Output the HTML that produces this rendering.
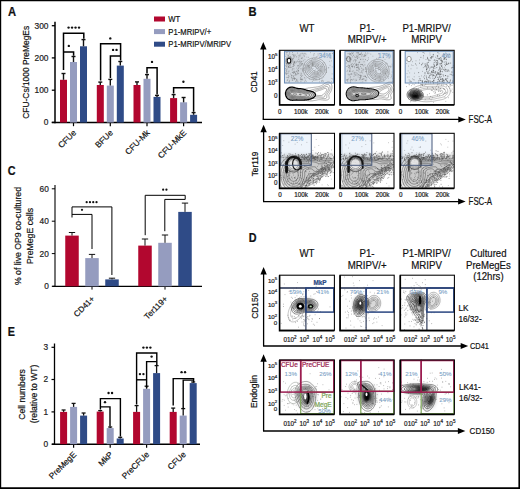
<!DOCTYPE html>
<html><head><meta charset="utf-8"><style>
html,body{margin:0;padding:0;background:#fff;}
svg{display:block;font-family:"Liberation Sans", sans-serif;}
</style></head><body>
<svg width="520" height="489" viewBox="0 0 520 489">
<rect x="0" y="0" width="520" height="489" fill="#fff"/>
<text transform="translate(8.1 15.8) scale(0.9 1)" font-size="12.44" text-anchor="start" font-weight="bold" fill="#111"  stroke="#111" stroke-width="0.2">A</text>
<line x1="55" y1="21.8" x2="55" y2="123.2" stroke="#000" stroke-width="1.5"/>
<line x1="51.8" y1="122.4" x2="55" y2="122.4" stroke="#000" stroke-width="1.3"/>
<text x="48.5" y="125.30000000000001" font-size="8.4" text-anchor="end" font-weight="normal" fill="#222"  stroke="#222" stroke-width="0.2">0</text>
<line x1="51.8" y1="90.2" x2="55" y2="90.2" stroke="#000" stroke-width="1.3"/>
<text x="48.5" y="93.10000000000001" font-size="8.4" text-anchor="end" font-weight="normal" fill="#222"  stroke="#222" stroke-width="0.2">100</text>
<line x1="51.8" y1="57.9" x2="55" y2="57.9" stroke="#000" stroke-width="1.3"/>
<text x="48.5" y="60.8" font-size="8.4" text-anchor="end" font-weight="normal" fill="#222"  stroke="#222" stroke-width="0.2">200</text>
<line x1="51.8" y1="25.7" x2="55" y2="25.7" stroke="#000" stroke-width="1.3"/>
<text x="48.5" y="28.599999999999998" font-size="8.4" text-anchor="end" font-weight="normal" fill="#222"  stroke="#222" stroke-width="0.2">300</text>
<line x1="51.8" y1="122.5" x2="202" y2="122.5" stroke="#000" stroke-width="1.6"/>
<line x1="73.5" y1="122.5" x2="73.5" y2="126.2" stroke="#000" stroke-width="1.2"/>
<line x1="110.3" y1="122.5" x2="110.3" y2="126.2" stroke="#000" stroke-width="1.2"/>
<line x1="147.0" y1="122.5" x2="147.0" y2="126.2" stroke="#000" stroke-width="1.2"/>
<line x1="183.6" y1="122.5" x2="183.6" y2="126.2" stroke="#000" stroke-width="1.2"/>
<rect x="60.0" y="79.8" width="7" height="42.7" fill="#b2072f" />
<line x1="63.5" y1="79.8" x2="63.5" y2="73.5" stroke="#111" stroke-width="1.4"/>
<line x1="61.5" y1="73.5" x2="65.5" y2="73.5" stroke="#111" stroke-width="1.4"/>
<rect x="70.0" y="62.0" width="7" height="60.5" fill="#959cbf" />
<line x1="73.5" y1="62.0" x2="73.5" y2="56.5" stroke="#111" stroke-width="1.4"/>
<line x1="71.5" y1="56.5" x2="75.5" y2="56.5" stroke="#111" stroke-width="1.4"/>
<rect x="80.0" y="46.3" width="7" height="76.2" fill="#2f4b87" />
<line x1="83.5" y1="46.3" x2="83.5" y2="39.6" stroke="#111" stroke-width="1.4"/>
<line x1="81.5" y1="39.6" x2="85.5" y2="39.6" stroke="#111" stroke-width="1.4"/>
<rect x="96.8" y="85.0" width="7" height="37.5" fill="#b2072f" />
<line x1="100.3" y1="85.0" x2="100.3" y2="82.1" stroke="#111" stroke-width="1.4"/>
<line x1="98.3" y1="82.1" x2="102.3" y2="82.1" stroke="#111" stroke-width="1.4"/>
<rect x="106.8" y="85.6" width="7" height="36.900000000000006" fill="#959cbf" />
<line x1="110.3" y1="85.6" x2="110.3" y2="79.4" stroke="#111" stroke-width="1.4"/>
<line x1="108.3" y1="79.4" x2="112.3" y2="79.4" stroke="#111" stroke-width="1.4"/>
<rect x="116.8" y="65.6" width="7" height="56.900000000000006" fill="#2f4b87" />
<line x1="120.3" y1="65.6" x2="120.3" y2="61.5" stroke="#111" stroke-width="1.4"/>
<line x1="118.3" y1="61.5" x2="122.3" y2="61.5" stroke="#111" stroke-width="1.4"/>
<rect x="133.5" y="85.0" width="7" height="37.5" fill="#b2072f" />
<line x1="137.0" y1="85.0" x2="137.0" y2="81.9" stroke="#111" stroke-width="1.4"/>
<line x1="135.0" y1="81.9" x2="139.0" y2="81.9" stroke="#111" stroke-width="1.4"/>
<rect x="143.5" y="78.8" width="7" height="43.7" fill="#959cbf" />
<line x1="147.0" y1="78.8" x2="147.0" y2="74.6" stroke="#111" stroke-width="1.4"/>
<line x1="145.0" y1="74.6" x2="149.0" y2="74.6" stroke="#111" stroke-width="1.4"/>
<rect x="153.5" y="96.9" width="7" height="25.599999999999994" fill="#2f4b87" />
<line x1="157.0" y1="96.9" x2="157.0" y2="95.4" stroke="#111" stroke-width="1.4"/>
<line x1="155.0" y1="95.4" x2="159.0" y2="95.4" stroke="#111" stroke-width="1.4"/>
<rect x="170.1" y="98.1" width="7" height="24.400000000000006" fill="#b2072f" />
<line x1="173.6" y1="98.1" x2="173.6" y2="94.6" stroke="#111" stroke-width="1.4"/>
<line x1="171.6" y1="94.6" x2="175.6" y2="94.6" stroke="#111" stroke-width="1.4"/>
<rect x="180.1" y="102.3" width="7" height="20.200000000000003" fill="#959cbf" />
<line x1="183.6" y1="102.3" x2="183.6" y2="97.5" stroke="#111" stroke-width="1.4"/>
<line x1="181.6" y1="97.5" x2="185.6" y2="97.5" stroke="#111" stroke-width="1.4"/>
<rect x="190.1" y="114.8" width="7" height="7.700000000000003" fill="#2f4b87" />
<line x1="193.6" y1="114.8" x2="193.6" y2="112.6" stroke="#111" stroke-width="1.4"/>
<line x1="191.6" y1="112.6" x2="195.6" y2="112.6" stroke="#111" stroke-width="1.4"/>
<path d="M63.5,70 V33.2 H83.8 V38.8" stroke="#000" stroke-width="1.5" fill="none" />
<g fill="#111"><circle cx="68.57" cy="27.58" r="1.19"/><circle cx="72.06" cy="27.58" r="1.19"/><circle cx="75.54" cy="27.58" r="1.19"/><circle cx="79.03" cy="27.58" r="1.19"/></g>
<path d="M63.5,52 H73.6 V55.8" stroke="#000" stroke-width="1.5" fill="none" />
<g fill="#111"><circle cx="68.80" cy="45.88" r="1.19"/></g>
<path d="M100.6,80.5 V43.8 H120.6 V60.6" stroke="#000" stroke-width="1.5" fill="none" />
<g fill="#111"><circle cx="110.30" cy="38.38" r="1.19"/></g>
<path d="M110.4,78.0 V56.0 H120.6" stroke="#000" stroke-width="1.5" fill="none" />
<g fill="#111"><circle cx="113.06" cy="49.88" r="1.19"/><circle cx="116.54" cy="49.88" r="1.19"/></g>
<path d="M147.0,73.6 V67.8 H157.1 V94.6" stroke="#000" stroke-width="1.5" fill="none" />
<g fill="#111"><circle cx="152.00" cy="61.88" r="1.19"/></g>
<path d="M173.6,93.6 V87.8 H193.6 V111.8" stroke="#000" stroke-width="1.5" fill="none" />
<g fill="#111"><circle cx="183.40" cy="81.78" r="1.19"/></g>
<text transform="translate(29.3 72.3) rotate(-90) scale(0.92 1)" font-size="9.13" text-anchor="middle" fill="#111" stroke="#111" stroke-width="0.2">CFU-Cs/1000 PreMegEs</text>
<text transform="translate(76.8,133.3) rotate(-45)" font-size="8.3" text-anchor="end" fill="#111" stroke="#111" stroke-width="0.2">CFUe</text>
<text transform="translate(113.6,133.3) rotate(-45)" font-size="8.3" text-anchor="end" fill="#111" stroke="#111" stroke-width="0.2">BFUe</text>
<text transform="translate(150.3,133.3) rotate(-45)" font-size="8.3" text-anchor="end" fill="#111" stroke="#111" stroke-width="0.2">CFU-Mk</text>
<text transform="translate(186.9,133.3) rotate(-45)" font-size="8.3" text-anchor="end" fill="#111" stroke="#111" stroke-width="0.2">CFU-MkE</text>
<rect x="154" y="16.5" width="11" height="5" fill="#b2072f" />
<text transform="translate(168.3 22.0) scale(0.84 1)" font-size="9.17" text-anchor="start" font-weight="normal" fill="#111"  stroke="#111" stroke-width="0.2">WT</text>
<rect x="154" y="29.1" width="11" height="5" fill="#959cbf" />
<text transform="translate(168.3 34.6) scale(0.84 1)" font-size="9.17" text-anchor="start" font-weight="normal" fill="#111"  stroke="#111" stroke-width="0.2">P1-MRIPV/+</text>
<rect x="154" y="41.7" width="11" height="5" fill="#2f4b87" />
<text transform="translate(168.3 47.2) scale(0.84 1)" font-size="9.17" text-anchor="start" font-weight="normal" fill="#111"  stroke="#111" stroke-width="0.2">P1-MRIPV/MRIPV</text>
<text transform="translate(7.7 175.3) scale(0.9 1)" font-size="12.00" text-anchor="start" font-weight="bold" fill="#111"  stroke="#111" stroke-width="0.2">C</text>
<line x1="55" y1="185.0" x2="55" y2="286.8" stroke="#000" stroke-width="1.1"/>
<line x1="51.8" y1="286.3" x2="55" y2="286.3" stroke="#000" stroke-width="1.0"/>
<text x="48.8" y="289.2" font-size="8.3" text-anchor="end" font-weight="normal" fill="#222"  stroke="#222" stroke-width="0.2">0</text>
<line x1="51.8" y1="253.6" x2="55" y2="253.6" stroke="#000" stroke-width="1.0"/>
<text x="48.8" y="256.5" font-size="8.3" text-anchor="end" font-weight="normal" fill="#222"  stroke="#222" stroke-width="0.2">20</text>
<line x1="51.8" y1="221.2" x2="55" y2="221.2" stroke="#000" stroke-width="1.0"/>
<text x="48.8" y="224.1" font-size="8.3" text-anchor="end" font-weight="normal" fill="#222"  stroke="#222" stroke-width="0.2">40</text>
<line x1="51.8" y1="188.8" x2="55" y2="188.8" stroke="#000" stroke-width="1.0"/>
<text x="48.8" y="191.70000000000002" font-size="8.3" text-anchor="end" font-weight="normal" fill="#222"  stroke="#222" stroke-width="0.2">60</text>
<line x1="52.3" y1="286.3" x2="202" y2="286.3" stroke="#000" stroke-width="1.2"/>
<line x1="92" y1="286.3" x2="92" y2="289.6" stroke="#000" stroke-width="1.0"/>
<line x1="165" y1="286.3" x2="165" y2="289.6" stroke="#000" stroke-width="1.0"/>
<rect x="65.25" y="235.6" width="13.5" height="50.70000000000002" fill="#b2072f" />
<line x1="72.0" y1="235.6" x2="72.0" y2="232.5" stroke="#111" stroke-width="1.0"/>
<line x1="68.85" y1="232.5" x2="75.15" y2="232.5" stroke="#111" stroke-width="1.0"/>
<rect x="85.25" y="258.1" width="13.5" height="28.19999999999999" fill="#959cbf" />
<line x1="92.0" y1="258.1" x2="92.0" y2="254.4" stroke="#111" stroke-width="1.0"/>
<line x1="88.85" y1="254.4" x2="95.15" y2="254.4" stroke="#111" stroke-width="1.0"/>
<rect x="105.25" y="279.4" width="13.5" height="6.900000000000034" fill="#2f4b87" />
<line x1="112.0" y1="279.4" x2="112.0" y2="278.2" stroke="#111" stroke-width="1.0"/>
<line x1="108.85" y1="278.2" x2="115.15" y2="278.2" stroke="#111" stroke-width="1.0"/>
<rect x="138.25" y="245.6" width="13.5" height="40.70000000000002" fill="#b2072f" />
<line x1="145.0" y1="245.6" x2="145.0" y2="239.0" stroke="#111" stroke-width="1.0"/>
<line x1="141.85" y1="239.0" x2="148.15" y2="239.0" stroke="#111" stroke-width="1.0"/>
<rect x="158.25" y="242.8" width="13.5" height="43.5" fill="#959cbf" />
<line x1="165.0" y1="242.8" x2="165.0" y2="235.0" stroke="#111" stroke-width="1.0"/>
<line x1="161.85" y1="235.0" x2="168.15" y2="235.0" stroke="#111" stroke-width="1.0"/>
<rect x="178.25" y="211.9" width="13.5" height="74.4" fill="#2f4b87" />
<line x1="185.0" y1="211.9" x2="185.0" y2="203.1" stroke="#111" stroke-width="1.0"/>
<line x1="181.85" y1="203.1" x2="188.15" y2="203.1" stroke="#111" stroke-width="1.0"/>
<path d="M72,217.5 V206.9 H111.9 V275" stroke="#000" stroke-width="1.0" fill="none" />
<g fill="#111"><circle cx="86.68" cy="202.24" r="1.12"/><circle cx="89.96" cy="202.24" r="1.12"/><circle cx="93.24" cy="202.24" r="1.12"/><circle cx="96.52" cy="202.24" r="1.12"/></g>
<path d="M72,214.4 H92 V249" stroke="#000" stroke-width="1.0" fill="none" />
<g fill="#111"><circle cx="82.00" cy="209.84" r="1.12"/></g>
<path d="M145.2,235.2 V195.3 H185.2 V199.4" stroke="#000" stroke-width="1.0" fill="none" />
<g fill="#111"><circle cx="163.16" cy="189.64" r="1.12"/><circle cx="166.44" cy="189.64" r="1.12"/></g>
<path d="M164.8,231.2 V199.4 H185.2" stroke="#000" stroke-width="1.0" fill="none" />
<text transform="translate(20.6,236) rotate(-90)" font-size="8.7" text-anchor="middle" fill="#111" stroke="#111" stroke-width="0.2">% of live OP9 co-cultured</text>
<text transform="translate(33.4,236) rotate(-90)" font-size="8.7" text-anchor="middle" fill="#111" stroke="#111" stroke-width="0.2">PreMegE cells</text>
<text transform="translate(95.2,299.3) rotate(-45)" font-size="8.2" text-anchor="end" fill="#111" stroke="#111" stroke-width="0.2">CD41+</text>
<text transform="translate(168.2,299.3) rotate(-45)" font-size="8.2" text-anchor="end" fill="#111" stroke="#111" stroke-width="0.2">Ter119+</text>
<text transform="translate(7.7 336.1) scale(0.9 1)" font-size="12.00" text-anchor="start" font-weight="bold" fill="#111"  stroke="#111" stroke-width="0.2">E</text>
<line x1="54.5" y1="343.5" x2="54.5" y2="444.8" stroke="#000" stroke-width="1.3"/>
<line x1="51.5" y1="444.2" x2="54.5" y2="444.2" stroke="#000" stroke-width="1.2"/>
<text x="48.2" y="447.09999999999997" font-size="8.3" text-anchor="end" font-weight="normal" fill="#222"  stroke="#222" stroke-width="0.2">0</text>
<line x1="51.5" y1="411.9" x2="54.5" y2="411.9" stroke="#000" stroke-width="1.2"/>
<text x="48.2" y="414.79999999999995" font-size="8.3" text-anchor="end" font-weight="normal" fill="#222"  stroke="#222" stroke-width="0.2">1</text>
<line x1="51.5" y1="379.5" x2="54.5" y2="379.5" stroke="#000" stroke-width="1.2"/>
<text x="48.2" y="382.4" font-size="8.3" text-anchor="end" font-weight="normal" fill="#222"  stroke="#222" stroke-width="0.2">2</text>
<line x1="51.5" y1="347.3" x2="54.5" y2="347.3" stroke="#000" stroke-width="1.2"/>
<text x="48.2" y="350.2" font-size="8.3" text-anchor="end" font-weight="normal" fill="#222"  stroke="#222" stroke-width="0.2">3</text>
<line x1="52" y1="444.2" x2="200" y2="444.2" stroke="#000" stroke-width="1.5"/>
<line x1="73.6" y1="444.2" x2="73.6" y2="447.8" stroke="#000" stroke-width="1.2"/>
<line x1="110.2" y1="444.2" x2="110.2" y2="447.8" stroke="#000" stroke-width="1.2"/>
<line x1="146.6" y1="444.2" x2="146.6" y2="447.8" stroke="#000" stroke-width="1.2"/>
<line x1="183.2" y1="444.2" x2="183.2" y2="447.8" stroke="#000" stroke-width="1.2"/>
<rect x="60.099999999999994" y="411.9" width="7" height="32.30000000000001" fill="#b2072f" />
<line x1="63.599999999999994" y1="411.9" x2="63.599999999999994" y2="410.0" stroke="#111" stroke-width="1.3"/>
<line x1="61.599999999999994" y1="410.0" x2="65.6" y2="410.0" stroke="#111" stroke-width="1.3"/>
<rect x="70.1" y="406.9" width="7" height="37.30000000000001" fill="#959cbf" />
<line x1="73.6" y1="406.9" x2="73.6" y2="403.4" stroke="#111" stroke-width="1.3"/>
<line x1="71.6" y1="403.4" x2="75.6" y2="403.4" stroke="#111" stroke-width="1.3"/>
<rect x="80.1" y="415.6" width="7" height="28.599999999999966" fill="#2f4b87" />
<line x1="83.6" y1="415.6" x2="83.6" y2="413.0" stroke="#111" stroke-width="1.3"/>
<line x1="81.6" y1="413.0" x2="85.6" y2="413.0" stroke="#111" stroke-width="1.3"/>
<rect x="96.7" y="411.6" width="7" height="32.599999999999966" fill="#b2072f" />
<line x1="100.2" y1="411.6" x2="100.2" y2="410.6" stroke="#111" stroke-width="1.3"/>
<line x1="98.2" y1="410.6" x2="102.2" y2="410.6" stroke="#111" stroke-width="1.3"/>
<rect x="106.7" y="428.1" width="7" height="16.099999999999966" fill="#959cbf" />
<line x1="110.2" y1="428.1" x2="110.2" y2="427.0" stroke="#111" stroke-width="1.3"/>
<line x1="108.2" y1="427.0" x2="112.2" y2="427.0" stroke="#111" stroke-width="1.3"/>
<rect x="116.7" y="438.5" width="7" height="5.699999999999989" fill="#2f4b87" />
<line x1="120.2" y1="438.5" x2="120.2" y2="437.3" stroke="#111" stroke-width="1.3"/>
<line x1="118.2" y1="437.3" x2="122.2" y2="437.3" stroke="#111" stroke-width="1.3"/>
<rect x="133.1" y="411.9" width="7" height="32.30000000000001" fill="#b2072f" />
<line x1="136.6" y1="411.9" x2="136.6" y2="405.6" stroke="#111" stroke-width="1.3"/>
<line x1="134.6" y1="405.6" x2="138.6" y2="405.6" stroke="#111" stroke-width="1.3"/>
<rect x="143.1" y="388.8" width="7" height="55.39999999999998" fill="#959cbf" />
<line x1="146.6" y1="388.8" x2="146.6" y2="386.2" stroke="#111" stroke-width="1.3"/>
<line x1="144.6" y1="386.2" x2="148.6" y2="386.2" stroke="#111" stroke-width="1.3"/>
<rect x="153.1" y="373.1" width="7" height="71.09999999999997" fill="#2f4b87" />
<line x1="156.6" y1="373.1" x2="156.6" y2="365.6" stroke="#111" stroke-width="1.3"/>
<line x1="154.6" y1="365.6" x2="158.6" y2="365.6" stroke="#111" stroke-width="1.3"/>
<rect x="169.7" y="411.9" width="7" height="32.30000000000001" fill="#b2072f" />
<line x1="173.2" y1="411.9" x2="173.2" y2="408.1" stroke="#111" stroke-width="1.3"/>
<line x1="171.2" y1="408.1" x2="175.2" y2="408.1" stroke="#111" stroke-width="1.3"/>
<rect x="179.7" y="415.6" width="7" height="28.599999999999966" fill="#959cbf" />
<line x1="183.2" y1="415.6" x2="183.2" y2="408.6" stroke="#111" stroke-width="1.3"/>
<line x1="181.2" y1="408.6" x2="185.2" y2="408.6" stroke="#111" stroke-width="1.3"/>
<rect x="189.7" y="383.1" width="7" height="61.099999999999966" fill="#2f4b87" />
<line x1="193.2" y1="383.1" x2="193.2" y2="382.0" stroke="#111" stroke-width="1.3"/>
<line x1="191.2" y1="382.0" x2="195.2" y2="382.0" stroke="#111" stroke-width="1.3"/>
<path d="M100.4,409.5 V398.6 H120.4 V436.6" stroke="#000" stroke-width="1.4" fill="none" />
<g fill="#111"><circle cx="108.56" cy="392.98" r="1.19"/><circle cx="112.04" cy="392.98" r="1.19"/></g>
<path d="M100.4,406.9 H110.0 V426.6" stroke="#000" stroke-width="1.4" fill="none" />
<g fill="#111"><circle cx="105.00" cy="402.18" r="1.19"/></g>
<path d="M136.6,404.5 V353.0 H156.8 V365.0" stroke="#000" stroke-width="1.4" fill="none" />
<g fill="#111"><circle cx="143.41" cy="347.58" r="1.19"/><circle cx="146.90" cy="347.58" r="1.19"/><circle cx="150.38" cy="347.58" r="1.19"/></g>
<path d="M146.6,388.0 V361.6 H156.8" stroke="#000" stroke-width="1.4" fill="none" />
<g fill="#111"><circle cx="151.60" cy="356.58" r="1.19"/></g>
<path d="M136.6,379.8 H146.6" stroke="#000" stroke-width="1.4" fill="none" />
<g fill="#111"><circle cx="139.96" cy="374.08" r="1.19"/><circle cx="143.44" cy="374.08" r="1.19"/></g>
<path d="M173.2,405.6 V378.6 H193.6 V382.0" stroke="#000" stroke-width="1.4" fill="none" />
<g fill="#111"><circle cx="181.56" cy="372.18" r="1.19"/><circle cx="185.04" cy="372.18" r="1.19"/></g>
<path d="M183.2,408.6 V380.1 H193.6" stroke="#000" stroke-width="1.4" fill="none" />
<text transform="translate(25.0,394.5) rotate(-90)" font-size="8.6" text-anchor="middle" fill="#111" stroke="#111" stroke-width="0.2">Cell numbers</text>
<text transform="translate(37.3,394.0) rotate(-90)" font-size="8.6" text-anchor="middle" fill="#111" stroke="#111" stroke-width="0.2">(relative to WT)</text>
<text transform="translate(76.8,455.0) rotate(-45)" font-size="8.3" text-anchor="end" fill="#111" stroke="#111" stroke-width="0.2">PreMegE</text>
<text transform="translate(113.4,455.0) rotate(-45)" font-size="8.3" text-anchor="end" fill="#111" stroke="#111" stroke-width="0.2">MkP</text>
<text transform="translate(149.79999999999998,455.0) rotate(-45)" font-size="8.3" text-anchor="end" fill="#111" stroke="#111" stroke-width="0.2">PreCFUe</text>
<text transform="translate(186.39999999999998,455.0) rotate(-45)" font-size="8.3" text-anchor="end" fill="#111" stroke="#111" stroke-width="0.2">CFUe</text>
<text transform="translate(248.6 15.8) scale(0.9 1)" font-size="12.44" text-anchor="start" font-weight="bold" fill="#111"  stroke="#111" stroke-width="0.2">B</text>
<text transform="translate(307 32.0) scale(0.88 1)" font-size="11.02" text-anchor="middle" font-weight="normal" fill="#111"  stroke="#111" stroke-width="0.2">WT</text>
<text transform="translate(367 32.0) scale(0.88 1)" font-size="11.02" text-anchor="middle" font-weight="normal" fill="#111"  stroke="#111" stroke-width="0.2">P1-</text>
<text transform="translate(367.2 43.2) scale(0.88 1)" font-size="11.02" text-anchor="middle" font-weight="normal" fill="#111"  stroke="#111" stroke-width="0.2">MRIPV/+</text>
<text transform="translate(426.6 32.0) scale(0.88 1)" font-size="11.02" text-anchor="middle" font-weight="normal" fill="#111"  stroke="#111" stroke-width="0.2">P1-MRIPV/</text>
<text transform="translate(426.6 43.2) scale(0.88 1)" font-size="11.02" text-anchor="middle" font-weight="normal" fill="#111"  stroke="#111" stroke-width="0.2">MRIPV</text>
<rect x="279.5" y="50.3" width="55.0" height="54.400000000000006" fill="#fff"/>
<rect x="284.5" y="51.3" width="49.0" height="31.700000000000003" fill="#e9f1fa"/>
<clipPath id="c1"><rect x="279.5" y="50.3" width="55.0" height="54.400000000000006"/></clipPath><g clip-path="url(#c1)">
<filter id="b0" x="-50%" y="-50%" width="200%" height="200%"><feGaussianBlur stdDeviation="1.2"/></filter>
<path d="M285.5,52.3 L332.5,52.3 L332.5,82.3 L285.5,82.3Z" fill="#999" opacity="0.17" filter="url(#b0)"/>
<filter id="b1" x="-50%" y="-50%" width="200%" height="200%"><feGaussianBlur stdDeviation="1.5"/></filter>
<path d="M285.5,52.3 L305.5,52.3 L305.5,82.3 L285.5,82.3Z" fill="#888" opacity="0.13" filter="url(#b1)"/>
<path d="M312.4 65.2h0M312.7 58.5h0M323.7 77.0h0M316.2 57.1h0M310.0 62.1h0M297.2 80.9h0M332.3 53.6h0M325.9 70.4h0M303.4 60.8h0M317.2 66.0h0M317.7 72.2h0M291.7 75.3h0M331.7 81.4h0M314.3 53.6h0M285.7 56.3h0M329.7 61.4h0M302.7 79.2h0M300.3 68.8h0M306.0 54.2h0M313.0 77.6h0M292.9 59.0h0M304.9 53.4h0M308.8 76.8h0M316.4 68.3h0M325.7 56.8h0M312.2 63.5h0M313.8 55.7h0M321.9 55.2h0M293.3 76.5h0M330.0 65.3h0M305.0 59.7h0M298.4 70.8h0M293.9 55.9h0M306.9 57.2h0M316.0 76.9h0M322.0 66.7h0M301.8 65.3h0M285.7 73.7h0M301.1 61.9h0M289.3 65.7h0M312.9 64.0h0M326.4 72.5h0M296.8 68.1h0M328.3 67.9h0M313.8 54.2h0M308.5 66.1h0M304.4 64.9h0M313.0 68.5h0M308.5 57.3h0M306.2 81.4h0M305.0 53.4h0M285.6 68.4h0M287.9 55.1h0M290.6 65.9h0M332.2 66.9h0M307.1 65.4h0M309.1 65.7h0M319.6 79.2h0M318.3 65.0h0M316.0 79.6h0M292.7 59.4h0M314.6 72.9h0M315.7 70.0h0M324.5 66.7h0M323.5 81.2h0M306.0 78.1h0M319.3 79.0h0M287.7 79.7h0M321.5 81.2h0M331.6 60.9h0M317.0 56.5h0M313.5 79.9h0M294.5 62.8h0M289.2 58.1h0M295.3 55.2h0M332.5 78.9h0M307.3 74.6h0M318.2 68.0h0M305.4 72.2h0M311.6 60.3h0M302.6 71.1h0M315.0 58.6h0M314.2 78.5h0M326.5 71.9h0M288.8 65.0h0M289.7 54.0h0M297.5 66.0h0M321.2 71.2h0M298.8 73.2h0M309.3 67.5h0M297.9 65.5h0M301.6 74.1h0M308.2 65.7h0M307.9 66.7h0M317.9 73.9h0M323.2 64.5h0M322.8 81.2h0M332.1 73.9h0M288.6 77.7h0M324.8 52.8h0M300.9 62.0h0M320.3 70.6h0M298.8 57.9h0M293.4 55.2h0M322.7 80.4h0M295.8 74.6h0M330.2 58.1h0M312.4 65.5h0M331.3 78.4h0M286.3 58.3h0M325.4 69.5h0M310.1 76.6h0M321.4 80.9h0M300.9 53.7h0M318.0 53.8h0M312.1 78.1h0M304.2 70.3h0M293.6 57.0h0M314.0 78.2h0M332.5 53.2h0M328.8 67.6h0M301.9 64.2h0M312.7 62.7h0M292.3 78.3h0M318.7 70.6h0M319.5 81.9h0M293.7 77.0h0M324.1 62.6h0M311.8 66.1h0M294.6 65.3h0M292.7 80.3h0M294.3 71.3h0M312.3 81.5h0M322.8 63.1h0M303.2 53.8h0M287.9 61.6h0M330.1 53.8h0M293.8 71.4h0M302.4 57.9h0M330.0 53.6h0M313.6 65.2h0M301.7 58.1h0M293.2 64.5h0M320.9 66.3h0M322.0 78.7h0M293.6 78.7h0M312.8 64.9h0M309.6 79.0h0M303.9 55.1h0M330.6 55.9h0M290.5 74.0h0M300.1 61.0h0M316.0 79.0h0M301.7 79.5h0M314.6 70.5h0M310.5 52.7h0M292.9 72.6h0M318.1 55.2h0M315.4 66.5h0M312.6 64.3h0M295.7 63.0h0M331.0 58.0h0M326.0 68.2h0M289.0 76.6h0M286.3 77.4h0" stroke="#333" stroke-width="0.70" stroke-linecap="round" opacity="0.45"/>
<path d="M292.3 79.9h0M300.0 63.1h0M298.0 81.9h0M288.9 58.5h0M291.3 76.9h0M290.4 59.7h0M297.8 69.8h0M293.9 68.8h0M286.1 52.5h0M286.1 54.0h0M300.9 81.7h0M288.0 63.9h0M285.8 65.3h0M298.7 71.0h0M303.5 68.9h0M286.6 63.6h0M294.7 62.4h0M286.2 71.1h0M295.3 73.6h0M292.8 54.4h0M290.8 57.6h0M294.7 56.9h0M287.1 68.0h0M288.3 55.4h0M287.9 73.5h0M301.6 76.6h0M297.0 71.4h0M300.6 65.1h0M295.7 73.7h0M298.2 70.6h0M298.4 68.4h0M289.8 61.5h0M299.3 64.9h0M302.7 63.5h0M298.9 55.8h0M291.5 77.8h0M289.0 71.1h0M286.1 70.6h0M294.5 79.3h0M302.0 75.5h0M292.3 72.4h0M288.6 67.0h0M293.3 66.4h0M291.0 58.7h0M295.9 71.9h0M296.8 80.9h0M296.6 56.8h0M298.3 61.8h0M304.3 56.2h0M294.7 72.5h0M304.9 68.0h0M293.1 75.6h0M301.2 79.7h0M299.9 56.1h0M305.3 80.2h0M294.2 72.1h0M302.2 79.8h0M300.0 55.0h0M286.9 63.3h0M294.6 61.6h0M300.5 75.2h0M293.5 73.2h0M289.4 80.8h0M290.3 57.0h0M293.1 78.2h0M297.5 72.9h0M301.9 63.9h0M304.7 81.9h0M296.2 74.8h0M302.6 70.0h0M288.1 72.0h0M294.6 77.9h0M289.7 52.7h0M289.1 57.4h0M293.2 58.5h0M292.2 70.0h0M288.6 66.8h0M292.6 52.4h0M299.0 67.3h0M301.0 78.6h0M286.5 73.7h0M294.7 78.5h0M287.8 77.5h0M294.1 55.1h0M294.7 78.6h0M287.0 63.7h0M287.1 52.5h0M302.0 68.8h0M296.9 79.3h0M287.2 80.6h0M300.6 77.8h0M301.8 64.1h0M286.0 82.2h0M298.2 73.7h0M299.4 61.3h0M298.6 65.8h0M290.0 67.3h0M294.9 61.4h0M300.5 79.6h0M297.5 53.0h0M296.4 71.2h0M301.8 61.4h0M290.2 63.5h0M288.7 75.7h0M286.0 69.2h0M302.2 53.3h0M288.8 82.1h0M291.7 75.3h0M286.1 66.3h0M286.4 59.7h0M285.8 72.7h0M294.6 62.9h0M293.9 72.7h0M290.7 56.9h0M286.3 71.9h0M298.8 59.5h0M295.8 81.4h0M295.0 75.3h0M292.5 68.9h0M301.1 73.2h0M297.4 61.1h0M286.6 66.8h0M300.0 63.1h0M300.0 66.4h0M286.9 69.7h0M296.5 62.0h0M289.5 81.9h0M297.2 74.0h0M286.3 74.3h0M288.7 66.8h0M293.4 64.0h0M301.3 58.4h0M304.4 77.8h0M295.3 78.6h0M296.5 79.8h0" stroke="#333" stroke-width="0.72" stroke-linecap="round" opacity="0.55"/>
<path d="M317.1,79.7l-.7 .1 -.8 .1 -.7 0 -.8 0 -.7-.1 -.8-.1 -.5-.1 -.7-.2 -.5-.1 -.5-.2 -.5-.2 -.5-.3 -.5-.2 -.5-.3 -.5-.3 -.5-.4 -.3-.2 -.5-.5 -.3-.3 -.4-.4 -.3-.3 -.4-.5 -.3-.5 -.3-.4 -.2-.5 -.3-.5 -.2-.6 -.2-.5 -.2-.5 -.1-.7 -.1-.6 -.1-.7 -.1-.8 .1-.7 0-.8 .2-.7 .1-.5 .1-.5 .3-.7 .2-.6 .2-.5 .3-.5 .3-.4 .2-.4 .4-.4 .4-.5 .2-.3 .5-.5 .3-.2 .5-.4 .5-.4 .4-.2 .4-.3 .5-.2 .5-.3 .6-.2 .6-.2 .5-.2 .6-.1 .6-.1 .8-.2 .5 0 .7 0 .8 0 .5 0 .7 .1 .8 .2 .5 .1 .5 .1 .7 .3 .5 .2 .5 .2 .5 .3 .5 .3 .5 .2 .3 .3 .5 .3 .4 .4 .3 .3 .5 .5 .3 .3 .3 .4 .4 .5 .3 .5 .2 .4 .3 .5 .2 .5 .3 .6 .1 .5 .2 .5 .1 .8 .1 .5 .1 .7 0 .8 0 .7 -.1 .8 -.1 .5 -.2 .7 -.1 .5 -.2 .5 -.2 .5 -.2 .5 -.3 .5 -.4 .5 -.3 .5 -.3 .3 -.4 .5 -.3 .3 -.4 .4 -.4 .3 -.5 .4 -.5 .3 -.4 .3 -.4 .2 -.5 .3 -.6 .2 -.6 .3 -.5 .1 -.5 .2 -.7 .2z" fill="none" stroke="#707070" stroke-width="0.5"/><path d="M316.4,77.9l-.8 .1 -.7 0 -.8 0 -.6-.1 -.6-.1 -.6-.1 -.7-.2 -.5-.2 -.5-.2 -.5-.3 -.5-.2 -.5-.4 -.4-.3 -.3-.3 -.5-.4 -.3-.3 -.4-.5 -.3-.4 -.3-.3 -.3-.5 -.2-.5 -.3-.5 -.2-.6 -.2-.7 -.1-.5 -.1-.7 -.1-.8 0-.5 0-.5 .1-.7 .2-.7 .1-.6 .2-.5 .2-.5 .2-.5 .3-.5 .4-.5 .3-.4 .3-.3 .5-.5 .3-.3 .4-.3 .5-.4 .5-.3 .5-.2 .5-.2 .5-.2 .5-.1 .8-.2 .5-.1 .7-.1 .8 0 .7 0 .8 .1 .5 0 .7 .2 .5 .1 .7 .2 .6 .3 .5 .2 .4 .3 .4 .2 .4 .3 .5 .4 .4 .3 .4 .4 .4 .4 .3 .4 .3 .4 .3 .4 .3 .5 .2 .5 .2 .5 .2 .6 .2 .7 .1 .5 .2 .7 0 .8 0 .7 -.1 .8 -.1 .7 -.1 .5 -.2 .5 -.2 .5 -.3 .5 -.3 .5 -.3 .5 -.4 .4 -.3 .4 -.4 .3 -.5 .4 -.3 .3 -.5 .3 -.5 .3 -.5 .2 -.5 .2 -.5 .2 -.7 .2 -.5 .2 -.8 .1z" fill="none" stroke="#707070" stroke-width="0.5"/><path d="M316.9,76.4l-.8 .1 -.7 .1 -.8-.1 -.7 0 -.5-.1 -.8-.2 -.5-.2 -.5-.2 -.5-.2 -.5-.3 -.5-.3 -.4-.3 -.3-.3 -.5-.5 -.3-.3 -.3-.4 -.4-.5 -.3-.5 -.2-.5 -.2-.5 -.2-.5 -.1-.5 -.2-.8 -.1-.7 0-.5 0-.5 .1-.8 .2-.7 .2-.5 .2-.5 .2-.5 .3-.5 .3-.4 .3-.4 .5-.4 .4-.3 .4-.3 .4-.2 .5-.3 .7-.2 .6-.2 .5-.1 .7-.1 .8 0 .7 0 .8 0 .6 .1 .6 .2 .5 .1 .6 .2 .6 .3 .5 .2 .4 .3 .4 .3 .5 .3 .4 .4 .4 .4 .3 .3 .4 .5 .3 .5 .2 .4 .3 .6 .2 .5 .2 .5 .1 .5 .2 .8 0 .5 .1 .7 -.1 .8 -.1 .5 -.1 .6 -.3 .6 -.2 .5 -.3 .4 -.2 .4 -.5 .5 -.3 .3 -.5 .4 -.4 .3 -.4 .2 -.5 .3 -.6 .2 -.6 .2 -.5 .2 -.7 .1z" fill="none" stroke="#707070" stroke-width="0.5"/><path d="M316.9,75.2l-.8 .1 -.7 0 -.8-.1 -.5-.1 -.7-.1 -.5-.2 -.5-.2 -.5-.2 -.5-.3 -.5-.4 -.4-.3 -.4-.3 -.3-.4 -.4-.5 -.3-.4 -.2-.4 -.3-.5 -.2-.5 -.3-.7 -.1-.5 -.1-.8 0-.7 .1-.8 .1-.7 .2-.5 .2-.5 .4-.5 .2-.4 .4-.4 .4-.3 .5-.3 .5-.2 .5-.2 .7-.2 .5-.1 .8-.1 .7 0 .8 .1 .5 .1 .7 .2 .5 .2 .5 .1 .5 .3 .5 .3 .5 .3 .5 .3 .3 .3 .5 .5 .2 .3 .4 .4 .3 .5 .3 .5 .2 .5 .2 .5 .2 .5 .1 .8 .1 .5 0 .7 -.1 .5 -.1 .8 -.3 .5 -.2 .5 -.3 .4 -.3 .3 -.5 .4 -.5 .4 -.4 .2 -.5 .3 -.6 .2 -.5 .1 -.6 .2z" fill="none" stroke="#707070" stroke-width="0.5"/><path d="M316.6,74.2l-.7 0 -.7 0 -.6-.1 -.6-.2 -.6-.2 -.5-.2 -.5-.3 -.5-.3 -.3-.2 -.5-.5 -.3-.3 -.4-.5 -.3-.3 -.2-.4 -.3-.5 -.2-.5 -.3-.8 -.1-.5 -.1-.7 .1-.8 .1-.6 .3-.6 .2-.4 .3-.4 .5-.4 .4-.3 .6-.3 .5-.1 .5-.2 .7 0 .8 0 .5 .1 .7 .2 .5 .1 .5 .2 .5 .2 .5 .3 .5 .3 .5 .4 .4 .3 .4 .3 .3 .4 .4 .5 .3 .4 .2 .4 .3 .6 .2 .6 .1 .5 .1 .8 -.1 .7 -.1 .5 -.2 .6 -.3 .4 -.5 .5 -.3 .3 -.4 .3 -.5 .2 -.5 .2 -.8 .2 -.5 .1z" fill="none" stroke="#707070" stroke-width="0.5"/><path d="M317.4,73l-.8 .1 -.7 0 -.8-.1 -.5-.1 -.6-.2 -.5-.3 -.4-.2 -.5-.4 -.5-.4 -.2-.2 -.5-.5 -.3-.4 -.2-.4 -.3-.5 -.3-.5 -.2-.7 0-.5 0-.8 .1-.5 .3-.5 .4-.4 .4-.3 .4-.3 .7-.2 .7 0 .8 .1 .6 .1 .6 .3 .5 .2 .5 .2 .5 .3 .4 .3 .4 .3 .5 .4 .2 .3 .5 .5 .3 .4 .2 .4 .3 .5 .2 .7 0 .5 0 .5 -.2 .7 -.3 .4 -.3 .4 -.4 .3 -.5 .3 -.5 .2z" fill="none" stroke="#707070" stroke-width="0.5"/><path d="M317.1,71.7l-.7 .1 -.8 0 -.5-.1 -.5-.3 -.5-.3 -.5-.3 -.4-.4 -.3-.3 -.4-.4 -.4-.5 -.2-.3 -.3-.5 -.1-.7 .1-.8 .3-.4 .5-.3 .5-.1 .7 0 .5 .2 .5 .2 .5 .3 .5 .3 .5 .3 .4 .3 .4 .3 .4 .4 .3 .4 .3 .4 .2 .6 .1 .6 -.2 .5 -.4 .5 -.4 .3z" fill="none" stroke="#707070" stroke-width="0.5"/>
<path d="M291.1,67.4l-.7 .1 -.7-.1 -.6-.2 -.5-.2 -.4-.3 -.3-.3 -.5-.5 -.3-.3 -.2-.4 -.4-.5 -.2-.5 -.3-.5 -.2-.5 -.2-.8 -.1-.5 0-.7 0-.8 .1-.5 .2-.7 .2-.5 .3-.5 .3-.4 .4-.4 .4-.2 .5-.3 .7-.2 .5 0 .5 0 .7 .2 .4 .3 .4 .3 .5 .4 .3 .4 .2 .4 .3 .5 .2 .6 .2 .6 .2 .5 .1 .5 .3 .8 .1 .5 .1 .5 .1 .7 0 .8 -.1 .5 -.2 .5 -.3 .5 -.4 .5 -.4 .2 -.4 .3 -.7 .2z" fill="none" stroke="#7a7a7a" stroke-width="0.45"/><path d="M290.1,64.7l-.7 .1 -.6-.1 -.6-.3 -.4-.2 -.4-.4 -.3-.4 -.4-.5 -.2-.5 -.1-.5 -.2-.7 .1-.8 .1-.6 .2-.6 .3-.5 .2-.3 .5-.5 .5-.2 .5-.2 .8 0 .5 .2 .5 .2 .5 .4 .3 .4 .3 .5 .2 .5 .2 .6 .1 .6 0 .8 -.1 .7 -.2 .5 -.2 .5 -.3 .5 -.3 .4 -.5 .3z" fill="none" stroke="#7a7a7a" stroke-width="0.45"/>
<ellipse cx="289.0" cy="60.7" rx="1.8" ry="2.4" transform="rotate(0.0 289.0 60.7)" fill="#fff" stroke="#111" stroke-width="1.1"/>
<path d="M313.4,100.7l-.8 .1 -.7 0 -.8 .1 -.7 0 -.8 0 -.7-.1 -.8-.1 -.5 0 -.7-.2 -.5-.1 -.8-.2 -.5-.1 -.5-.2 -.5-.2 -.5-.3 -.5-.2 -.5-.3 -.5-.4 -.5-.3 -.2-.3 -.5-.5 -.3-.3 -.3-.4 -.3-.5 -.2-.5 -.1-.8 -.1-.5 0-.5 .2-.7 .2-.5 .2-.5 .4-.5 .3-.4 .3-.4 .4-.3 .5-.4 .4-.3 .5-.2 .4-.3 .6-.2 .6-.3 .5-.2 .5-.1 .6-.2 .7-.1 .5-.1 .7-.2 .7-.1 .6 0 .7-.1 .8-.1 .5-.1 .7 0 .8-.1 .5-.1 .7-.1 .8-.1 .5 0 .7-.1 .8-.2 .5 0 .7-.2 .5-.1 .7-.2 .6-.1 .5-.2 .5-.2 .5-.2 .5-.3 .5-.3 .5-.3 .5-.4 .3-.2 .4-.3 .5-.4 .5-.3 .4-.3 .5-.2 .5-.3 .6-.2 .5-.2 .8 0 .7 0 .5 .2 .5 .2 .5 .5 .3 .3 .3 .5 .2 .5 .2 .6 .2 .6 .1 .8 0 .5 0 .7 0 .7 -.1 .6 -.2 .7 -.1 .5 -.2 .5 -.2 .5 -.2 .5 -.3 .5 -.3 .5 -.3 .5 -.4 .5 -.2 .5 -.3 .4 -.2 .6 -.1 .5 .1 .8 .1 .5 .1 .6 .1 .6 -.1 .6 -.2 .5 -.4 .4 -.4 .3 -.7 .2 -.5 .1 -.8 .1 -.7 .1 -.8-.1 -.7 0 -.8-.1 -.7-.1 -.5 0 -.8-.1 -.7-.1 -.8 0 -.7 0 -.8 .1 -.7 .1 -.5 .1 -.8 .2 -.5 .1 -.7 .1 -.5 .1 -.8 .1z" fill="none" stroke="#5f5f5f" stroke-width="0.5"/><path d="M325.6,98.5l-.7 .1 -.8 .1 -.7-.1 -.8-.1 -.6-.1 -.6-.1 -.8-.1 -.5-.1 -.7 0 -.8-.1 -.7 0 -.8 .1 -.7 0 -.6 .1 -.7 .1 -.7 0 -.8 .1 -.7 0 -.5 0 -.5 0 -.8 0 -.7-.1 -.7-.1 -.6-.2 -.5-.1 -.6-.2 -.5-.3 -.5-.2 -.4-.3 -.5-.4 -.3-.3 -.3-.5 -.2-.5 -.1-.8 .2-.7 .2-.5 .3-.4 .4-.4 .3-.3 .5-.3 .5-.3 .5-.3 .5-.2 .5-.2 .5-.2 .6-.2 .7-.2 .5-.2 .5-.1 .7-.2 .5-.2 .5-.1 .8-.2 .5-.1 .6-.2 .6-.1 .5-.1 .8-.2 .5-.1 .7-.2 .5-.1 .5-.2 .8-.2 .5-.2 .5-.2 .5-.2 .5-.3 .5-.2 .5-.3 .5-.3 .5-.3 .4-.3 .5-.2 .5-.3 .6-.2 .5-.1 .7-.1 .8 .1 .5 .3 .3 .3 .3 .5 .3 .5 .1 .5 .1 .7 .1 .8 -.1 .7 -.1 .6 -.2 .7 -.2 .5 -.3 .5 -.3 .5 -.3 .5 -.2 .3 -.3 .4 -.4 .5 -.3 .5 -.3 .5 -.2 .5 -.1 .5 0 .8 0 .7 -.1 .8 -.3 .4 -.5 .3z" fill="none" stroke="#5f5f5f" stroke-width="0.5"/><path d="M323.1,97.2l-.7 0 -.5-.1 -.8-.1 -.7-.1 -.5 0 -.8-.1 -.7-.1 -.8 0 -.7 0 -.8 0 -.7 0 -.8 0 -.7 0 -.5 0 -.8-.2 -.5-.1 -.7-.2 -.5-.3 -.4-.2 -.4-.4 -.2-.4 -.1-.7 .2-.5 .3-.5 .3-.4 .5-.4 .3-.2 .5-.3 .5-.3 .5-.2 .5-.3 .5-.2 .6-.2 .6-.3 .5-.1 .5-.2 .7-.2 .6-.1 .5-.2 .7-.2 .5-.1 .5-.2 .7-.2 .6-.2 .5-.2 .5-.2 .5-.2 .5-.2 .5-.3 .5-.2 .5-.2 .5-.3 .6-.2 .6-.2 .8 0 .6 .2 .4 .2 .3 .5 .2 .5 .1 .8 -.1 .7 -.1 .5 -.2 .6 -.2 .5 -.3 .5 -.3 .4 -.4 .5 -.3 .4 -.3 .4 -.4 .5 -.3 .4 -.2 .4 -.3 .5 -.2 .7 -.1 .5 -.3 .5 -.4 .3 -.7 .2z" fill="none" stroke="#5f5f5f" stroke-width="0.5"/><path d="M321.6,95.5l-.7 0 -.8 0 -.7 0 -.8 0 -.7-.1 -.5 0 -.8-.1 -.7 0 -.5-.1 -.8-.3 -.5-.2 -.3-.3 -.2-.5 .1-.5 .3-.5 .4-.3 .5-.4 .4-.3 .5-.2 .5-.3 .6-.2 .5-.2 .5-.1 .6-.2 .6-.2 .5-.1 .6-.2 .7-.2 .5-.2 .5-.2 .5-.2 .5-.2 .6-.3 .6-.2 .5-.2 .5-.1 .8 0 .5 .3 .2 .3 .2 .7 -.2 .7 -.2 .5 -.3 .5 -.2 .3 -.4 .5 -.4 .3 -.4 .4 -.3 .4 -.4 .4 -.4 .4 -.3 .3 -.4 .5 -.5 .3 -.5 .2z" fill="none" stroke="#5f5f5f" stroke-width="0.5"/>
<path d="M301.9,100.2l-.8 0 -.7 0 -.5 0 -.8-.1 -.7 0 -.8 0 -.7-.1 -.8 0 -.7 .1 -.8 0 -.5 .1 -.7 0 -.8 .1 -.7-.1 -.7 0 -.6-.1 -.5-.2 -.7-.2 -.5-.3 -.4-.2 -.4-.3 -.5-.4 -.3-.3 -.4-.5 -.3-.3 -.2-.5 -.3-.5 -.2-.6 -.2-.6 -.1-.5 -.1-.8 0-.7 .1-.8 .1-.5 .2-.5 .2-.6 .3-.5 .2-.4 .4-.5 .4-.4 .3-.3 .4-.4 .5-.3 .5-.3 .5-.2 .5-.1 .8-.2 .5 0 .7 0 .5 0 .8 .1 .5 .1 .7 .3 .5 .1 .5 .2 .8 .2 .5 .1 .7 .1 .5 .1 .8 .1 .7 0 .6 .1 .7 0 .7 .1 .5 .1 .8 .2 .5 .1 .7 .2 .5 .2 .5 .1 .6 .2 .7 .2 .5 .2 .5 .1 .7 .2 .5 .1 .8 .2 .5 .1 .7 .2 .5 .1 .5 .1 .8 .3 .5 .2 .5 .2 .5 .3 .3 .3 .4 .3 .4 .4 .2 .5 .2 .5 0 .7 -.2 .6 -.2 .5 -.4 .4 -.3 .3 -.4 .4 -.5 .4 -.4 .2 -.5 .3 -.5 .2 -.6 .3 -.5 .2 -.5 .1 -.6 .2 -.7 .2 -.5 .1 -.7 .1 -.5 .1 -.8 .1 -.7 .1 -.5 0 -.8 .1 -.7 .1 -.8 0 -.7 .1 -.5 0z" fill="#d8d8d8" stroke="#000" stroke-width="1.3"/><path d="M302.9,99.2l-.8 0 -.7 0 -.8 0 -.6 0 -.6-.1 -.8 0 -.7-.1 -.8 0 -.7 0 -.8 0 -.7 .1 -.8 0 -.5 .1 -.7 0 -.8 .1 -.7-.1 -.5-.1 -.6-.2 -.7-.2 -.4-.3 -.4-.2 -.4-.4 -.5-.4 -.3-.4 -.2-.3 -.3-.5 -.2-.5 -.3-.8 -.1-.5 0-.7 0-.8 .1-.5 .2-.7 .3-.5 .2-.5 .3-.5 .3-.3 .5-.5 .3-.2 .4-.3 .5-.3 .6-.2 .7-.1 .7-.1 .8 0 .7 .1 .5 .1 .8 .2 .5 .2 .5 .2 .7 .2 .5 .1 .5 .1 .8 .1 .7 .1 .8 .1 .5 0 .7 .1 .8 .1 .5 .1 .7 .1 .5 .2 .6 .1 .7 .2 .5 .2 .5 .1 .7 .3 .5 .1 .6 .1 .7 .2 .5 .1 .7 .2 .5 .1 .7 .2 .6 .1 .5 .2 .5 .3 .5 .3 .4 .3 .3 .3 .3 .5 .2 .7 -.2 .8 -.3 .4 -.2 .3 -.5 .5 -.4 .3 -.5 .2 -.5 .3 -.5 .2 -.6 .2 -.5 .2 -.5 .1 -.8 .2 -.5 .1 -.7 .1 -.8 .1 -.5 .1 -.7 0 -.8 .1 -.7 .1 -.5 0z" fill="none" stroke="#282828" stroke-width="0.5"/><path d="M304.9,98.2l-.8 .1 -.7 0 -.8 0 -.7 0 -.8 0 -.7 0 -.8 0 -.7-.1 -.5 0 -.8-.1 -.7 0 -.8 0 -.7 0 -.6 .1 -.7 .1 -.7 .1 -.8 0 -.7 0 -.8-.1 -.5-.2 -.5-.2 -.5-.2 -.5-.4 -.4-.4 -.3-.3 -.3-.4 -.3-.5 -.2-.5 -.2-.8 -.1-.5 .1-.7 0-.5 .2-.7 .3-.6 .2-.4 .3-.3 .5-.5 .3-.3 .4-.3 .5-.2 .7-.2 .6-.1 .7 0 .8 0 .5 .1 .6 .2 .6 .2 .5 .2 .5 .2 .6 .2 .7 .1 .5 .1 .7 .1 .8 .1 .7 0 .6 .1 .7 .1 .7 .1 .5 .1 .8 .2 .5 .1 .5 .2 .7 .2 .5 .1 .5 .2 .8 .2 .5 .1 .5 .1 .7 .2 .5 .1 .7 .2 .6 .2 .5 .2 .5 .3 .4 .3 .3 .5 .2 .5 -.2 .8 -.2 .3 -.4 .4 -.4 .3 -.5 .3 -.5 .2 -.6 .2 -.6 .2 -.5 .1 -.8 .2 -.5 .1 -.7 .1 -.8 .1z" fill="none" stroke="#282828" stroke-width="0.5"/><path d="M303.1,97.4l-.7 .1 -.8 0 -.7-.1 -.5 0 -.8 0 -.7-.1 -.8-.1 -.5 0 -.7-.1 -.8 0 -.5 .1 -.7 .1 -.8 .1 -.5 .1 -.7 .1 -.8 0 -.7-.1 -.5-.1 -.5-.2 -.5-.3 -.5-.4 -.3-.3 -.4-.5 -.2-.5 -.2-.5 -.1-.8 0-.7 .1-.8 .2-.5 .3-.5 .3-.3 .5-.4 .3-.3 .5-.2 .7-.2 .5-.1 .8 0 .5 .1 .7 .2 .5 .1 .5 .2 .5 .2 .5 .2 .8 .3 .5 .1 .7 .1 .5 .1 .8 0 .7 .1 .8 0 .5 .1 .7 .1 .5 .2 .8 .2 .5 .1 .5 .2 .7 .2 .5 .1 .5 .2 .7 .2 .6 .1 .5 .2 .6 .2 .6 .2 .5 .3 .3 .2 .3 .5 -.1 .6 -.3 .4 -.4 .3 -.5 .3 -.5 .2 -.8 .2 -.5 .1 -.7 .2 -.5 0 -.8 .1 -.7 .1 -.7 0z" fill="none" stroke="#282828" stroke-width="0.5"/><path d="M293.6,96.7l-.7 .1 -.8 0 -.7-.1 -.5-.1 -.5-.3 -.5-.4 -.3-.2 -.3-.5 -.2-.5 -.2-.8 0-.7 .2-.7 .3-.5 .2-.3 .5-.5 .5-.3 .5-.2 .5-.1 .8 0 .5 .1 .7 .2 .5 .2 .5 .3 .5 .2 .5 .3 .5 .2 .5 .1 .8 .2 .5 .1 .7 0 .8 0 .7 .1 .8 .1 .5 .1 .6 .1 .6 .2 .5 .2 .5 .2 .6 .2 .7 .2 .5 .2 .5 .2 .5 .3 .3 .3 -.1 .6 -.5 .3 -.5 .2 -.5 .2 -.7 .1 -.8 .1 -.5 .1 -.7 0 -.8 0 -.7 0 -.8 0 -.5-.1 -.7-.1 -.8-.1 -.5 0 -.7-.1 -.8 .1 -.5 .1 -.7 .1 -.5 .2 -.6 .1z" fill="none" stroke="#282828" stroke-width="0.5"/><path d="M293.4,96l-.8 .1 -.7 0 -.6-.2 -.5-.2 -.4-.4 -.4-.4 -.2-.5 -.1-.7 .1-.8 .2-.5 .4-.4 .4-.3 .6-.2 .5-.1 .7 0 .5 .2 .5 .2 .5 .2 .5 .3 .5 .4 .3 .2 .5 .4 .4 .4 .2 .5 -.3 .5 -.4 .2 -.4 .3 -.5 .2 -.6 .3 -.7 .2z" fill="none" stroke="#282828" stroke-width="0.5"/><path d="M300.9,94.9l-.7 0 -.6-.1 -.4-.4 .6-.2 .4 0 .7 .1 .4 .4 -.4 .2z" fill="none" stroke="#282828" stroke-width="0.5"/><path d="M292.6,95.2l-.6 0 -.6-.2 -.4-.3 -.3-.5 -.1-.5 .1-.5 .3-.5 .4-.3 .7-.1 .8 .1 .5 .3 .3 .2 .4 .5 .1 .5 -.2 .5 -.4 .4 -.5 .2 -.5 .2z" fill="none" stroke="#282828" stroke-width="0.5"/>
</g>
<rect x="284.5" y="51.3" width="49.0" height="31.700000000000003" fill="none" stroke="#6b8cb6" stroke-width="1.0"/>
<text x="331.0" y="58.0" font-size="6.3" text-anchor="end" font-weight="normal" fill="#7a9fc6"  stroke="#7a9fc6" stroke-width="0.08">34%</text>
<rect x="279.5" y="50.3" width="55.0" height="54.400000000000006" fill="none" stroke="#000" stroke-width="1.05"/>
<path d="M279.6,50.3 V105.05 H334.5" fill="none" stroke="#000" stroke-width="1.6"/>
<text x="279.8" y="114.0" font-size="6.3" text-anchor="middle" font-weight="normal" fill="#222"  stroke="#222" stroke-width="0.2">0</text>
<text x="300.8" y="114.0" font-size="6.3" text-anchor="middle" font-weight="normal" fill="#222"  stroke="#222" stroke-width="0.2">100k</text>
<text x="321.8" y="114.0" font-size="6.3" text-anchor="middle" font-weight="normal" fill="#222"  stroke="#222" stroke-width="0.2">200k</text>
<rect x="340.0" y="50.3" width="54.0" height="54.400000000000006" fill="#fff"/>
<rect x="345.0" y="51.3" width="48.0" height="31.700000000000003" fill="#e9f1fa"/>
<clipPath id="c2"><rect x="340.0" y="50.3" width="54.0" height="54.400000000000006"/></clipPath><g clip-path="url(#c2)">
<path d="M346.0,52.3 L393.0,52.3 L393.0,82.3 L346.0,82.3Z" fill="#999" opacity="0.17" filter="url(#b0)"/>
<path d="M346.0,52.3 L366.0,52.3 L366.0,82.3 L346.0,82.3Z" fill="#888" opacity="0.13" filter="url(#b1)"/>
<path d="M367.3 69.1h0M389.4 66.3h0M369.9 69.9h0M354.7 67.7h0M375.6 76.1h0M350.4 61.4h0M350.3 76.6h0M378.6 53.6h0M392.2 81.2h0M376.7 70.8h0M353.4 52.8h0M370.8 54.1h0M354.9 59.6h0M347.4 66.2h0M366.7 77.6h0M370.4 71.5h0M369.5 72.2h0M367.5 60.6h0M392.9 82.2h0M385.5 73.5h0M360.8 59.2h0M359.6 54.4h0M382.0 64.3h0M385.8 63.9h0M391.0 77.7h0M346.0 58.6h0M388.8 66.4h0M392.1 64.2h0M349.4 71.2h0M382.6 60.4h0M350.1 62.3h0M391.3 75.0h0M351.5 59.7h0M350.7 54.1h0M383.5 57.6h0M372.3 65.7h0M355.0 74.3h0M352.2 71.6h0M351.5 64.9h0M356.0 60.4h0M391.6 76.4h0M360.3 78.8h0M355.9 64.1h0M386.2 71.6h0M350.7 82.0h0M356.0 60.0h0M382.3 62.2h0M359.9 54.5h0M350.2 69.8h0M357.4 70.3h0M363.5 65.9h0M391.1 66.8h0M373.0 78.3h0M354.6 56.9h0M388.7 76.8h0M357.7 58.0h0M380.8 80.5h0M355.2 80.8h0M387.5 70.4h0M365.8 55.4h0M347.8 81.2h0M357.2 73.4h0M358.1 77.0h0M374.0 61.1h0M354.2 73.9h0M349.2 59.2h0M372.3 77.9h0M374.9 60.7h0M389.1 58.4h0M346.8 60.4h0M366.9 54.1h0M354.3 63.4h0M372.9 56.2h0M363.0 79.0h0M392.1 72.0h0M378.5 69.8h0M352.6 53.4h0M346.8 79.6h0M378.9 81.2h0M347.0 71.4h0M368.7 74.2h0M361.0 82.3h0M349.5 68.7h0M380.6 79.3h0M380.6 73.4h0M383.3 79.8h0M362.5 72.9h0M388.3 78.4h0M365.6 76.0h0M386.6 69.5h0M375.4 63.8h0M373.4 70.6h0M349.8 71.5h0M392.7 78.7h0M380.2 64.0h0M380.5 69.7h0M366.7 77.5h0M349.9 74.8h0M347.4 70.3h0M368.6 59.2h0M378.8 67.2h0M374.9 79.9h0M358.0 52.6h0M360.1 72.6h0M355.5 57.4h0M388.6 72.1h0M366.8 79.1h0M361.4 72.3h0M355.3 65.2h0M383.9 79.7h0M387.4 63.8h0M373.4 61.8h0M352.4 67.2h0M385.3 77.8h0M379.4 80.8h0M359.0 57.4h0M367.2 60.6h0M356.1 64.7h0M375.4 67.1h0M360.8 77.5h0M392.2 65.9h0M349.5 53.2h0M387.0 53.5h0M379.3 69.4h0M360.5 76.0h0M346.9 56.4h0M367.4 53.0h0M385.0 59.4h0M352.6 53.7h0M375.6 65.7h0M375.6 72.0h0M383.9 81.1h0M378.2 58.3h0M368.3 57.7h0M346.5 66.5h0M379.6 57.7h0M358.8 62.7h0M378.8 67.9h0M374.9 75.0h0M364.5 76.1h0M388.6 54.9h0M389.8 74.0h0M352.1 65.9h0M375.4 79.6h0M363.7 69.4h0M387.3 76.2h0M390.4 66.2h0M376.6 58.4h0M379.9 76.9h0M376.2 73.8h0M356.0 79.3h0M392.1 81.6h0M371.2 76.0h0M361.1 79.6h0M386.2 62.8h0M349.9 65.5h0M371.9 75.3h0M368.9 53.2h0M384.0 54.2h0M383.6 57.5h0M361.7 75.9h0M352.6 56.8h0M370.3 74.0h0M385.5 73.0h0M390.5 67.1h0" stroke="#333" stroke-width="0.70" stroke-linecap="round" opacity="0.45"/>
<path d="M365.0 54.9h0M350.4 68.1h0M351.8 74.2h0M358.8 68.0h0M362.9 69.1h0M352.2 63.7h0M362.9 79.3h0M350.2 77.8h0M365.4 68.0h0M357.5 58.3h0M356.7 67.4h0M358.1 53.1h0M365.4 67.8h0M354.0 76.3h0M357.3 67.0h0M359.8 54.3h0M356.8 64.7h0M365.1 80.0h0M351.4 66.5h0M348.5 65.3h0M362.3 79.3h0M355.5 61.8h0M349.8 70.8h0M364.5 56.2h0M361.6 53.0h0M349.9 59.1h0M359.7 62.0h0M353.1 70.9h0M348.1 74.2h0M348.5 67.6h0M351.0 58.2h0M356.6 65.4h0M353.5 64.7h0M356.6 57.1h0M350.1 71.2h0M358.8 68.2h0M363.0 70.7h0M363.1 59.3h0M360.8 76.6h0M364.1 61.8h0M352.3 80.0h0M350.4 82.3h0M363.8 56.3h0M350.8 74.1h0M351.2 55.2h0M362.6 64.9h0M361.8 56.1h0M354.1 72.9h0M346.4 58.3h0M359.6 79.6h0M365.4 55.8h0M356.1 75.0h0M356.1 72.9h0M349.8 54.4h0M348.1 53.4h0M357.0 67.7h0M357.4 56.7h0M349.7 58.4h0M362.8 82.0h0M364.5 55.2h0M347.2 80.8h0M355.2 75.2h0M352.5 66.3h0M356.3 65.2h0M358.0 52.7h0M360.0 77.6h0M349.6 65.9h0M360.8 64.5h0M349.9 57.3h0M356.3 52.8h0M363.9 76.4h0M360.1 78.1h0M358.6 64.4h0M358.0 67.4h0M365.7 76.4h0M351.2 79.6h0M360.9 75.6h0M362.3 64.5h0M363.9 78.7h0M359.9 75.3h0M361.3 64.5h0M360.5 54.4h0M352.8 66.4h0M346.2 63.0h0M358.8 71.0h0M350.6 80.6h0M359.3 62.4h0M359.2 69.4h0M356.7 64.0h0M366.0 71.6h0M360.0 75.2h0M365.6 53.0h0M358.3 74.5h0M351.1 64.3h0M347.0 58.2h0M353.5 55.3h0M351.0 79.5h0M357.0 67.5h0M365.3 69.3h0M365.9 71.4h0M362.2 54.6h0M358.0 75.1h0M346.9 80.2h0M349.2 66.5h0M349.4 67.2h0M358.2 54.1h0M364.9 64.9h0M356.5 70.2h0M353.3 60.9h0M359.1 69.1h0M351.7 73.8h0M351.9 52.7h0M350.9 53.6h0M349.1 74.9h0M353.8 79.2h0M361.0 53.8h0M365.8 80.6h0M347.5 79.5h0M354.6 66.6h0M365.5 59.6h0M356.5 80.4h0M360.5 66.4h0M365.6 76.8h0M358.1 55.8h0M358.5 66.0h0M350.1 53.9h0M356.6 56.0h0M354.9 72.3h0M355.1 60.2h0M357.6 64.9h0M361.6 68.2h0M366.0 80.9h0M360.7 59.5h0M348.3 79.1h0M361.7 71.0h0" stroke="#333" stroke-width="0.72" stroke-linecap="round" opacity="0.55"/>
<path d="M379.9,81.9l-.8 .1 -.7 .1 -.8 0 -.7-.1 -.8-.1 -.5 0 -.7-.2 -.5-.2 -.5-.2 -.5-.2 -.5-.2 -.5-.2 -.5-.3 -.5-.4 -.5-.3 -.3-.3 -.5-.4 -.3-.3 -.4-.4 -.3-.4 -.4-.5 -.3-.5 -.3-.4 -.2-.4 -.3-.5 -.2-.6 -.2-.6 -.2-.5 -.1-.5 -.2-.7 -.1-.5 0-.8 -.1-.7 0-.8 .1-.7 .1-.5 .1-.8 .2-.5 .1-.5 .3-.7 .2-.5 .2-.5 .3-.5 .3-.4 .2-.4 .4-.5 .4-.4 .3-.3 .4-.4 .4-.4 .4-.2 .5-.4 .5-.3 .5-.2 .5-.3 .5-.2 .5-.1 .7-.3 .5-.1 .8-.1 .5-.1 .7 0 .8-.1 .7 .1 .8 .1 .5 0 .7 .2 .5 .2 .5 .1 .5 .2 .6 .3 .5 .2 .4 .3 .5 .3 .5 .4 .4 .3 .4 .3 .4 .4 .3 .3 .4 .5 .4 .4 .2 .4 .3 .4 .3 .5 .3 .5 .2 .5 .2 .5 .2 .7 .2 .6 .1 .5 .1 .7 .1 .8 0 .5 0 .7 0 .5 -.1 .8 -.1 .7 -.1 .5 -.2 .7 -.2 .6 -.2 .5 -.2 .5 -.3 .5 -.3 .5 -.3 .4 -.3 .3 -.4 .5 -.3 .3 -.4 .5 -.3 .2 -.5 .4 -.5 .4 -.4 .2 -.4 .3 -.5 .2 -.6 .3 -.6 .2 -.5 .2 -.5 .1 -.8 .2z" fill="none" stroke="#707070" stroke-width="0.5"/><path d="M379.1,80.2l-.7 0 -.8 0 -.5 0 -.7-.1 -.6-.2 -.7-.2 -.5-.1 -.5-.2 -.5-.3 -.5-.3 -.5-.3 -.4-.3 -.4-.3 -.4-.4 -.3-.3 -.5-.5 -.2-.3 -.3-.5 -.3-.5 -.3-.5 -.3-.5 -.2-.5 -.1-.5 -.2-.7 -.1-.5 -.1-.8 -.1-.7 0-.8 0-.7 .1-.8 .1-.5 .2-.7 .2-.5 .2-.5 .2-.5 .3-.5 .3-.5 .4-.4 .3-.4 .4-.4 .5-.3 .3-.3 .5-.3 .5-.2 .5-.2 .7-.3 .5-.1 .5-.1 .8-.2 .7 0 .8-.1 .7 .1 .8 0 .7 .2 .5 .1 .5 .2 .6 .2 .6 .2 .5 .3 .4 .2 .4 .3 .5 .4 .5 .3 .3 .3 .4 .5 .3 .4 .3 .3 .3 .5 .3 .5 .3 .5 .2 .5 .2 .5 .2 .5 .2 .8 .1 .5 .1 .7 .1 .8 0 .7 -.1 .8 -.1 .7 -.2 .5 -.1 .5 -.3 .7 -.2 .5 -.3 .4 -.2 .4 -.4 .5 -.4 .5 -.3 .3 -.4 .4 -.4 .3 -.4 .3 -.5 .3 -.5 .2 -.5 .3 -.5 .2 -.7 .2 -.5 .1 -.8 .1 -.5 .1z" fill="none" stroke="#707070" stroke-width="0.5"/><path d="M379.9,78.7l-.8 .1 -.7 0 -.8-.1 -.5 0 -.7-.2 -.5-.1 -.6-.2 -.5-.3 -.5-.2 -.5-.3 -.4-.3 -.5-.4 -.3-.3 -.5-.4 -.2-.3 -.4-.5 -.3-.5 -.3-.5 -.2-.5 -.2-.5 -.2-.5 -.2-.6 -.1-.7 -.1-.7 -.1-.5 0-.8 0-.7 .1-.5 .2-.8 .1-.5 .2-.5 .3-.5 .3-.5 .4-.5 .2-.2 .5-.4 .5-.4 .5-.2 .5-.3 .5-.1 .5-.2 .8-.1 .6-.1 .6 0 .8 0 .5 .1 .7 .1 .6 .1 .7 .2 .5 .1 .5 .2 .5 .3 .5 .3 .5 .3 .4 .3 .3 .3 .5 .5 .3 .3 .3 .4 .4 .5 .3 .5 .2 .5 .2 .5 .2 .5 .2 .5 .2 .8 0 .5 .1 .7 0 .8 -.1 .7 -.1 .5 -.2 .6 -.2 .7 -.3 .5 -.2 .4 -.3 .4 -.4 .4 -.3 .4 -.5 .4 -.3 .2 -.5 .3 -.5 .3 -.5 .2 -.6 .2 -.6 .2 -.5 .1z" fill="none" stroke="#707070" stroke-width="0.5"/><path d="M379.9,77.4l-.8 .1 -.7 0 -.6-.1 -.7-.1 -.5-.1 -.6-.3 -.6-.2 -.4-.3 -.4-.2 -.5-.4 -.5-.4 -.2-.2 -.4-.5 -.4-.5 -.2-.4 -.3-.4 -.2-.5 -.3-.7 -.2-.5 -.1-.5 -.2-.8 0-.5 -.1-.7 0-.8 .1-.6 .2-.6 .2-.5 .3-.5 .3-.5 .3-.3 .5-.3 .5-.3 .5-.3 .5-.1 .7-.2 .5 0 .8 0 .5 0 .7 .1 .7 .1 .6 .2 .5 .1 .5 .2 .6 .3 .4 .2 .5 .3 .5 .4 .4 .3 .3 .3 .4 .5 .4 .4 .2 .4 .3 .5 .2 .5 .3 .6 .2 .6 .1 .5 .1 .7 0 .8 -.1 .7 -.1 .5 -.2 .6 -.3 .6 -.2 .4 -.3 .4 -.5 .5 -.3 .3 -.4 .3 -.5 .3 -.5 .2 -.5 .2 -.8 .2z" fill="none" stroke="#707070" stroke-width="0.5"/><path d="M380.6,76.2l-.7 .2 -.8 0 -.7 0 -.8-.2 -.5-.1 -.5-.2 -.5-.2 -.5-.3 -.5-.4 -.4-.3 -.3-.4 -.4-.4 -.3-.5 -.3-.4 -.3-.5 -.2-.5 -.3-.6 -.2-.5 -.1-.5 -.2-.7 0-.5 0-.8 0-.5 .3-.7 .2-.5 .3-.3 .5-.5 .4-.2 .6-.3 .5-.1 .7-.1 .8 .1 .7 .1 .5 .1 .7 .2 .6 .2 .5 .2 .5 .2 .5 .3 .5 .3 .3 .3 .4 .3 .4 .4 .4 .4 .2 .4 .3 .5 .3 .5 .2 .5 .2 .7 .1 .5 0 .8 -.1 .7 -.1 .5 -.2 .5 -.3 .5 -.4 .5 -.2 .3 -.5 .4 -.5 .3 -.5 .2z" fill="none" stroke="#707070" stroke-width="0.5"/><path d="M379.9,75.2l-.8 0 -.7 0 -.5-.2 -.5-.1 -.5-.3 -.5-.3 -.5-.4 -.3-.2 -.4-.5 -.3-.4 -.3-.4 -.3-.5 -.3-.5 -.2-.5 -.2-.5 -.2-.7 -.1-.5 0-.8 .1-.5 .2-.5 .5-.5 .4-.2 .6-.2 .5-.1 .5 0 .8 .2 .5 .1 .6 .2 .6 .3 .5 .2 .5 .3 .4 .2 .4 .3 .5 .4 .3 .3 .4 .5 .3 .3 .2 .5 .3 .6 .1 .6 .1 .8 -.1 .7 -.2 .5 -.3 .5 -.4 .4 -.4 .4 -.4 .2 -.7 .2z" fill="none" stroke="#707070" stroke-width="0.5"/><path d="M379.9,73.8l-.8 .1 -.7-.2 -.5-.2 -.5-.3 -.4-.3 -.4-.4 -.2-.3 -.4-.5 -.2-.5 -.3-.5 -.2-.5 -.2-.7 0-.4 .3-.6 .5-.2 .7 0 .7 .1 .6 .2 .5 .2 .5 .2 .5 .3 .5 .4 .3 .2 .4 .5 .3 .4 .2 .6 .1 .5 -.1 .6 -.2 .5 -.4 .4 -.4 .3z" fill="none" stroke="#707070" stroke-width="0.5"/>
<ellipse cx="348.5" cy="59.1" rx="2.0" ry="2.5" transform="rotate(0.0 348.5 59.1)" fill="none" stroke="#666" stroke-width="0.8"/>
<path d="M393.9,88.3l-.1 .6 -.2 .7 -.2 .6 -.2 .5 -.3 .5 -.3 .5 -.2 .4 -.3 .3 -.3 .5 -.4 .5 -.3 .4 -.2 .5 -.2 .6 -.1 .4 .1 .6 .2 .6 .2 .7 .1 .5 0 .7 -.3 .5 -.3 .3 -.5 .3 -.6 .2 -.6 .1 -.8 0 -.7 0 -.8 0 -.7-.1 -.5-.1 -.8-.1 -.5-.1 -.7-.2 -.5 0 -.8-.2 -.7-.1 -.5 0 -.8 0 -.6 0 -.6 .1 -.8 .1 -.7 .1 -.5 0 -.8 .1 -.7 .1 -.5 0 -.8 .1 -.7 0 -.8 0 -.7-.1 -.5 0 -.8-.1 -.6-.1 -.6-.2 -.5-.1 -.8-.2 -.5-.2 -.5-.2 -.5-.2 -.5-.3 -.5-.3 -.5-.3 -.3-.3 -.4-.4 -.4-.3 -.4-.5 -.2-.5 -.3-.5 -.1-.5 -.1-.7 0-.4 .1-.7 .1-.5 .3-.5 .3-.5 .4-.5 .3-.2 .5-.5 .4-.3 .4-.2 .4-.3 .5-.2 .6-.3 .7-.2 .5-.2 .5-.1 .7-.2 .5-.1 .8-.1 .5-.1 .7-.1 .8 0 .7-.1 .5-.1 .8 0 .7-.1 .6-.1 .7-.1 .7-.1 .5-.1 .8-.1 .5-.1 .7-.2 .5-.1 .6-.2 .7-.2 .5-.2 .5-.2 .5-.3 .5-.2 .5-.3 .5-.3 .5-.3 .4-.2 .4-.3 .4-.2 .5-.3 .5-.2 .7-.3 .6-.2 .5 0 .7-.1 .5 .1 .7 .2 .4 .3 .4 .3 .4 .4 .4 .5 .2 .5 .3 .5 .1 .5 .2 .5 .1 .8" fill="none" stroke="#5f5f5f" stroke-width="0.5"/><path d="M387.6,97.9l-.7 .2 -.8 0 -.7-.1 -.6-.1 -.7-.1 -.5-.1 -.7-.2 -.5-.1 -.8-.2 -.5-.1 -.7-.1 -.8 0 -.5-.1 -.7 0 -.8 0 -.7 0 -.8 0 -.7-.1 -.8 0 -.7-.1 -.5-.1 -.7-.2 -.6-.1 -.5-.2 -.5-.3 -.5-.3 -.4-.3 -.3-.4 -.3-.4 -.2-.7 .1-.8 .2-.5 .4-.4 .4-.3 .4-.3 .5-.3 .5-.3 .5-.2 .5-.2 .5-.2 .6-.3 .6-.2 .5-.1 .5-.2 .7-.2 .6-.2 .5-.2 .5-.1 .7-.2 .5-.2 .5-.2 .7-.2 .6-.2 .5-.2 .5-.1 .5-.2 .5-.3 .5-.2 .6-.3 .4-.2 .5-.3 .5-.2 .5-.3 .5-.2 .6-.3 .6-.2 .5-.1 .8-.1 .7 0 .5 .2 .5 .3 .5 .4 .3 .4 .2 .5 .3 .6 .1 .5 0 .8 -.1 .7 -.1 .5 -.2 .7 -.2 .5 -.3 .5 -.2 .4 -.3 .4 -.4 .5 -.3 .4 -.3 .4 -.4 .5 -.3 .4 -.3 .5 -.1 .6 -.1 .7 .1 .8 -.1 .5 -.3 .5 -.5 .2z" fill="none" stroke="#5f5f5f" stroke-width="0.5"/><path d="M385.4,95.9l-.8 .2 -.7 0 -.8-.1 -.5-.1 -.7-.2 -.5 0 -.8-.2 -.7-.1 -.5-.1 -.8-.1 -.5-.1 -.7-.1 -.5-.1 -.6-.2 -.5-.3 -.4-.3 -.4-.4 -.1-.8 .3-.5 .4-.5 .3-.2 .5-.4 .5-.3 .5-.3 .5-.3 .5-.2 .5-.3 .5-.2 .5-.2 .5-.2 .5-.2 .5-.2 .5-.2 .5-.3 .5-.2 .6-.3 .5-.2 .5-.3 .5-.2 .5-.3 .6-.2 .5-.2 .5-.2 .7-.1 .6-.1 .5 .1 .5 .2 .5 .4 .2 .4 .3 .5 .1 .7 0 .8 -.1 .5 -.3 .6 -.2 .5 -.3 .4 -.3 .5 -.4 .5 -.3 .2 -.5 .5 -.2 .3 -.5 .5 -.3 .3 -.3 .4 -.4 .5 -.3 .4 -.3 .4 -.4 .2z" fill="none" stroke="#5f5f5f" stroke-width="0.5"/><path d="M383.9,94l-.8 .1 -.7-.1 -.8-.1 -.5-.1 -.5-.1 -.6-.3 -.4-.2 -.3-.5 .1-.6 .3-.4 .4-.5 .4-.3 .4-.2 .5-.3 .5-.3 .5-.3 .5-.3 .5-.2 .5-.3 .5-.3 .5-.2 .5-.2 .5-.2 .5-.2 .7-.2 .8 .1 .5 .2 .4 .4 .1 .5 0 .8 -.1 .5 -.3 .5 -.3 .5 -.3 .3 -.4 .4 -.4 .3 -.5 .4 -.4 .3 -.4 .3 -.5 .2 -.5 .3 -.7 .2z" fill="none" stroke="#5f5f5f" stroke-width="0.5"/>
<path d="M354.1,100.7l-.7 0 -.6 0 -.7-.1 -.7-.2 -.5-.1 -.5-.2 -.5-.3 -.5-.3 -.5-.3 -.4-.3 -.4-.4 -.3-.3 -.4-.5 -.3-.5 -.2-.5 -.3-.5 -.1-.5 -.1-.5 -.2-.8 0-.7 .1-.8 .1-.6 .2-.6 .1-.5 .3-.5 .3-.5 .3-.5 .3-.4 .4-.4 .3-.3 .5-.4 .5-.3 .4-.2 .6-.3 .5-.2 .5-.1 .8-.1 .5-.1 .7 0 .6 0 .7 .1 .7 .1 .5 .1 .8 .2 .5 .1 .7 .1 .5 .1 .8 .1 .7 0 .8 .1 .7 0 .8 0 .5 0 .7 .1 .8 .1 .7 0 .5 .1 .8 .1 .7 .1 .5 0 .8 .1 .7 .1 .5 .1 .8 .1 .7 0 .6 .1 .7 .1 .7 .1 .5 .1 .8 .2 .5 .2 .5 .1 .5 .3 .5 .2 .5 .3 .5 .4 .3 .3 .4 .5 .3 .4 .2 .6 .1 .5 -.1 .6 -.2 .6 -.2 .5 -.3 .5 -.3 .3 -.5 .4 -.3 .3 -.4 .3 -.5 .3 -.5 .3 -.5 .2 -.5 .3 -.5 .2 -.7 .2 -.6 .2 -.5 .1 -.7 .2 -.5 .1 -.7 .1 -.6 .1 -.7 .2 -.5 0 -.8 .2 -.5 0 -.7 .1 -.8 .1 -.7 .1 -.5 0 -.8 0 -.7 .1 -.8 0 -.7 0 -.8 0 -.7 0 -.8 .1 -.5 0 -.7 .2 -.7 .1 -.6 .1 -.6 .1 -.6 .1 -.8 .1 -.5 .1z" fill="#d4d4d4" stroke="#111" stroke-width="1.1"/><path d="M355.4,99.5l-.8 .1 -.7 0 -.8 0 -.7-.1 -.6-.1 -.7-.2 -.5-.2 -.5-.3 -.4-.3 -.3-.2 -.5-.5 -.3-.3 -.3-.5 -.3-.5 -.3-.5 -.1-.5 -.2-.7 -.1-.5 0-.8 .1-.5 .2-.7 .1-.5 .3-.5 .3-.5 .3-.5 .3-.3 .5-.5 .3-.2 .4-.3 .5-.3 .5-.2 .7-.2 .6-.1 .7-.1 .8 0 .7 0 .8 .1 .5 .1 .7 .2 .5 .1 .8 .2 .5 .1 .7 0 .8 .1 .5 0 .7 .1 .8 0 .7 0 .8 0 .7 .1 .8 .1 .5 0 .7 .1 .8 .1 .5 0 .7 .1 .8 .1 .6 .1 .6 0 .8 .1 .7 .1 .5 .1 .8 .2 .5 .1 .5 .1 .6 .3 .5 .2 .5 .3 .4 .3 .4 .4 .3 .4 .3 .6 0 .5 0 .5 -.3 .6 -.2 .4 -.4 .5 -.4 .3 -.5 .4 -.5 .3 -.4 .3 -.6 .2 -.5 .2 -.5 .2 -.5 .2 -.7 .2 -.5 .1 -.7 .1 -.6 .1 -.7 .2 -.5 0 -.8 .1 -.6 .1 -.6 .1 -.8 .1 -.7 0 -.8 .1 -.5 0 -.7 0 -.8 0 -.7 0 -.8 0 -.7 0 -.8 .1 -.7 .1 -.5 0 -.8 .2 -.5 .1 -.7 .2 -.5 .1z" fill="none" stroke="#2e2e2e" stroke-width="0.5"/><path d="M354.4,98.7l-.8 0 -.7 0 -.5-.1 -.7-.2 -.6-.2 -.5-.3 -.3-.2 -.4-.3 -.4-.5 -.4-.4 -.2-.4 -.3-.5 -.2-.7 -.1-.5 0-.7 .1-.8 .1-.5 .2-.5 .2-.5 .4-.5 .3-.4 .4-.3 .4-.4 .5-.3 .5-.2 .5-.2 .7-.1 .5-.1 .8 0 .5 0 .7 .1 .8 .2 .5 .1 .5 .1 .7 .2 .5 .1 .8 .1 .7 .1 .8 0 .7 0 .5 0 .8 0 .7 .1 .8 0 .7 .1 .8 0 .5 .1 .7 .1 .8 .1 .7 0 .5 .1 .8 .1 .7 0 .5 .1 .8 .1 .5 .1 .7 .2 .5 .2 .5 .2 .5 .3 .5 .3 .3 .3 .3 .5 .1 .8 -.2 .6 -.2 .4 -.4 .5 -.4 .3 -.5 .3 -.5 .3 -.5 .2 -.5 .2 -.5 .2 -.7 .2 -.5 .1 -.8 .2 -.5 0 -.7 .2 -.5 0 -.8 .1 -.7 .1 -.8 .1 -.5 0 -.7 0 -.8 .1 -.7 0 -.8 0 -.7 0 -.8 0 -.7 0 -.8 0 -.7 .1 -.5 .1 -.8 .1 -.5 .2 -.7 .1 -.5 .1 -.8 .2z" fill="none" stroke="#2e2e2e" stroke-width="0.5"/><path d="M355.1,97.7l-.7 .1 -.8 .1 -.7-.1 -.6-.1 -.7-.3 -.5-.2 -.3-.3 -.4-.3 -.4-.4 -.3-.5 -.2-.5 -.2-.5 -.1-.8 .1-.7 .1-.5 .2-.7 .3-.4 .3-.4 .4-.4 .5-.4 .5-.2 .5-.2 .5-.2 .8 0 .7 0 .8 .1 .5 0 .7 .2 .5 .2 .6 .1 .7 .2 .5 .1 .7 .1 .8 .1 .7 0 .8 0 .7 0 .8 0 .7 0 .5 .1 .8 0 .7 .1 .8 .1 .5 0 .7 .1 .8 .1 .6 0 .6 .1 .8 .1 .5 .1 .7 .2 .5 .2 .5 .2 .5 .4 .3 .4 .1 .6 -.1 .5 -.3 .5 -.5 .4 -.5 .3 -.5 .2 -.5 .2 -.5 .2 -.7 .2 -.5 .1 -.8 .1 -.5 .1 -.7 .1 -.7 .1 -.6 0 -.7 .1 -.8 0 -.7 .1 -.8 0 -.7 0 -.8-.1 -.7 0 -.8 0 -.7 0 -.8 .1 -.5 .1 -.7 .1 -.5 .2 -.6 .1 -.7 .2 -.5 .1z" fill="none" stroke="#2e2e2e" stroke-width="0.5"/><path d="M354.9,97l-.8 .1 -.7 0 -.8-.2 -.5-.1 -.5-.3 -.5-.3 -.2-.3 -.4-.5 -.2-.5 -.2-.5 0-.7 0-.6 .3-.7 .2-.4 .3-.3 .5-.5 .5-.3 .5-.2 .5-.1 .7-.1 .8 .1 .6 .1 .6 .1 .5 .2 .6 .2 .7 .2 .5 .2 .5 .1 .7 .1 .8 .1 .7 0 .8 0 .7 0 .8-.1 .7 .1 .8 0 .5 .1 .7 0 .8 .1 .7 .1 .5 0 .8 .1 .6 .1 .6 .2 .5 .1 .6 .2 .4 .3 .3 .5 -.1 .5 -.4 .4 -.5 .3 -.5 .2 -.5 .2 -.7 .1 -.6 .1 -.7 .2 -.5 0 -.8 .1 -.7 .1 -.8 0 -.5 0 -.7 0 -.5 0 -.8 0 -.7-.1 -.8 0 -.7 0 -.8 0 -.7 .1 -.5 .1 -.5 .2 -.7 .2 -.6 .2 -.5 .2 -.6 .1z" fill="none" stroke="#2e2e2e" stroke-width="0.5"/><path d="M354.6,96.2l-.7 .1 -.8-.1 -.5-.1 -.5-.2 -.5-.4 -.2-.3 -.3-.5 -.2-.8 .1-.7 .2-.5 .4-.5 .3-.3 .5-.3 .5-.2 .7-.1 .8 .1 .5 .1 .6 .2 .6 .2 .5 .3 .5 .2 .4 .3 .4 .2 .5 .3 .5 .5 -.3 .5 -.5 .4 -.5 .3 -.5 .3 -.4 .2 -.5 .3 -.6 .2 -.5 .2 -.5 .1z" fill="none" stroke="#2e2e2e" stroke-width="0.5"/><path d="M365.4,94.4l-.8 .1 -.7 .1 -.8-.1 -.7-.1 -.5-.1 -.5-.2 0-.5 .5-.2 .7-.1 .8-.1 .7 .1 .8 .1 .5 .1 .7 .2 .1 .5 -.6 .2z" fill="none" stroke="#2e2e2e" stroke-width="0.5"/><path d="M354.6,95.2l-.7 .1 -.8-.1 -.5-.2 -.3-.3 -.3-.5 0-.8 .3-.5 .3-.3 .5-.2 .8-.1 .7 .1 .5 .2 .5 .3 .3 .3 .2 .7 -.3 .5 -.4 .4 -.5 .3z" fill="none" stroke="#2e2e2e" stroke-width="0.5"/>
<ellipse cx="357.2" cy="95.6" rx="1.5" ry="1.2" transform="rotate(0.0 357.2 95.6)" fill="#888" stroke="#111" stroke-width="1.0"/>
</g>
<rect x="345.0" y="51.3" width="48.0" height="31.700000000000003" fill="none" stroke="#6b8cb6" stroke-width="1.0"/>
<text x="390.5" y="58.0" font-size="6.3" text-anchor="end" font-weight="normal" fill="#7a9fc6"  stroke="#7a9fc6" stroke-width="0.08">17%</text>
<rect x="340.0" y="50.3" width="54.0" height="54.400000000000006" fill="none" stroke="#000" stroke-width="1.05"/>
<path d="M340.1,50.3 V105.05 H394.0" fill="none" stroke="#000" stroke-width="1.6"/>
<text x="340.3" y="114.0" font-size="6.3" text-anchor="middle" font-weight="normal" fill="#222"  stroke="#222" stroke-width="0.2">0</text>
<text x="361.3" y="114.0" font-size="6.3" text-anchor="middle" font-weight="normal" fill="#222"  stroke="#222" stroke-width="0.2">100k</text>
<text x="382.3" y="114.0" font-size="6.3" text-anchor="middle" font-weight="normal" fill="#222"  stroke="#222" stroke-width="0.2">200k</text>
<rect x="400.2" y="50.3" width="54.0" height="54.400000000000006" fill="#fff"/>
<rect x="405.2" y="51.3" width="48.0" height="31.700000000000003" fill="#e9f1fa"/>
<clipPath id="c3"><rect x="400.2" y="50.3" width="54.0" height="54.400000000000006"/></clipPath><g clip-path="url(#c3)">
<path d="M406.2,52.3 L453.2,52.3 L453.2,82.3 L406.2,82.3Z" fill="#bbb" opacity="0.16" filter="url(#b0)"/>
<path d="M428.5 72.0h0M437.5 56.6h0M406.7 63.5h0M419.1 76.6h0M438.7 70.3h0M432.4 72.1h0M413.0 65.5h0M413.8 79.5h0M409.0 76.9h0M409.7 72.9h0M422.0 64.4h0M445.8 52.9h0M409.1 79.8h0M430.1 55.0h0M452.6 80.7h0M411.5 65.0h0M412.5 61.7h0M435.4 57.2h0M439.0 53.8h0M414.2 76.8h0M425.0 64.9h0M434.2 66.6h0M424.3 53.2h0M440.3 81.3h0M452.1 72.2h0M422.9 63.2h0M438.6 72.5h0M411.6 59.3h0M423.3 67.6h0M444.3 67.3h0M407.5 77.0h0M426.4 67.9h0M416.6 65.1h0M424.4 75.5h0M411.0 68.8h0M414.6 73.2h0M407.9 60.6h0M422.4 71.4h0M408.6 66.1h0M416.0 60.8h0M428.6 81.1h0M428.8 81.0h0M414.1 80.0h0M423.3 58.0h0M441.4 79.7h0M406.5 60.3h0M442.4 62.6h0M417.6 52.6h0M408.1 70.9h0M452.4 82.3h0M429.9 53.0h0M421.4 75.9h0M445.3 71.5h0M417.0 68.1h0M428.6 71.1h0M418.5 80.7h0M448.2 57.2h0M419.9 78.5h0M419.3 80.6h0M430.4 73.2h0M439.3 58.7h0M419.6 59.9h0M438.3 73.1h0M412.4 78.9h0M426.0 59.5h0M426.7 81.7h0M432.5 71.0h0M449.4 81.2h0M441.9 64.8h0M433.9 79.3h0M443.3 69.7h0M422.5 63.4h0M440.8 69.2h0M407.0 73.6h0M448.7 76.2h0" stroke="#333" stroke-width="0.72" stroke-linecap="round" opacity="0.5"/>
<path d="M446.4 62.9h0M435.6 72.3h0M431.3 90.3h0M427.7 65.8h0M426.4 66.1h0M438.4 79.3h0M436.5 64.3h0M433.6 83.2h0M447.1 71.4h0M443.2 82.4h0M438.7 78.0h0M445.6 69.7h0M440.7 79.2h0M446.2 63.7h0M442.8 78.6h0M441.5 63.1h0M447.2 54.7h0M425.4 65.4h0M432.9 56.5h0M427.1 64.4h0M437.4 60.8h0M433.9 75.7h0M439.7 81.4h0M451.7 74.3h0M447.9 64.2h0M449.8 54.4h0M446.1 79.2h0M427.6 58.5h0M433.7 64.2h0M432.6 75.9h0M439.9 63.7h0M437.6 95.2h0M452.2 75.3h0M441.4 61.0h0M436.8 74.3h0M440.9 63.5h0M444.8 70.6h0M440.4 74.4h0M436.7 75.4h0M432.3 87.3h0M447.7 78.2h0M429.1 73.1h0M441.1 58.3h0M427.4 72.1h0M430.1 75.3h0M435.0 91.1h0M445.6 57.5h0M434.8 59.9h0M428.0 59.1h0M440.1 71.8h0M440.5 71.0h0M438.2 74.1h0M423.1 52.5h0M440.7 91.3h0M441.7 85.1h0M431.7 67.0h0M447.3 76.2h0M451.4 67.9h0M433.9 75.5h0M428.8 60.8h0M439.4 80.4h0M444.2 54.7h0M426.8 82.4h0M433.1 69.9h0M431.0 67.2h0M430.1 78.2h0M419.6 63.2h0M438.1 79.5h0M437.3 55.6h0M428.2 65.4h0M433.3 75.1h0M445.2 69.2h0M433.5 70.8h0M440.1 77.6h0M427.4 87.9h0M432.5 81.7h0M427.0 67.9h0M436.5 65.3h0M442.2 78.5h0M441.3 63.3h0M431.0 58.7h0M418.7 72.6h0M445.4 65.6h0M430.4 81.2h0M438.8 81.2h0M426.7 69.2h0M436.6 60.4h0M422.5 85.5h0M446.8 84.4h0M435.8 76.2h0M440.6 70.3h0M436.6 74.7h0M442.0 61.0h0M423.6 55.8h0M440.3 88.5h0M446.9 64.3h0M444.6 89.2h0M425.1 63.8h0M421.6 64.8h0M434.5 65.1h0M444.2 57.4h0M447.2 70.8h0M435.7 71.6h0M428.3 67.6h0M446.0 61.8h0M442.5 61.6h0M451.9 72.0h0M426.5 78.9h0M424.8 66.7h0M445.9 58.9h0M437.5 73.2h0M434.9 66.1h0M433.4 68.1h0M428.8 77.5h0M427.2 62.9h0M444.0 54.8h0M438.5 58.9h0M449.0 71.1h0M445.7 75.6h0M433.6 80.5h0M415.6 63.9h0M433.4 88.2h0M440.7 68.0h0M448.6 63.3h0M439.3 74.1h0M442.6 71.7h0M443.2 56.0h0M439.7 59.0h0M437.2 72.2h0M446.6 59.6h0M439.8 75.9h0M445.6 75.5h0M446.7 64.5h0M425.0 72.7h0M453.2 67.5h0M434.2 66.1h0M433.9 71.1h0M434.1 72.5h0M427.3 94.9h0M429.9 68.2h0M444.3 93.1h0M431.6 57.9h0M433.6 67.8h0M434.1 66.2h0M437.1 58.2h0M440.0 72.8h0M428.9 59.8h0M451.0 90.9h0M441.9 66.3h0M432.6 67.1h0M438.0 73.2h0M435.6 92.8h0M434.2 60.3h0M440.2 64.9h0M423.9 77.0h0M437.8 64.0h0M440.4 79.4h0M443.4 59.1h0M441.1 76.6h0M439.7 68.2h0M442.5 67.9h0M436.6 89.6h0M437.5 64.5h0M443.3 80.8h0M444.2 62.1h0M422.3 82.5h0M441.9 69.3h0M439.2 58.3h0M439.0 69.9h0M448.9 63.3h0M444.9 64.4h0M431.4 57.0h0M441.7 65.6h0M433.3 54.4h0M435.7 76.9h0M453.4 75.1h0M432.9 74.6h0M440.1 74.0h0M445.6 79.3h0M446.9 69.7h0M435.6 77.6h0M432.8 72.8h0M450.0 86.1h0M452.4 67.4h0M438.7 73.9h0M433.2 55.0h0M440.7 57.6h0M443.2 94.1h0M440.9 71.5h0M432.9 78.2h0M442.2 79.6h0M439.9 74.4h0M440.3 71.6h0M450.2 74.3h0M431.1 74.1h0M439.6 67.1h0M428.3 62.5h0M444.4 59.1h0M429.1 77.0h0M450.7 63.1h0M437.1 62.3h0M425.8 66.7h0M441.2 74.2h0M443.0 80.3h0M433.2 72.4h0M431.1 74.8h0M435.3 61.1h0M426.4 69.6h0M439.8 69.1h0M453.3 83.7h0M437.7 84.7h0M427.7 73.3h0M431.6 56.8h0M430.4 57.6h0M428.7 66.6h0M443.7 88.8h0M441.5 66.4h0M436.8 67.6h0M440.5 60.1h0M432.8 57.1h0M427.1 64.0h0M438.8 91.4h0M429.6 70.1h0M446.5 56.3h0M434.9 68.2h0M426.2 76.0h0M443.7 76.0h0M426.6 69.6h0M439.3 76.8h0M452.0 85.3h0M444.0 69.3h0M427.5 57.4h0M453.3 65.8h0M434.2 62.6h0M428.2 73.7h0M436.9 65.2h0M442.9 80.9h0M444.4 58.3h0M441.2 60.6h0M431.7 71.7h0M424.5 82.1h0M426.6 77.3h0M443.1 74.8h0M442.1 60.8h0M436.2 62.7h0M437.9 52.6h0M449.1 82.6h0M420.9 57.4h0M426.6 71.1h0M434.6 78.4h0M437.2 63.4h0M444.5 58.7h0M437.6 77.3h0M438.0 74.4h0M448.9 57.1h0M437.9 62.8h0M448.4 70.1h0M427.2 68.9h0M425.0 73.8h0M437.8 56.1h0M437.7 61.0h0M441.6 59.9h0M429.4 75.9h0M431.7 71.3h0M430.0 60.5h0M433.5 70.6h0M431.4 72.3h0M445.9 79.6h0M435.1 73.6h0" stroke="#222" stroke-width="0.80" stroke-linecap="round" opacity="0.7"/>
<path d="M427.9 80.9h0M428.0 81.3h0M434.0 80.6h0M444.1 82.4h0M446.4 80.7h0M436.0 82.5h0M428.6 82.7h0M429.2 81.1h0M420.6 80.5h0M450.1 84.4h0M410.1 81.0h0M422.6 81.8h0M437.7 82.9h0M425.9 81.3h0M450.6 80.0h0M443.9 80.0h0M442.5 81.6h0M447.1 80.9h0M441.8 81.8h0M424.6 78.7h0M446.0 78.7h0M427.2 79.4h0M437.4 81.8h0M422.1 81.0h0M424.9 81.7h0M447.9 82.1h0M433.7 81.9h0M450.4 81.0h0M409.2 84.7h0M443.0 79.8h0M412.9 84.0h0M421.7 84.6h0M422.2 80.7h0M432.0 81.6h0M439.1 83.9h0M425.8 84.2h0M418.7 83.1h0M420.0 79.0h0M426.3 81.7h0M418.3 82.3h0M422.6 81.8h0M450.3 84.8h0M411.3 81.8h0M415.8 83.0h0M452.9 81.9h0M420.7 84.1h0M444.3 80.9h0M425.2 81.3h0M430.5 82.8h0M410.1 81.9h0M422.6 84.3h0M449.2 82.5h0M447.5 81.6h0M433.9 82.3h0" stroke="#222" stroke-width="0.80" stroke-linecap="round" opacity="0.7"/>
<ellipse cx="409.0" cy="59.0" rx="2.2" ry="2.7" transform="rotate(0.0 409.0 59.0)" fill="#fff" stroke="#888" stroke-width="0.8"/>
<path d="M428.8,101.7l-.7 0 -.8 .1 -.7 0 -.8 0 -.7-.1 -.8 0 -.5 0 -.7-.1 -.8-.1 -.7-.1 -.5 0 -.8-.2 -.5-.1 -.7-.2 -.5-.1 -.5-.1 -.8-.3 -.5-.1 -.5-.2 -.5-.2 -.5-.3 -.5-.2 -.5-.3 -.5-.3 -.5-.3 -.4-.3 -.3-.3 -.5-.5 -.3-.2 -.4-.5 -.3-.4 -.3-.4 -.2-.5 -.3-.7 -.1-.5 -.1-.8 0-.7 .2-.8 .2-.5 .2-.5 .3-.5 .3-.4 .3-.3 .5-.5 .3-.3 .4-.4 .5-.3 .4-.3 .4-.2 .5-.3 .5-.3 .5-.2 .5-.2 .6-.3 .6-.2 .5-.2 .5-.1 .8-.2 .5-.2 .5-.1 .7-.1 .7-.1 .6-.1 .7-.1 .5-.1 .8-.1 .7-.1 .8 0 .5-.1 .7 0 .8-.1 .7 0 .8-.1 .5 0 .7 0 .8 0 .7-.1 .8 0 .7 0 .8 0 .7-.1 .8 0 .7 0 .7 0 .6-.1 .7 0 .8-.1 .7 0 .8-.1 .5 0 .7 0 .8 0 .6 0 .6 .1 .8 .1 .5 .2 .5 .2 .5 .2 .5 .2 .5 .3 .5 .4 .3 .3 .4 .4 .4 .4 .3 .5 .3 .4 .3 .5 .2 .6 .2 .5 .1 .5 .1 .7 .1 .8 -.1 .7 -.1 .8 -.2 .5 -.1 .5 -.3 .5 -.2 .5 -.3 .5 -.4 .5 -.3 .3 -.3 .4 -.4 .4 -.4 .4 -.4 .2 -.5 .4 -.5 .3 -.5 .3 -.5 .2 -.5 .3 -.5 .2 -.5 .1 -.7 .2 -.5 .2 -.5 .1 -.8 .1 -.5 .1 -.7 .2 -.7 .1 -.6 .1 -.7 .1 -.5 .1 -.8 .2 -.5 .1 -.7 .1 -.5 .1 -.8 .1 -.5 .1 -.7 .1 -.8 .1 -.5 .1 -.7 0 -.8 .1 -.7 .1z" fill="none" stroke="#6e6e6e" stroke-width="0.45"/><path d="M429.8,99.7l-.7 0 -.8 .1 -.7 0 -.8 0 -.7 0 -.8 0 -.7 0 -.8-.1 -.5-.1 -.7-.1 -.7-.1 -.6-.1 -.6-.1 -.6-.2 -.5-.1 -.5-.2 -.7-.3 -.6-.2 -.5-.3 -.4-.2 -.4-.3 -.4-.2 -.5-.4 -.4-.4 -.4-.4 -.3-.3 -.3-.5 -.2-.5 -.2-.5 -.1-.8 .1-.7 .1-.5 .2-.5 .3-.5 .4-.5 .3-.4 .4-.4 .3-.3 .5-.3 .5-.3 .5-.3 .5-.3 .5-.2 .5-.2 .5-.2 .5-.1 .8-.2 .5-.2 .7-.1 .5-.1 .8-.2 .5 0 .7-.1 .7-.1 .6-.1 .7 0 .8-.1 .7-.1 .5 0 .8 0 .7-.1 .8 0 .7 0 .8 0 .7 0 .8 0 .7 0 .8 0 .7 0 .8 0 .7-.1 .8 0 .7 0 .5-.1 .8 0 .7-.1 .8 0 .7 .1 .8 0 .5 .1 .7 .2 .5 .2 .5 .3 .4 .3 .4 .3 .5 .4 .2 .4 .3 .4 .3 .5 .2 .5 .1 .7 .1 .8 -.1 .7 -.1 .7 -.2 .6 -.2 .5 -.3 .5 -.3 .4 -.3 .3 -.5 .5 -.3 .3 -.4 .3 -.5 .4 -.5 .2 -.5 .3 -.5 .2 -.5 .1 -.7 .2 -.6 .2 -.5 .1 -.7 .1 -.5 .1 -.8 .2 -.5 .1 -.7 .1 -.5 .1 -.8 .2 -.5 .1 -.7 .2 -.5 .1 -.8 .1 -.5 .1 -.7 .1 -.7 .1 -.6 .1 -.7 .1 -.8 .1z" fill="none" stroke="#6e6e6e" stroke-width="0.45"/><path d="M428.1,98.2l-.8 0 -.7 0 -.8 0 -.5 0 -.7-.1 -.8-.1 -.5-.1 -.7-.1 -.5-.1 -.8-.2 -.5-.2 -.5-.2 -.5-.2 -.5-.3 -.5-.3 -.5-.3 -.3-.3 -.4-.5 -.3-.3 -.2-.5 -.3-.7 0-.5 .1-.5 .2-.5 .3-.5 .4-.5 .3-.3 .5-.4 .4-.3 .4-.3 .5-.2 .6-.3 .6-.2 .5-.2 .5-.1 .7-.2 .5-.1 .8-.1 .5-.1 .7-.1 .8-.1 .5 0 .7-.1 .8-.1 .7 0 .8 0 .7 0 .8-.1 .7 0 .8 .1 .7 0 .8 0 .7 0 .8 .1 .7 0 .8 0 .7 0 .8 0 .7-.1 .8 0 .7 0 .8 0 .7 .1 .5 .1 .7 .2 .5 .3 .3 .2 .5 .5 .3 .4 .2 .5 .2 .6 0 .8 -.2 .7 -.2 .5 -.3 .5 -.2 .3 -.4 .5 -.4 .2 -.5 .4 -.5 .2 -.5 .3 -.5 .1 -.7 .3 -.5 .1 -.6 .1 -.7 .2 -.5 .1 -.7 .1 -.5 .2 -.8 .1 -.5 .2 -.6 .1 -.6 .2 -.5 .1 -.8 .2 -.5 .1 -.7 .1 -.5 .1 -.8 .2 -.5 0 -.7 .1 -.8 .1 -.7 .1 -.5 0z" fill="none" stroke="#6e6e6e" stroke-width="0.45"/><path d="M429.8,96.7l-.7 .1 -.8 0 -.7 .1 -.8 0 -.7-.1 -.8 0 -.7-.1 -.5-.1 -.8-.2 -.5-.1 -.5-.2 -.5-.2 -.5-.2 -.5-.4 -.5-.4 -.2-.2 -.4-.5 -.1-.5 0-.8 .1-.5 .4-.5 .2-.2 .5-.5 .5-.3 .5-.2 .5-.2 .5-.2 .5-.2 .7-.2 .6-.1 .7-.1 .5-.1 .8-.1 .7-.1 .5 0 .8 0 .7-.1 .8 0 .7 0 .8 .1 .7 0 .5 0 .8 .1 .7 .1 .8 .1 .5 0 .7 .1 .8 .1 .5 0 .7 .1 .8 0 .7 0 .8 .1 .7 .1 .5 .2 .5 .2 .3 .3 .2 .8 -.2 .7 -.3 .3 -.5 .4 -.5 .3 -.5 .2 -.5 .2 -.5 .1 -.7 .3 -.5 .1 -.5 .2 -.7 .2 -.6 .2 -.5 .1 -.5 .2 -.6 .2 -.6 .2 -.5 .2 -.5 .1 -.8 .2 -.5 .2 -.7 .1 -.5 .1 -.8 .1 -.5 .1z" fill="none" stroke="#6e6e6e" stroke-width="0.45"/>
<ellipse cx="415.2" cy="94.7" rx="7" ry="4.5" transform="rotate(0.0 415.2 94.7)" fill="#444" opacity="0.65" filter="url(#b0)"/>
<path d="M416.8,100.7l-.7 .1 -.8 .1 -.7 0 -.8 0 -.7-.1 -.8-.1 -.5-.1 -.5-.2 -.5-.2 -.5-.3 -.5-.3 -.5-.3 -.4-.4 -.3-.3 -.3-.4 -.4-.5 -.2-.5 -.3-.5 -.1-.5 -.1-.8 -.1-.7 .1-.8 .1-.6 .2-.6 .3-.5 .3-.5 .2-.4 .4-.4 .4-.4 .4-.3 .4-.3 .4-.2 .5-.3 .6-.2 .7-.2 .5-.1 .7-.1 .8 0 .7 0 .7 .1 .6 .1 .6 .2 .6 .2 .5 .1 .5 .2 .6 .2 .6 .3 .5 .2 .4 .3 .4 .2 .5 .4 .4 .4 .4 .3 .3 .4 .3 .5 .3 .5 .1 .5 .2 .8 0 .5 0 .5 -.1 .7 -.2 .5 -.2 .5 -.3 .5 -.4 .5 -.3 .3 -.5 .4 -.4 .3 -.5 .3 -.5 .2 -.6 .2 -.5 .2 -.5 .1 -.7 .2 -.6 .1z" fill="none" stroke="#0d0d0d" stroke-width="0.55"/><path d="M415.8,99.7l-.7 0 -.8 0 -.7 0 -.5-.1 -.8-.2 -.5-.1 -.5-.2 -.5-.3 -.5-.4 -.3-.2 -.4-.5 -.3-.3 -.3-.5 -.2-.5 -.2-.7 -.1-.5 0-.8 .1-.5 .2-.7 .2-.5 .3-.5 .3-.3 .4-.5 .3-.2 .5-.4 .5-.2 .5-.3 .6-.1 .7-.2 .7 0 .8 0 .7 .1 .6 .1 .7 .1 .5 .2 .6 .2 .6 .2 .5 .2 .5 .2 .5 .3 .5 .3 .3 .3 .5 .4 .2 .3 .4 .5 .2 .5 .2 .6 .1 .7 -.1 .7 -.1 .5 -.3 .5 -.3 .5 -.3 .4 -.4 .4 -.4 .3 -.5 .3 -.5 .2 -.5 .2 -.7 .2 -.5 .1 -.8 .1 -.7 .1z" fill="none" stroke="#0d0d0d" stroke-width="0.55"/><path d="M416.8,98.7l-.7 .1 -.8 0 -.7 0 -.8 0 -.6-.1 -.6-.2 -.5-.2 -.5-.2 -.5-.4 -.4-.3 -.4-.4 -.2-.4 -.3-.5 -.2-.7 0-.5 0-.5 .1-.7 .3-.5 .3-.5 .3-.4 .4-.4 .4-.2 .4-.3 .6-.2 .7-.2 .7-.1 .5 0 .5 0 .8 .1 .6 .2 .6 .1 .5 .2 .6 .2 .6 .2 .5 .3 .5 .2 .3 .3 .5 .5 .3 .3 .3 .4 .2 .6 .1 .7 -.1 .7 -.2 .5 -.3 .5 -.3 .4 -.4 .4 -.4 .2 -.5 .3 -.7 .2 -.5 .1 -.7 .2z" fill="none" stroke="#0d0d0d" stroke-width="0.55"/><path d="M417.1,97.9l-.8 .1 -.7 .1 -.8 0 -.7-.1 -.6-.1 -.7-.2 -.5-.2 -.5-.3 -.3-.3 -.4-.4 -.3-.4 -.2-.6 -.1-.6 .1-.7 .1-.5 .3-.5 .3-.4 .5-.4 .4-.2 .6-.3 .5-.1 .8-.1 .7 0 .8 .1 .6 .1 .6 .2 .5 .1 .5 .2 .6 .3 .4 .2 .5 .4 .4 .4 .4 .5 .1 .5 .1 .7 -.2 .8 -.3 .4 -.3 .3 -.4 .4 -.5 .2 -.5 .2 -.8 .2z" fill="none" stroke="#0d0d0d" stroke-width="0.55"/><path d="M417.1,97.2l-.8 .1 -.7 .1 -.8 0 -.7-.1 -.5-.1 -.7-.3 -.4-.2 -.4-.4 -.4-.4 -.2-.5 -.1-.7 .2-.7 .2-.4 .4-.4 .4-.3 .5-.2 .7-.2 .8-.1 .7 .1 .8 .1 .5 .2 .5 .1 .6 .3 .5 .2 .4 .3 .5 .5 .2 .5 .1 .5 -.1 .5 -.2 .5 -.5 .4 -.5 .3 -.5 .2 -.5 .1z" fill="none" stroke="#0d0d0d" stroke-width="0.55"/><path d="M416.8,96.4l-.7 .1 -.8 .1 -.7-.1 -.5-.1 -.7-.2 -.3-.3 -.5-.5 -.1-.5 .1-.5 .3-.5 .4-.3 .5-.2 .8-.1 .7 0 .7 .1 .6 .2 .5 .2 .5 .3 .4 .3 .3 .5 -.2 .8 -.3 .3 -.5 .3 -.5 .1z" fill="none" stroke="#0d0d0d" stroke-width="0.55"/>
<filter id="b2" x="-50%" y="-50%" width="200%" height="200%"><feGaussianBlur stdDeviation="0.8"/></filter>
<ellipse cx="415.2" cy="95.8" rx="3.8" ry="2.3" transform="rotate(0.0 415.2 95.8)" fill="#000" opacity="1.00" filter="url(#b2)"/>
<path d="M448.4 86.6h0M452.8 92.4h0M446.3 92.9h0M448.5 97.7h0M414.3 84.7h0M414.2 95.2h0M411.4 85.6h0M424.2 85.3h0M420.6 95.6h0M416.9 98.5h0M418.5 90.9h0M425.2 99.6h0M408.4 98.9h0M410.6 101.8h0M432.3 97.8h0M430.4 96.4h0M438.5 86.9h0M415.3 100.7h0M416.5 88.7h0M408.6 97.1h0M443.2 85.0h0M446.7 86.4h0M429.5 93.6h0M418.1 90.1h0M429.3 98.4h0M418.2 88.5h0M452.1 89.1h0M411.1 101.1h0M449.7 88.2h0M431.1 100.0h0M421.3 90.4h0M406.4 86.6h0M434.7 93.2h0M446.7 92.3h0M419.0 91.4h0M412.8 92.9h0M438.7 87.6h0M433.6 102.3h0M438.9 90.0h0M436.5 86.3h0M411.3 98.9h0M439.4 95.5h0M432.6 90.6h0M445.5 93.6h0M445.0 97.5h0M421.9 99.0h0M422.6 95.4h0M445.8 101.4h0M435.4 87.9h0M413.8 99.2h0M420.7 86.9h0M433.4 91.8h0" stroke="#333" stroke-width="0.76" stroke-linecap="round" opacity="0.5"/>
</g>
<rect x="405.2" y="51.3" width="48.0" height="31.700000000000003" fill="none" stroke="#6b8cb6" stroke-width="1.0"/>
<text x="450.7" y="58.0" font-size="6.3" text-anchor="end" font-weight="normal" fill="#7a9fc6"  stroke="#7a9fc6" stroke-width="0.08">4%</text>
<rect x="400.2" y="50.3" width="54.0" height="54.400000000000006" fill="none" stroke="#000" stroke-width="1.05"/>
<path d="M400.3,50.3 V105.05 H454.2" fill="none" stroke="#000" stroke-width="1.6"/>
<text x="400.5" y="114.0" font-size="6.3" text-anchor="middle" font-weight="normal" fill="#222"  stroke="#222" stroke-width="0.2">0</text>
<text x="421.5" y="114.0" font-size="6.3" text-anchor="middle" font-weight="normal" fill="#222"  stroke="#222" stroke-width="0.2">100k</text>
<text x="442.5" y="114.0" font-size="6.3" text-anchor="middle" font-weight="normal" fill="#222"  stroke="#222" stroke-width="0.2">200k</text>
<text x="277.4" y="58.8" font-size="6.3" text-anchor="end" fill="#222" stroke="#222" stroke-width="0.2">10<tspan font-size="4.4" dy="-2.4">5</tspan></text>
<text x="277.4" y="71.8" font-size="6.3" text-anchor="end" fill="#222" stroke="#222" stroke-width="0.2">10<tspan font-size="4.4" dy="-2.4">4</tspan></text>
<text x="277.4" y="84.6" font-size="6.3" text-anchor="end" fill="#222" stroke="#222" stroke-width="0.2">10<tspan font-size="4.4" dy="-2.4">3</tspan></text>
<text x="277.4" y="98.0" font-size="6.3" text-anchor="end" font-weight="normal" fill="#222"  stroke="#222" stroke-width="0.2">0</text>
<line x1="263.3" y1="119.4" x2="263.3" y2="47.9" stroke="#000" stroke-width="1.3"/>
<path d="M260.1,49.4 L263.3,41.9 L266.5,49.4 Z" fill="#000"/>
<line x1="262.7" y1="119.4" x2="459.8" y2="119.4" stroke="#000" stroke-width="1.3"/>
<path d="M458.3,116.4 L465.8,119.4 L458.3,122.4 Z" fill="#000"/>
<text x="468.6" y="122.6" font-size="10.4" text-anchor="start" font-weight="normal" fill="#111" textLength="23.5" lengthAdjust="spacingAndGlyphs"  stroke="#111" stroke-width="0.2">FSC-A</text>
<text transform="translate(257.4 82) rotate(-90) scale(0.88 1)" font-size="9.43" text-anchor="middle" fill="#111" stroke="#111" stroke-width="0.2">CD41</text>
<rect x="279.5" y="133.3" width="55.0" height="54.79999999999998" fill="#fff"/>
<rect x="280.0" y="133.8" width="31.3" height="31.5" fill="#eef4fb"/>
<rect x="280.0" y="133.8" width="2" height="31.5" fill="#c9d3e0"/>
<clipPath id="c4"><rect x="279.5" y="133.3" width="55.0" height="54.79999999999998"/></clipPath><g clip-path="url(#c4)">
<filter id="b3" x="-50%" y="-50%" width="200%" height="200%"><feGaussianBlur stdDeviation="2.0"/></filter>
<path d="M282.5,155.3 L333.5,155.3 L333.5,166.3 L303.5,187.3 L282.5,187.3Z" fill="#999" opacity="0.52" filter="url(#b3)"/>
<path d="M295.6 153.8h0M307.7 159.8h0M328.3 154.5h0M288.2 161.8h0M314.2 158.5h0M298.3 158.9h0M317.7 154.4h0M304.5 156.7h0M321.3 159.5h0M304.9 155.7h0M312.4 158.2h0M298.7 155.6h0M292.5 154.9h0M326.5 158.9h0M298.1 157.5h0M330.2 154.0h0M292.7 156.2h0M289.8 155.6h0M310.5 156.7h0M296.1 160.2h0M304.3 156.0h0M305.5 157.6h0M322.9 157.4h0M300.3 155.5h0M323.9 156.8h0M314.1 156.7h0M298.5 156.8h0M321.2 157.8h0M312.3 158.1h0M301.1 159.5h0M295.9 155.3h0M320.7 159.3h0M298.0 158.3h0M323.1 157.5h0M321.5 154.6h0M296.8 156.4h0M301.7 154.5h0M317.0 158.2h0M309.4 153.9h0M287.4 155.6h0M308.1 157.5h0M324.2 155.1h0M296.8 158.0h0M317.7 156.2h0M294.5 160.4h0M328.3 156.3h0M320.1 156.9h0M311.3 156.4h0M310.3 157.9h0M318.6 157.8h0M309.9 158.9h0M284.0 155.2h0M310.3 155.9h0M303.0 157.8h0M323.8 154.6h0M282.0 156.2h0M298.8 154.7h0M308.8 153.8h0M299.6 158.0h0M301.3 159.2h0M318.6 156.0h0M317.5 158.1h0M304.9 156.1h0M324.1 157.5h0M315.6 156.8h0M303.7 154.5h0M303.1 156.0h0M287.8 157.2h0M297.6 157.2h0M306.2 158.2h0M302.8 156.2h0M319.1 155.6h0M287.9 158.2h0M310.8 160.6h0M299.2 158.7h0M301.2 156.6h0M325.9 153.8h0M315.2 156.4h0M328.5 153.0h0M301.8 154.4h0M329.0 158.2h0M291.8 157.8h0M306.4 154.4h0M292.5 157.1h0M311.3 155.1h0M280.7 156.8h0M316.3 156.3h0M316.1 158.0h0M310.2 154.7h0M288.0 156.4h0M322.9 154.6h0M289.0 153.9h0M320.2 157.4h0M313.5 157.1h0M302.7 155.8h0M306.4 158.7h0M298.9 156.7h0M311.4 156.5h0M285.9 157.2h0M324.3 162.3h0M312.9 155.5h0M301.8 159.2h0M313.1 157.1h0M286.7 159.9h0M304.9 154.7h0M304.4 159.2h0M307.8 157.3h0M327.4 152.5h0M308.2 156.4h0M332.3 155.2h0M308.5 156.6h0M327.2 157.8h0M312.7 156.8h0M320.3 155.5h0M304.0 157.5h0M315.2 157.2h0M309.4 159.1h0M315.2 156.8h0M314.6 157.8h0M315.6 159.5h0M324.0 155.9h0M325.9 153.6h0M325.3 155.6h0M315.0 158.3h0M282.5 155.5h0M306.5 154.3h0M312.9 155.3h0M333.6 156.8h0M317.2 157.3h0M294.7 156.9h0M295.0 157.7h0M312.8 155.0h0M302.7 157.3h0M313.7 158.1h0M281.2 152.9h0M321.0 156.8h0M287.8 156.0h0M309.1 157.8h0M314.3 159.7h0M305.6 157.2h0M308.1 160.2h0M323.6 156.2h0M295.7 157.9h0M307.2 156.6h0M289.3 158.0h0M317.3 157.1h0M314.1 157.7h0M307.1 156.3h0M306.5 157.4h0M331.1 158.9h0M321.8 157.6h0M329.8 157.4h0M330.5 158.4h0M280.5 156.1h0M331.8 154.0h0M311.4 156.7h0M319.9 155.0h0M318.6 152.6h0M320.9 156.9h0M290.2 154.1h0M298.1 155.3h0M319.7 160.3h0M280.7 157.7h0M326.2 158.4h0M284.0 157.1h0M295.0 156.5h0M317.4 157.0h0M313.6 157.1h0M316.3 157.4h0M283.3 157.7h0M315.9 153.1h0M314.0 157.7h0M325.6 160.8h0M327.6 156.0h0M327.2 157.0h0M322.1 159.2h0M296.7 156.5h0M294.7 155.5h0M309.1 155.6h0M298.2 154.5h0M303.3 158.7h0M299.8 155.8h0M312.5 156.7h0M293.7 155.2h0M296.7 156.5h0M333.6 157.8h0M326.0 154.4h0M299.1 157.5h0M280.4 156.0h0M320.5 153.1h0M291.4 159.2h0M283.2 160.1h0M313.8 158.5h0M307.2 157.9h0M317.3 160.5h0M309.4 155.1h0M291.1 154.9h0M321.5 155.3h0M325.6 156.1h0M314.8 157.0h0M305.9 158.0h0M286.8 161.3h0M324.8 153.7h0M309.0 159.9h0M308.1 155.7h0M317.3 153.5h0M311.4 156.4h0M315.0 157.1h0M291.6 157.0h0M297.1 157.9h0M313.2 156.3h0M312.0 156.3h0M289.0 159.9h0M331.1 158.7h0M308.4 162.1h0M286.9 157.4h0M302.0 156.2h0M321.8 157.7h0M304.3 158.6h0M317.9 156.8h0M301.9 157.3h0M312.6 155.3h0M309.4 156.0h0M328.6 155.2h0M310.5 153.7h0M294.7 158.9h0M304.8 156.9h0M282.1 157.6h0" stroke="#222" stroke-width="0.80" stroke-linecap="round" opacity="0.7"/>
<path d="M318.6 177.2h0M317.6 176.4h0M330.1 170.5h0M321.9 171.7h0M320.8 177.6h0M304.0 183.4h0M309.1 178.8h0M325.2 167.7h0M321.9 169.6h0M329.1 167.6h0M305.6 171.2h0M320.6 173.0h0M310.0 183.5h0M304.4 181.2h0M318.1 176.1h0M318.0 174.7h0M321.6 174.5h0M299.8 184.4h0M329.4 169.6h0M324.9 168.4h0M309.6 183.5h0M314.0 182.6h0M321.3 166.1h0M312.3 179.2h0M332.3 165.2h0M306.9 178.8h0M322.0 165.2h0M331.7 171.7h0M320.1 175.5h0M321.6 171.9h0M325.3 173.2h0M320.6 178.6h0M325.6 170.9h0M309.2 184.5h0M329.8 169.9h0M328.6 162.2h0M306.5 185.0h0M322.1 173.8h0M306.7 180.7h0M330.9 171.6h0M328.0 171.7h0M306.9 179.9h0M330.3 175.4h0M309.0 185.1h0M313.6 176.1h0M311.1 176.8h0M314.8 173.3h0M319.8 171.9h0M322.7 176.2h0M316.3 179.8h0M312.4 174.3h0M324.4 165.4h0M310.6 180.3h0M328.4 169.6h0M316.0 174.8h0M323.9 167.9h0M325.6 170.0h0M316.3 176.2h0M301.3 185.3h0M316.5 178.6h0M331.8 170.8h0M308.8 177.3h0M306.7 177.6h0M315.1 179.8h0M311.3 175.5h0M329.4 166.0h0M329.0 168.4h0M320.6 175.7h0M306.3 185.5h0M327.5 174.1h0M308.7 181.2h0M320.0 179.0h0M333.1 163.0h0M303.5 179.6h0M318.9 170.8h0M305.4 181.9h0M302.4 184.3h0M313.4 180.5h0M317.9 171.6h0M331.2 167.7h0M318.4 173.6h0M316.8 181.7h0M322.9 173.5h0M328.0 167.9h0M322.7 167.1h0M305.8 185.8h0M331.3 162.8h0M316.8 170.8h0M325.6 170.1h0M317.3 182.0h0M325.9 176.2h0M325.7 169.4h0M322.3 173.5h0M324.0 173.0h0M310.9 182.1h0M327.2 166.3h0M310.9 180.6h0M309.2 175.3h0M320.8 173.4h0M328.1 170.7h0M313.8 179.8h0M330.0 173.3h0M324.3 168.9h0M323.2 169.8h0M312.8 182.7h0M309.5 176.8h0M317.5 177.9h0M313.9 174.2h0M313.6 178.6h0M333.5 160.9h0M327.2 166.3h0M325.0 165.6h0M318.7 178.9h0M328.5 176.5h0M311.6 177.1h0M313.0 180.6h0M319.2 175.8h0M329.7 169.0h0M317.7 179.1h0M310.7 180.5h0M330.9 172.6h0M318.2 178.6h0M322.6 174.4h0M329.7 169.4h0M313.5 178.3h0M300.7 186.6h0M305.8 185.5h0M321.6 169.2h0M304.9 185.8h0M309.2 181.2h0M302.4 182.2h0M327.2 172.3h0M333.2 172.6h0M319.2 182.1h0M320.4 168.6h0M313.5 181.6h0M307.8 183.1h0M322.8 171.1h0M318.7 178.8h0M312.9 174.8h0M326.2 169.8h0M314.2 176.0h0M313.9 174.7h0M329.9 162.1h0M322.1 166.6h0M326.6 174.4h0M330.7 172.6h0M313.3 183.0h0M327.6 171.6h0M292.9 185.2h0M309.0 183.9h0M332.1 165.3h0M315.0 179.0h0M326.8 174.9h0M330.2 170.2h0M306.4 182.1h0M321.5 167.8h0M302.2 183.2h0M324.4 171.7h0M326.6 163.6h0M314.1 185.4h0M331.6 166.5h0M306.9 185.5h0M321.3 168.6h0M319.5 180.0h0M313.4 173.1h0M321.9 177.0h0M316.4 182.1h0M313.2 178.5h0M322.5 168.4h0M333.5 167.6h0M324.7 173.2h0M321.6 176.7h0M327.8 173.0h0M322.7 172.5h0M323.5 169.3h0M323.1 171.3h0M330.2 164.9h0M315.6 182.4h0M310.8 173.8h0M328.3 170.3h0M316.5 183.7h0M323.5 173.9h0M328.4 165.1h0M325.9 176.3h0M315.4 182.3h0M320.2 178.9h0M317.3 176.2h0M322.4 167.6h0M319.9 180.4h0M296.9 187.1h0" stroke="#222" stroke-width="0.80" stroke-linecap="round" opacity="0.65"/>
<path d="M284.9 170.5h0M308.6 173.4h0M307.1 180.3h0M295.1 178.4h0M293.0 173.5h0M283.4 176.1h0M281.5 177.5h0M288.5 172.3h0M295.6 170.1h0M290.1 173.2h0M298.6 175.3h0M283.8 165.6h0M300.4 175.4h0M306.9 177.8h0M293.6 175.1h0M294.8 172.5h0M285.7 163.9h0M295.9 180.9h0M298.3 183.8h0M287.8 181.4h0M290.2 169.0h0M284.7 178.0h0M293.6 182.1h0M296.6 179.8h0M290.2 171.8h0M294.4 178.0h0M290.3 168.6h0M285.8 170.3h0M306.2 171.8h0M287.9 179.6h0M289.0 175.0h0M282.0 179.0h0M283.5 179.8h0M304.7 165.6h0M291.6 177.2h0M293.3 183.6h0M286.9 168.7h0M295.9 155.5h0M300.8 168.9h0M301.0 172.3h0M288.5 178.4h0M296.6 180.3h0M304.6 165.9h0M289.7 175.3h0M294.4 177.6h0M301.4 178.5h0M280.6 175.4h0M302.8 169.5h0M302.1 166.6h0M283.6 177.5h0M308.6 168.6h0M308.1 185.2h0M301.0 186.5h0M300.6 183.9h0M309.0 180.3h0M302.8 181.1h0M291.4 167.5h0M300.6 166.6h0M287.5 176.5h0M320.2 179.4h0M301.1 169.1h0M297.8 178.6h0M289.4 184.7h0M289.7 166.5h0M291.6 183.1h0M292.3 178.8h0M299.5 183.8h0M293.1 171.4h0M309.5 171.6h0M295.4 177.1h0M309.3 180.7h0M299.9 177.5h0M290.1 180.1h0M317.6 166.4h0M289.8 178.5h0M281.5 175.3h0M313.0 184.3h0M297.4 186.8h0M297.8 172.3h0M291.9 177.1h0" stroke="#222" stroke-width="0.76" stroke-linecap="round" opacity="0.5"/>
<path d="M295.6 182.8h0M304.3 158.8h0M322.9 169.8h0M298.4 186.0h0M329.3 171.1h0M318.4 164.8h0M311.0 157.4h0M282.7 145.5h0M292.5 139.5h0M314.8 147.2h0M318.8 145.5h0M294.3 177.5h0M284.6 154.2h0M322.1 184.9h0M331.4 150.0h0M316.2 139.5h0M284.2 184.2h0M297.8 169.1h0M327.4 184.7h0M295.1 144.2h0M322.5 154.5h0M286.4 174.9h0M294.9 185.9h0M327.1 173.8h0M283.1 172.4h0M288.9 142.2h0M283.8 140.7h0M331.3 179.1h0M314.9 184.0h0M300.7 172.2h0M297.2 142.5h0M298.5 164.1h0M306.5 161.6h0M318.3 179.8h0M319.6 180.0h0M328.3 185.5h0M301.5 144.8h0M327.6 175.7h0M302.2 167.7h0M327.9 176.6h0M306.9 142.4h0M296.2 183.3h0M312.9 150.4h0M297.3 183.2h0M311.8 152.8h0" stroke="#333" stroke-width="0.72" stroke-linecap="round" opacity="0.45"/>
<path d="M301,187.9l.1-.7 .3-.5 .2-.5 .3-.3 .3-.5 .4-.5 .3-.3 .3-.4 .4-.5 .3-.3 .5-.5 .2-.2 .5-.5 .3-.3 .5-.5 .2-.2 .5-.5 .3-.3 .5-.4 .3-.3 .4-.4 .5-.4 .3-.2 .5-.5 .3-.3 .4-.3 .5-.4 .3-.3 .5-.4 .4-.3 .3-.3 .5-.4 .5-.3 .3-.3 .5-.4 .4-.3 .4-.3 .4-.3 .5-.4 .4-.3 .4-.3 .5-.3 .4-.4 .4-.2 .4-.4 .5-.3 .5-.3 .3-.3 .5-.3 .5-.3 .5-.4 .3-.2 .4-.3 .5-.3 .5-.4 .5-.3 .4-.2 .4-.3 .5-.3 .5-.3 .5-.3 .5-.3 .4-.3 .4-.2 .5-.3 .4-.2 .5-.3 .5-.3 .5-.3 .5-.2 .5-.3 .5-.2 .5-.3 .5-.2 .5-.2 .5-.2 .7-.3 .6-.1 .5-.2" fill="none" stroke="#515151" stroke-width="0.45"/><path d="M334.4,165.7l-.4 .5 -.4 .4 -.3 .3 -.4 .5 -.3 .3 -.4 .5 -.3 .3 -.5 .4 -.3 .3 -.5 .5 -.2 .2 -.5 .5 -.4 .3 -.4 .4 -.4 .3 -.3 .3 -.5 .5 -.3 .2 -.5 .4 -.4 .4 -.3 .2 -.5 .5 -.4 .3 -.4 .3 -.5 .4 -.3 .3 -.4 .3 -.5 .4 -.4 .3 -.4 .3 -.5 .3 -.4 .4 -.3 .2 -.5 .4 -.5 .4 -.4 .2 -.4 .3 -.5 .4 -.5 .3 -.3 .3 -.4 .3 -.5 .3 -.5 .4 -.4 .2 -.4 .3 -.5 .3 -.5 .4 -.4 .3 -.4 .2 -.4 .3 -.5 .3 -.5 .3 -.5 .4 -.5 .2 -.4 .3 -.4 .2 -.5 .3 -.5 .3 -.5 .3 -.5 .3 -.5 .3 -.5 .2 -.5 .3 -.5 .3 -.5 .2 -.5 .3 -.5 .2 -.5 .2 -.5 .2" fill="none" stroke="#515151" stroke-width="0.45"/><path d="M308.9,183.2l-.7 0 -.2-.5 .2-.5 .3-.5 .4-.5 .2-.3 .4-.5 .4-.4 .3-.3 .4-.4 .4-.4 .4-.4 .4-.3 .3-.3 .5-.5 .3-.2 .5-.4 .4-.4 .3-.3 .5-.4 .4-.3 .4-.3 .5-.4 .4-.3 .3-.2 .5-.4 .5-.4 .3-.2 .5-.3 .5-.4 .4-.3 .4-.3 .4-.3 .5-.3 .5-.3 .5-.3 .4-.3 .4-.2 .5-.3 .5-.3 .5-.3 .5-.3 .5-.3 .5-.2 .5-.3 .5-.2 .5-.2 .5-.2 .6-.2 .6 0 .4 .3 -.1 .5 -.3 .5 -.3 .5 -.4 .5 -.3 .3 -.3 .4 -.4 .4 -.4 .4 -.4 .4 -.3 .3 -.4 .4 -.5 .4 -.3 .3 -.5 .4 -.3 .3 -.4 .3 -.5 .4 -.3 .3 -.5 .4 -.4 .3 -.3 .3 -.5 .4 -.5 .3 -.3 .3 -.5 .3 -.5 .4 -.4 .3 -.3 .2 -.5 .4 -.5 .3 -.5 .3 -.3 .3 -.5 .3 -.5 .3 -.5 .3 -.5 .3 -.4 .3 -.4 .2 -.4 .3 -.5 .3 -.5 .2 -.5 .3 -.5 .3 -.5 .2 -.5 .2 -.5 .2 -.8 .3z" fill="none" stroke="#515151" stroke-width="0.45"/>
<path d="M279.6,167.2l.2-.5 .2-.5 .2-.5 .2-.5 .3-.5 .2-.5 .3-.5 .4-.5 .3-.5 .2-.3 .3-.5 .5-.5 .2-.3 .4-.4 .4-.4 .4-.4 .3-.3 .5-.4 .3-.3 .5-.3 .5-.4 .4-.3 .5-.2 .4-.3 .5-.2 .6-.3 .6-.2 .5-.2 .5-.1 .7-.2 .5-.1 .8-.1 .7-.1 .8 0 .7 .1 .8 0 .7 .1 .5 .1 .8 .2 .5 .1 .6 .2 .6 .1 .5 .2 .7 .2 .6 .1 .5 .1 .7 .2 .5 .1 .8 .1 .7 .1 .5 0 .8 .1 .7 0 .8 0 .7 0 .8 0 .7 0 .8 0 .7 0 .8 0 .7 0 .8 0 .7 0 .8 0 .7 0 .8 0 .7 0 .8 .1 .7 0 .8 .1 .5 0 .7 .1 .8 .1 .5 .1 .7 .1 .8 .1 .5 0 .7 .1 .8 .1 .5 .1 .7 0 .8 0 .7 0 .8 0 .7 0 .8 0 .6-.1 .6 0 .8 0 .7 0 .8 0 .7 0" fill="none" stroke="#444444" stroke-width="0.5"/><path d="M334.4,165.3l-.4 .4 -.4 .3 -.5 .4 -.4 .3 -.3 .2 -.5 .4 -.5 .3 -.5 .3 -.4 .3 -.4 .2 -.5 .3 -.5 .3 -.5 .3 -.5 .3 -.5 .3 -.5 .2 -.5 .3 -.5 .3 -.5 .2 -.5 .2 -.5 .3 -.5 .2 -.5 .2 -.5 .3 -.5 .2 -.5 .2 -.5 .2 -.6 .2 -.6 .3 -.5 .2 -.5 .2 -.5 .1 -.6 .2 -.7 .3 -.5 .1 -.5 .2 -.6 .2 -.6 .2 -.5 .1 -.6 .2 -.7 .2 -.5 .2 -.5 .1 -.5 .2 -.5 .3 -.5 .2 -.5 .4 -.5 .4 -.2 .2 -.5 .5 -.3 .5 -.2 .4 -.3 .5 -.2 .6 -.2 .5 -.2 .5 -.2 .5 -.2 .6 -.2 .7 -.2 .5 -.2 .5 -.2 .5 -.2 .5 -.2 .5 -.3 .6 -.2 .4 -.3 .5 -.3 .5 -.3 .5" fill="none" stroke="#444444" stroke-width="0.5"/><path d="M282.1,187.9l-.2-.4 -.3-.4 -.2-.4 -.3-.5 -.3-.5 -.2-.5 -.2-.5 -.3-.6 -.2-.7 -.2-.5" fill="none" stroke="#444444" stroke-width="0.5"/><path d="M285.7,187.9l-.3-.3 -.4-.4 -.4-.5 -.2-.3 -.3-.5 -.4-.5 -.3-.5 -.3-.5 -.2-.5 -.2-.5 -.3-.5 -.2-.5 -.1-.5 -.2-.5 -.2-.7 -.2-.5 -.1-.7 -.1-.6 -.2-.7 0-.5 -.1-.8 0-.7 -.1-.8 0-.7 .1-.8 0-.7 .1-.8 .1-.5 .1-.7 .1-.6 .1-.7 .1-.5 .2-.7 .2-.5 .1-.5 .3-.6 .2-.6 .3-.6 .2-.4 .3-.5 .2-.4 .3-.4 .4-.5 .3-.4 .4-.4 .4-.4 .3-.3 .4-.4 .5-.4 .3-.2 .5-.3 .5-.4 .5-.2 .5-.3 .5-.2 .5-.2 .5-.2 .6-.2 .6-.2 .6-.1 .7-.1 .7 0 .8-.1 .7 0 .8 .1 .7 0 .8 .1 .5 .1 .7 0 .8 .1 .5 .1 .7 .1 .8 0 .7 .1 .5 0 .8 .1 .7 0 .8 0 .7 0 .8 0 .7-.1 .8 0 .5 0 .7 0 .8 0 .7-.1 .8 0 .7 0 .8 0 .7 0 .8 0 .7 .1 .8 0 .5 .1 .7 0 .8 .1 .5 .1 .7 .1 .8 .1 .5 .1 .7 .1 .5 .1 .8 .1 .5 .1 .7 .1 .8 .1 .7 0 .8 0 .7 0 .8 0 .7 0 .8 0 .7-.1 .8 .1 .7 0 .6 .1 .7 .1 .5 .2 .5 .3 .3 .4 .2 .5 0 .5 -.3 .6 -.2 .5 -.3 .4 -.4 .5 -.3 .3 -.5 .4 -.3 .3 -.5 .4 -.3 .3 -.4 .3 -.5 .4 -.5 .3 -.4 .3 -.4 .2 -.5 .3 -.5 .3 -.5 .3 -.5 .3 -.5 .3 -.5 .2 -.5 .3 -.5 .2 -.5 .3 -.5 .2 -.5 .2 -.5 .2 -.5 .2 -.5 .2 -.6 .3 -.6 .2 -.5 .2 -.5 .1 -.6 .2 -.7 .2 -.5 .2 -.6 .1 -.6 .2 -.6 .1 -.7 .1 -.7 .1 -.5 .1 -.8 .1 -.7 0 -.8 0 -.7 .1 -.5 0 -.8 .1 -.5 .2 -.5 .4 -.2 .3 -.4 .5 -.4 .5 -.2 .4 -.3 .5 -.2 .5 -.3 .5 -.2 .6 -.2 .5 -.2 .5 -.2 .5 -.2 .5 -.2 .7 -.2 .5 -.2 .5 -.2 .5 -.2 .5 -.2 .5 -.3 .5 -.2 .5 -.3 .5 -.3 .5 -.4 .5 -.3 .5 -.2 .3 -.4 .5 -.4 .4 -.3 .3" fill="none" stroke="#444444" stroke-width="0.5"/><path d="M289.6,187.9l-.5-.2 -.5-.4 -.5-.3 -.4-.3 -.3-.3 -.5-.5 -.3-.3 -.3-.4 -.4-.5 -.3-.4 -.3-.4 -.3-.5 -.2-.5 -.3-.5 -.2-.5 -.2-.5 -.2-.5 -.3-.7 -.1-.5 -.1-.6 -.2-.7 -.1-.6 -.1-.6 0-.8 -.1-.7 0-.8 .1-.7 0-.8 .1-.7 .1-.5 .1-.8 .1-.5 .2-.7 .1-.5 .2-.7 .2-.6 .2-.5 .2-.5 .2-.5 .3-.5 .3-.5 .3-.5 .3-.4 .3-.3 .4-.5 .3-.3 .5-.5 .3-.2 .4-.3 .5-.4 .5-.3 .5-.3 .5-.2 .5-.2 .5-.2 .5-.1 .8-.2 .5-.1 .7-.2 .6 0 .7-.1 .7 0 .8 0 .7 0 .8 0 .7 .1 .6 0 .7 0 .7 0 .8 0 .7 .1 .8 0 .7 0 .8-.1 .7 0 .8 0 .5 0 .7-.1 .8 0 .7 0 .8-.1 .7 0 .8 0 .7 0 .8 0 .7 0 .8 .1 .7 0 .7 .1 .6 0 .7 .2 .5 0 .8 .2 .5 .1 .7 .2 .5 .1 .8 .2 .5 .1 .7 .1 .5 .1 .8 0 .7 0 .8 .1 .7-.1 .8 0 .7 0 .8 0 .7 0 .8 .1 .5 .1 .7 .2 .4 .3 .4 .5 0 .5 -.2 .5 -.3 .5 -.3 .4 -.3 .3 -.4 .5 -.4 .3 -.4 .3 -.5 .4 -.4 .3 -.4 .2 -.4 .3 -.5 .3 -.5 .3 -.5 .3 -.5 .2 -.5 .3 -.5 .2 -.5 .3 -.5 .2 -.5 .2 -.5 .2 -.6 .2 -.7 .2 -.5 .2 -.5 .1 -.7 .2 -.5 .2 -.8 .1 -.5 .1 -.7 0 -.8 0 -.7-.1 -.5-.2 -.5-.3 -.3-.2 -.4-.5 -.3-.5 -.3-.3 -.5-.3 -.6-.2 -.6-.1 -.8 0 -.7 .1 -.5 .1 -.8 .1 -.5 .2 -.5 .2 -.5 .2 -.5 .3 -.5 .4 -.2 .3 -.3 .5 -.2 .5 -.2 .7 0 .8 0 .7 .1 .8 -.1 .7 -.1 .8 -.1 .5 -.1 .6 -.2 .6 -.1 .5 -.2 .6 -.2 .7 -.2 .5 -.2 .5 -.2 .5 -.2 .5 -.3 .5 -.2 .5 -.3 .5 -.3 .5 -.3 .5 -.4 .5 -.2 .3 -.4 .4 -.4 .5 -.3 .3 -.4 .4 -.5 .3 -.3 .3 -.5 .3 -.5 .3" fill="none" stroke="#444444" stroke-width="0.5"/><path d="M294.4,186.4l-.8 .1 -.7 0 -.5-.1 -.8-.2 -.5-.1 -.5-.2 -.5-.3 -.5-.3 -.5-.3 -.4-.3 -.3-.3 -.5-.5 -.3-.3 -.3-.4 -.4-.5 -.3-.5 -.2-.5 -.3-.4 -.2-.6 -.2-.5 -.2-.5 -.2-.5 -.2-.8 -.1-.5 -.1-.7 0-.5 -.1-.8 0-.7 0-.8 .1-.7 0-.5 .1-.8 .1-.6 .2-.6 .1-.5 .2-.8 .2-.5 .1-.5 .2-.5 .3-.5 .2-.5 .3-.5 .3-.5 .4-.5 .3-.3 .4-.4 .3-.3 .5-.5 .4-.2 .4-.3 .5-.3 .5-.2 .5-.3 .5-.2 .7-.2 .5-.1 .7-.2 .6-.1 .7-.1 .6 0 .7-.1 .7 0 .8 0 .7 0 .8 0 .7 0 .8 0 .7 0 .8-.1 .7 0 .8 0 .7 0 .8-.1 .5 0 .7 0 .8-.1 .7 0 .8 0 .7-.1 .8 0 .7 0 .8 .1 .7 0 .8 .1 .5 .1 .7 .1 .5 .1 .8 .2 .5 .2 .5 .2 .5 .2 .5 .3 .5 .2 .7 .2 .5 .1 .8 0 .7 0 .8 0 .7 0 .8-.1 .6 0 .6 0 .8 0 .5 0 .7 .1 .5 .2 .5 .4 -.1 .8 -.4 .5 -.2 .3 -.5 .4 -.3 .3 -.5 .3 -.5 .3 -.5 .3 -.5 .3 -.5 .3 -.5 .2 -.5 .2 -.5 .2 -.5 .2 -.6 .2 -.6 .1 -.5 .1 -.8 .1 -.7 .1 -.8-.2 -.5-.2 -.3-.3 -.3-.5 -.3-.5 -.3-.5 -.3-.2 -.5-.3 -.7-.1 -.8 0 -.7 0 -.8 .1 -.5 0 -.7 .1 -.8 .1 -.5 .1 -.7 .2 -.5 .1 -.8 .1 -.5 .2 -.5 .1 -.7 .3 -.5 .2 -.5 .3 -.5 .2 -.3 .3 -.5 .4 -.3 .3 -.3 .5 -.3 .5 -.1 .5 -.1 .8 -.1 .7 .1 .8 0 .7 0 .8 0 .7 -.1 .8 -.1 .5 -.1 .7 -.1 .5 -.2 .6 -.3 .7 -.2 .5 -.2 .5 -.2 .5 -.3 .5 -.3 .5 -.3 .4 -.2 .4 -.4 .4 -.4 .5 -.3 .3 -.4 .4 -.4 .3 -.4 .3 -.5 .3 -.5 .3 -.5 .2 -.5 .2 -.7 .2 -.5 0z" fill="none" stroke="#444444" stroke-width="0.5"/><path d="M294.6,184l-.7 .1 -.8 0 -.7-.1 -.5-.2 -.5-.2 -.5-.2 -.5-.3 -.5-.4 -.4-.3 -.4-.4 -.3-.3 -.4-.5 -.3-.5 -.2-.4 -.3-.5 -.2-.6 -.2-.5 -.2-.5 -.1-.8 -.1-.5 -.1-.7 0-.8 0-.7 0-.8 .1-.7 .1-.5 .2-.8 .1-.5 .2-.6 .2-.6 .2-.5 .2-.5 .2-.5 .3-.5 .3-.5 .3-.4 .3-.4 .4-.5 .3-.2 .5-.5 .4-.3 .4-.2 .5-.3 .5-.2 .7-.3 .5-.2 .5-.1 .8-.1 .5-.1 .7-.1 .8-.1 .7 0 .5 0 .8-.1 .7 0 .8 0 .7 0 .8 0 .7 0 .8 0 .7 0 .8 0 .7 0 .8 0 .7-.1 .8 .1 .7 0 .8 .1 .5 .1 .5 .1 .3 .5 -.3 .3 -.5 .3 -.5 .2 -.7 .2 -.6 .2 -.5 .1 -.6 .2 -.6 .2 -.5 .1 -.5 .2 -.7 .3 -.6 .2 -.5 .3 -.5 .2 -.4 .3 -.3 .2 -.5 .5 -.3 .3 -.4 .5 -.3 .5 -.2 .5 -.2 .5 -.1 .7 0 .5 0 .8 0 .5 0 .7 .1 .8 0 .7 -.1 .8 0 .6 -.1 .6 -.2 .6 -.2 .7 -.2 .5 -.2 .5 -.3 .5 -.2 .5 -.4 .5 -.2 .3 -.4 .4 -.4 .4 -.4 .4 -.3 .2 -.5 .4 -.5 .2 -.5 .2 -.6 .2z" fill="none" stroke="#444444" stroke-width="0.5"/><path d="M294.4,181.2l-.8 .1 -.7-.1 -.5-.1 -.5-.2 -.5-.3 -.5-.4 -.4-.3 -.4-.5 -.2-.3 -.3-.5 -.2-.5 -.3-.7 -.1-.5 -.1-.7 -.1-.5 0-.8 .1-.6 .1-.6 .1-.8 .2-.5 .1-.5 .2-.5 .3-.6 .2-.5 .3-.4 .3-.5 .3-.5 .4-.4 .3-.3 .4-.4 .5-.4 .4-.2 .5-.3 .6-.2 .5-.2 .5-.1 .8-.1 .7 0 .5 .1 .6 .3 .3 .5 .1 .7 -.2 .8 0 .5 -.1 .7 0 .8 .1 .7 0 .5 .1 .8 .1 .7 .1 .5 0 .8 0 .7 0 .8 -.1 .5 -.2 .7 -.2 .5 -.2 .5 -.2 .5 -.4 .5 -.3 .4 -.4 .4 -.3 .3 -.5 .3 -.5 .2 -.5 .2z" fill="none" stroke="#444444" stroke-width="0.5"/>
<ellipse cx="293.5" cy="165.3" rx="5.5" ry="6.0" fill="#f2f2f2" opacity="0.8"/>
<ellipse cx="293.5" cy="164.3" rx="8.0" ry="7.8" fill="none" stroke="#222" stroke-width="0.6"/>
<ellipse cx="293.5" cy="164.3" rx="6.4" ry="6.3" fill="none" stroke="#555" stroke-width="0.6"/>
<ellipse cx="293.5" cy="164.3" rx="4.8" ry="4.8" fill="none" stroke="#777" stroke-width="0.6"/>
<path d="M286.7,173.3 C285.7,162.3 287.5,157.0 293.5,157.0 C299.5,157.0 301.0,161.3 300.7,169.3" fill="none" stroke="#111" stroke-width="2.0"/>
<path d="M286.6,161.3 V172.3" stroke="#111" stroke-width="2.6"/>
<ellipse cx="297.0" cy="163.8" rx="4.4" ry="6.2" fill="none" stroke="#1a1a1a" stroke-width="1.2"/>
</g>
<rect x="280.0" y="133.8" width="31.3" height="31.5" fill="none" stroke="#46587a" stroke-width="1.0"/>
<text x="297.0" y="140.5" font-size="6.3" text-anchor="middle" font-weight="normal" fill="#7a9fc6"  stroke="#7a9fc6" stroke-width="0.08">22%</text>
<rect x="279.5" y="133.3" width="55.0" height="54.79999999999998" fill="none" stroke="#000" stroke-width="1.05"/>
<path d="M279.6,133.3 V188.45 H334.5" fill="none" stroke="#000" stroke-width="1.6"/>
<text x="280.0" y="197.3" font-size="6.3" text-anchor="middle" font-weight="normal" fill="#222"  stroke="#222" stroke-width="0.2">0</text>
<text x="301.0" y="197.3" font-size="6.3" text-anchor="middle" font-weight="normal" fill="#222"  stroke="#222" stroke-width="0.2">100k</text>
<text x="322.0" y="197.3" font-size="6.3" text-anchor="middle" font-weight="normal" fill="#222"  stroke="#222" stroke-width="0.2">200k</text>
<rect x="340.0" y="133.3" width="54.0" height="54.79999999999998" fill="#fff"/>
<rect x="340.5" y="133.8" width="31.3" height="31.5" fill="#eef4fb"/>
<rect x="340.5" y="133.8" width="2" height="31.5" fill="#c9d3e0"/>
<clipPath id="c5"><rect x="340.0" y="133.3" width="54.0" height="54.79999999999998"/></clipPath><g clip-path="url(#c5)">
<path d="M343.0,155.3 L394.0,155.3 L394.0,166.3 L364.0,187.3 L343.0,187.3Z" fill="#999" opacity="0.52" filter="url(#b3)"/>
<path d="M359.0 154.3h0M377.9 160.2h0M345.4 157.1h0M390.0 156.4h0M370.7 157.4h0M366.9 152.6h0M388.2 156.8h0M391.7 159.5h0M390.5 155.4h0M356.8 159.1h0M372.7 155.3h0M354.9 158.8h0M390.5 156.3h0M345.8 157.3h0M369.8 155.3h0M342.8 156.3h0M379.3 158.3h0M354.0 159.4h0M376.1 157.1h0M373.4 154.7h0M349.9 153.2h0M358.9 158.1h0M374.1 157.4h0M373.5 154.4h0M385.2 157.0h0M358.9 157.6h0M346.7 161.1h0M369.3 154.4h0M384.1 156.8h0M382.0 152.4h0M345.5 158.5h0M360.9 159.4h0M370.3 156.5h0M374.3 156.6h0M344.8 154.1h0M369.1 158.9h0M379.2 156.0h0M373.9 157.0h0M388.2 158.3h0M355.4 157.1h0M378.2 158.5h0M363.9 156.7h0M393.2 156.5h0M371.1 155.5h0M369.5 160.0h0M389.9 156.9h0M384.1 155.5h0M350.0 155.7h0M387.5 156.1h0M343.7 156.9h0M392.5 151.1h0M342.9 163.3h0M377.2 157.0h0M371.4 154.5h0M349.5 157.0h0M371.0 157.4h0M370.7 160.0h0M366.2 154.6h0M352.0 158.7h0M378.5 156.4h0M375.3 153.8h0M349.7 153.6h0M363.6 155.5h0M348.4 159.1h0M363.1 158.6h0M386.2 158.6h0M353.9 161.8h0M360.3 157.2h0M365.9 155.5h0M350.1 154.8h0M387.5 155.9h0M376.7 155.7h0M378.7 159.3h0M343.4 158.4h0M379.4 158.4h0M390.1 161.3h0M387.9 151.9h0M344.8 155.3h0M361.8 159.1h0M362.3 157.8h0M381.2 154.3h0M378.1 158.6h0M375.9 160.4h0M362.6 156.5h0M369.3 153.3h0M352.9 155.5h0M361.4 158.4h0M361.4 159.8h0M377.0 157.0h0M364.1 155.7h0M375.3 156.9h0M357.2 154.3h0M343.3 159.1h0M361.7 156.8h0M371.4 157.4h0M341.3 156.8h0M363.9 154.6h0M392.3 153.3h0M363.7 155.6h0M391.0 154.9h0M390.3 156.0h0M352.9 159.4h0M371.0 153.8h0M389.8 163.5h0M375.4 153.3h0M364.4 157.6h0M381.3 158.9h0M362.9 157.8h0M345.8 158.6h0M362.7 155.7h0M392.7 155.2h0M359.4 156.9h0M343.6 158.7h0M370.2 153.8h0M351.7 158.0h0M367.5 159.4h0M381.0 153.4h0M390.2 156.3h0M374.9 160.1h0M363.1 157.0h0M381.3 154.4h0M347.6 159.1h0M355.3 153.2h0M358.9 158.1h0M382.6 151.9h0M359.6 159.8h0M377.9 155.2h0M365.9 158.3h0M362.7 155.2h0M360.8 158.0h0M347.0 158.1h0M349.3 159.3h0M357.3 158.5h0M354.9 155.4h0M376.2 160.3h0M355.7 155.3h0M346.5 155.8h0M357.5 157.1h0M361.4 158.6h0M382.8 156.9h0M341.3 154.5h0M389.7 158.1h0M340.9 159.4h0M361.9 154.5h0M371.4 159.6h0M377.9 159.3h0M364.1 158.6h0M347.3 160.1h0M358.4 156.4h0M365.1 154.4h0M353.5 159.7h0M341.3 159.8h0M367.9 157.7h0M379.2 153.3h0M366.4 157.8h0M355.9 157.6h0M384.5 154.9h0M353.6 155.4h0M361.0 158.0h0M363.8 158.7h0M388.7 155.3h0M384.2 156.8h0M354.0 159.8h0M356.7 155.2h0M350.1 156.8h0M351.6 157.4h0M376.6 155.7h0M374.3 153.6h0M381.3 155.5h0M360.5 158.8h0M380.4 158.4h0M367.7 158.5h0M343.9 155.1h0M342.2 158.7h0M384.1 158.0h0M379.2 156.6h0M370.5 156.1h0M389.0 158.0h0M343.9 159.4h0M351.2 159.8h0M385.9 156.3h0M357.7 160.0h0M382.7 158.0h0M352.4 159.5h0M363.5 160.5h0M363.3 158.0h0M371.1 157.2h0M382.6 159.0h0M387.2 159.5h0M386.1 155.7h0M374.4 158.8h0M391.0 153.7h0M370.7 158.6h0M381.2 159.2h0M364.7 154.6h0M383.1 158.8h0M381.1 153.4h0M365.8 158.0h0M364.9 156.4h0M391.9 155.9h0M351.5 159.3h0M359.5 160.4h0M354.7 158.1h0M354.5 159.2h0M363.4 156.8h0M374.6 158.2h0M359.9 160.8h0M358.6 159.7h0M384.6 155.8h0M370.0 154.6h0M370.2 158.4h0M351.8 154.9h0M355.5 162.4h0M371.8 159.0h0M357.3 154.2h0M362.1 154.9h0M364.8 158.9h0M341.8 154.4h0M357.0 158.6h0M363.6 157.2h0M384.6 156.1h0M351.2 160.4h0M371.7 155.5h0M364.3 153.9h0M387.8 154.3h0M382.1 156.9h0M344.3 155.8h0" stroke="#222" stroke-width="0.80" stroke-linecap="round" opacity="0.7"/>
<path d="M374.9 176.8h0M383.5 174.5h0M390.4 170.1h0M375.2 168.3h0M381.7 177.7h0M378.3 178.2h0M364.3 181.0h0M376.9 176.6h0M376.0 175.3h0M380.3 182.0h0M381.3 165.6h0M372.8 183.1h0M386.0 169.4h0M381.9 167.5h0M379.9 181.0h0M392.6 164.5h0M390.7 166.7h0M381.9 180.6h0M367.7 181.0h0M365.3 185.8h0M379.1 173.8h0M367.1 185.1h0M379.9 178.0h0M378.9 174.9h0M361.6 185.4h0M388.5 167.6h0M370.7 180.7h0M382.7 177.8h0M374.7 182.4h0M378.1 176.0h0M369.9 181.0h0M369.2 175.1h0M380.4 180.4h0M378.0 173.5h0M389.9 168.6h0M369.8 185.9h0M389.4 167.9h0M381.2 167.7h0M383.5 178.5h0M389.6 171.8h0M357.1 185.0h0M365.5 185.2h0M385.5 170.1h0M388.8 177.4h0M393.2 174.3h0M373.7 187.2h0M374.1 183.0h0M378.0 180.4h0M382.3 171.3h0M373.4 184.3h0M380.7 179.5h0M367.8 182.5h0M378.1 178.8h0M365.6 182.9h0M392.7 170.7h0M388.9 165.3h0M371.9 182.7h0M379.8 176.1h0M372.4 186.4h0M391.5 172.2h0M373.1 176.2h0M375.3 174.4h0M377.0 178.7h0M384.6 165.7h0M385.0 171.4h0M381.3 170.7h0M382.5 168.4h0M379.9 175.3h0M378.4 175.0h0M366.4 177.1h0M369.3 180.7h0M382.2 174.0h0M389.9 165.1h0M390.1 174.2h0M365.6 182.2h0M380.5 173.2h0M373.6 183.1h0M381.4 179.2h0M376.4 183.2h0M386.4 170.3h0M369.4 179.9h0M363.7 181.8h0M374.2 175.0h0M385.6 168.5h0M378.0 168.8h0M366.7 183.8h0M374.1 174.1h0M373.8 183.3h0M376.1 180.3h0M374.4 180.1h0M373.2 179.5h0M373.0 183.7h0M374.0 182.0h0M391.5 168.3h0M369.2 183.8h0M390.5 168.7h0M379.4 171.6h0M373.1 177.9h0M388.3 174.2h0M362.4 181.9h0M389.0 168.4h0M369.4 184.5h0M378.9 178.0h0M368.3 178.7h0M384.0 167.9h0M385.4 170.4h0M381.4 169.0h0M371.3 186.0h0M382.4 174.2h0M382.5 178.1h0M393.0 164.9h0M391.6 174.8h0M375.3 173.8h0M377.0 177.6h0M386.1 167.5h0M369.4 184.4h0M384.2 176.7h0M360.3 186.4h0M370.5 186.1h0M356.6 183.6h0M380.3 178.6h0M386.8 170.0h0M387.1 168.1h0M379.9 175.3h0M377.4 168.5h0M374.5 179.7h0M389.6 170.3h0M365.8 185.4h0M381.5 175.6h0M375.1 174.8h0M370.1 185.0h0M365.0 184.5h0M388.7 170.4h0M381.7 175.6h0M388.2 168.1h0M366.2 184.3h0M384.0 177.2h0M375.4 179.3h0M380.5 174.9h0M380.2 173.2h0M384.1 173.7h0M377.2 182.9h0M387.8 178.2h0M381.8 170.9h0M367.9 181.6h0M392.4 160.0h0M372.8 177.6h0M384.9 175.0h0M377.2 179.3h0M380.8 172.8h0M378.5 180.6h0M382.1 173.4h0M380.8 173.9h0M359.5 186.1h0M369.1 185.6h0M381.2 177.7h0M377.5 178.7h0M388.0 170.1h0M381.3 177.4h0M376.1 180.1h0M385.4 169.9h0M376.5 178.2h0M384.4 172.9h0M385.0 170.8h0M382.5 171.1h0M382.1 168.9h0M382.6 173.2h0M378.0 176.8h0M378.1 181.4h0M393.2 172.6h0M388.4 167.3h0M369.6 180.1h0M380.4 182.2h0M384.5 171.3h0M391.0 172.7h0M386.5 171.8h0M363.4 184.1h0M391.4 165.0h0M381.2 173.7h0M373.1 174.4h0M387.2 173.6h0M373.1 181.3h0M381.8 169.9h0M390.0 170.8h0M385.7 167.7h0M392.4 169.6h0M385.5 174.4h0M366.9 186.3h0M362.9 180.4h0M363.1 185.6h0M389.5 174.8h0M370.0 179.6h0M387.6 166.9h0M384.7 167.3h0" stroke="#222" stroke-width="0.80" stroke-linecap="round" opacity="0.65"/>
<path d="M348.9 174.5h0M346.7 162.1h0M366.5 186.2h0M364.3 174.0h0M343.1 180.8h0M341.8 165.8h0M359.5 184.6h0M349.9 175.4h0M353.3 172.2h0M361.8 169.6h0M352.6 177.0h0M363.8 162.1h0M369.3 172.3h0M359.1 179.0h0M368.7 170.9h0M355.7 168.8h0M359.3 178.0h0M361.5 179.6h0M357.0 181.4h0M349.9 165.4h0M357.1 168.5h0M357.6 182.8h0M345.3 172.0h0M352.5 173.2h0M357.5 168.1h0M360.7 170.5h0M346.6 179.6h0M377.2 176.7h0M345.2 178.0h0M346.8 175.5h0M359.5 168.6h0M355.7 182.1h0M352.0 171.1h0M374.3 172.5h0M362.0 180.5h0M347.7 171.4h0M359.8 186.6h0M367.8 164.4h0M347.1 184.4h0M363.0 178.4h0M355.8 177.9h0M359.9 163.3h0M355.0 184.2h0M367.7 175.1h0M364.5 184.9h0M344.0 176.9h0M354.9 177.9h0M341.0 175.5h0M344.1 186.3h0M353.5 178.2h0M359.7 173.4h0M352.4 182.5h0M364.8 180.2h0M342.0 174.9h0M342.3 185.5h0M356.7 172.8h0M364.7 170.4h0M349.1 182.0h0M359.4 168.9h0M350.3 169.6h0M348.4 178.8h0M343.0 181.5h0M347.5 174.9h0M356.7 169.2h0M343.1 186.9h0M357.9 175.6h0M354.9 181.0h0M351.3 174.2h0M369.5 174.5h0M358.5 183.2h0M352.9 187.3h0M363.8 175.8h0M358.1 179.9h0M365.7 183.9h0M368.0 180.6h0" stroke="#222" stroke-width="0.76" stroke-linecap="round" opacity="0.5"/>
<path d="M365.6 174.8h0M371.4 157.2h0M345.6 179.4h0M376.7 151.6h0M346.2 168.9h0M389.4 174.2h0M389.0 186.0h0M348.4 148.0h0M365.8 144.5h0M366.7 177.6h0M355.3 177.7h0M355.0 177.7h0M345.9 144.9h0M344.4 166.5h0M343.1 171.9h0M363.3 181.8h0M361.6 178.5h0M380.4 156.9h0M381.7 167.5h0M372.2 159.4h0M349.9 163.9h0M368.5 159.6h0M392.1 147.3h0M388.5 165.5h0M347.0 165.7h0M351.6 162.6h0M366.5 175.6h0M388.4 142.7h0M386.7 183.4h0M349.7 143.1h0M365.7 140.8h0M348.4 163.3h0M352.7 167.5h0M352.6 170.6h0M373.8 142.9h0M376.9 182.7h0M392.7 141.3h0M377.1 154.3h0M363.3 160.9h0M344.5 168.9h0M348.6 179.5h0M347.2 168.6h0M370.2 140.8h0M347.8 162.6h0M361.9 146.6h0" stroke="#333" stroke-width="0.72" stroke-linecap="round" opacity="0.45"/>
<path d="M361.5,187.9l.1-.7 .3-.5 .2-.5 .3-.3 .3-.5 .4-.5 .3-.3 .3-.4 .4-.5 .3-.3 .5-.5 .2-.2 .5-.5 .3-.3 .5-.5 .2-.2 .5-.5 .3-.3 .5-.4 .3-.3 .4-.4 .5-.4 .3-.2 .5-.5 .3-.3 .4-.3 .5-.4 .3-.3 .5-.4 .4-.3 .3-.3 .5-.4 .5-.3 .3-.3 .5-.4 .4-.3 .4-.3 .4-.3 .5-.4 .4-.3 .4-.3 .5-.3 .4-.4 .4-.2 .4-.4 .5-.3 .5-.3 .3-.3 .5-.3 .5-.3 .5-.4 .3-.2 .4-.3 .5-.3 .5-.4 .5-.3 .4-.2 .4-.3 .5-.3 .5-.3 .5-.3 .5-.3 .4-.3 .4-.2 .5-.3 .4-.2 .5-.3 .5-.3 .5-.3 .5-.2 .5-.3 .5-.2 .5-.3 .5-.2 .5-.2 .5-.2 .7-.3" fill="none" stroke="#515151" stroke-width="0.45"/><path d="M393.9,166.9l-.3 .3 -.5 .5 -.2 .2 -.5 .5 -.3 .3 -.5 .5 -.2 .2 -.5 .5 -.3 .3 -.5 .4 -.3 .3 -.4 .4 -.5 .4 -.3 .2 -.5 .5 -.3 .3 -.4 .3 -.5 .4 -.3 .3 -.5 .4 -.4 .3 -.3 .3 -.5 .4 -.5 .3 -.3 .3 -.5 .4 -.4 .3 -.4 .3 -.4 .3 -.5 .4 -.4 .3 -.4 .3 -.5 .3 -.4 .4 -.4 .2 -.4 .4 -.5 .3 -.5 .3 -.3 .3 -.5 .3 -.5 .3 -.5 .4 -.3 .2 -.4 .3 -.5 .3 -.5 .4 -.5 .3 -.4 .2 -.4 .3 -.5 .3 -.5 .3 -.5 .3 -.5 .3 -.4 .3 -.4 .2 -.5 .3 -.4 .2 -.5 .3 -.5 .3 -.5 .3 -.5 .2 -.5 .3 -.5 .2 -.5 .3 -.5 .2 -.5 .2" fill="none" stroke="#515151" stroke-width="0.45"/><path d="M369.4,183.2l-.7 0 -.2-.5 .2-.5 .3-.5 .4-.5 .2-.3 .4-.5 .4-.4 .3-.3 .4-.4 .4-.4 .4-.4 .4-.3 .3-.3 .5-.5 .3-.2 .5-.4 .4-.4 .3-.3 .5-.4 .4-.3 .4-.3 .5-.4 .4-.3 .3-.2 .5-.4 .5-.4 .3-.2 .5-.3 .5-.4 .4-.3 .4-.3 .4-.3 .5-.3 .5-.3 .5-.3 .4-.3 .4-.2 .5-.3 .5-.3 .5-.3 .5-.3 .5-.3 .5-.2 .5-.3 .5-.2 .5-.2 .5-.2 .6-.2 .6 0 .4 .3 -.1 .5 -.3 .5 -.3 .5 -.4 .5 -.3 .3 -.3 .4 -.4 .4 -.4 .4 -.4 .4 -.3 .3 -.4 .4 -.5 .4 -.3 .3 -.5 .4 -.3 .3 -.4 .3 -.5 .4 -.3 .3 -.5 .4 -.4 .3 -.3 .3 -.5 .4 -.5 .3 -.3 .3 -.5 .3 -.5 .4 -.4 .3 -.3 .2 -.5 .4 -.5 .3 -.5 .3 -.3 .3 -.5 .3 -.5 .3 -.5 .3 -.5 .3 -.4 .3 -.4 .2 -.4 .3 -.5 .3 -.5 .2 -.5 .3 -.5 .3 -.5 .2 -.5 .2 -.5 .2 -.8 .3z" fill="none" stroke="#515151" stroke-width="0.45"/>
<path d="M340.1,167.2l.2-.5 .2-.5 .2-.5 .2-.5 .3-.5 .2-.5 .3-.5 .4-.5 .3-.5 .2-.3 .3-.5 .5-.5 .2-.3 .4-.4 .4-.4 .4-.4 .3-.3 .5-.4 .3-.3 .5-.3 .5-.4 .4-.3 .5-.2 .4-.3 .5-.2 .6-.3 .6-.2 .5-.2 .5-.1 .7-.2 .5-.1 .8-.1 .7-.1 .8 0 .7 .1 .8 0 .7 .1 .5 .1 .8 .2 .5 .1 .6 .2 .6 .1 .5 .2 .7 .2 .6 .1 .5 .1 .7 .2 .5 .1 .8 .1 .7 .1 .5 0 .8 .1 .7 0 .8 0 .7 0 .8 0 .7 0 .8 0 .7 0 .8 0 .7 0 .8 0 .7 0 .8 0 .7 0 .8 0 .7 0 .8 .1 .7 0 .8 .1 .5 0 .7 .1 .8 .1 .5 .1 .7 .1 .8 .1 .5 0 .7 .1 .8 .1 .5 .1 .7 0 .8 0 .7 0 .8 0 .7 0 .8 0 .6-.1 .6 0 .8 0 .7 0 .8 0" fill="none" stroke="#444444" stroke-width="0.5"/><path d="M393.9,166.2l-.4 .2 -.4 .3 -.5 .4 -.4 .3 -.4 .3 -.4 .2 -.5 .4 -.5 .3 -.5 .3 -.5 .3 -.5 .2 -.4 .3 -.5 .2 -.5 .3 -.4 .2 -.5 .3 -.5 .2 -.5 .3 -.6 .2 -.5 .3 -.6 .2 -.5 .3 -.5 .2 -.5 .2 -.5 .2 -.5 .2 -.5 .2 -.7 .2 -.6 .2 -.5 .2 -.5 .2 -.5 .2 -.7 .2 -.5 .2 -.5 .1 -.8 .2 -.5 .2 -.5 .1 -.6 .2 -.6 .3 -.5 .1 -.5 .3 -.5 .2 -.5 .3 -.5 .3 -.3 .3 -.5 .5 -.2 .3 -.3 .4 -.3 .5 -.2 .5 -.3 .5 -.2 .6 -.2 .7 -.2 .5 -.1 .5 -.2 .5 -.3 .7 -.2 .5 -.2 .5 -.2 .5 -.2 .5 -.3 .5 -.2 .5 -.3 .5 -.3 .5 -.3 .5" fill="none" stroke="#444444" stroke-width="0.5"/><path d="M342.6,187.9l-.2-.4 -.3-.4 -.2-.4 -.3-.5 -.3-.5 -.2-.5 -.2-.5 -.3-.6 -.2-.7 -.2-.5" fill="none" stroke="#444444" stroke-width="0.5"/><path d="M346.2,187.9l-.3-.3 -.4-.4 -.4-.5 -.2-.3 -.3-.5 -.4-.5 -.3-.5 -.3-.5 -.2-.5 -.2-.5 -.3-.5 -.2-.5 -.1-.5 -.2-.5 -.2-.7 -.2-.5 -.1-.7 -.1-.6 -.2-.7 0-.5 -.1-.8 0-.7 -.1-.8 0-.7 .1-.8 0-.7 .1-.8 .1-.5 .1-.7 .1-.6 .1-.7 .1-.5 .2-.7 .2-.5 .1-.5 .3-.6 .2-.6 .3-.6 .2-.4 .3-.5 .2-.4 .3-.4 .4-.5 .3-.4 .4-.4 .4-.4 .3-.3 .4-.4 .5-.4 .3-.2 .5-.3 .5-.4 .5-.2 .5-.3 .5-.2 .5-.2 .5-.2 .6-.2 .6-.2 .6-.1 .7-.1 .7 0 .8-.1 .7 0 .8 .1 .7 0 .8 .1 .5 .1 .7 0 .8 .1 .5 .1 .7 .1 .8 0 .7 .1 .5 0 .8 .1 .7 0 .8 0 .7 0 .8 0 .7-.1 .8 0 .5 0 .7 0 .8 0 .7-.1 .8 0 .7 0 .8 0 .7 0 .8 0 .7 .1 .8 0 .5 .1 .7 0 .8 .1 .5 .1 .7 .1 .8 .1 .5 .1 .7 .1 .5 .1 .8 .1 .5 .1 .7 .1 .8 .1 .7 0 .8 0 .7 0 .8 0 .7 0 .8 0 .7-.1 .8 .1 .7 0 .6 .1 .7 .1 .5 .2 .5 .3" fill="none" stroke="#444444" stroke-width="0.5"/><path d="M393.9,163.8l-.3 .4 -.4 .5 -.3 .3 -.5 .4 -.3 .3 -.5 .4 -.3 .3 -.4 .3 -.5 .4 -.5 .3 -.4 .3 -.4 .2 -.5 .3 -.5 .3 -.5 .3 -.5 .3 -.5 .3 -.5 .2 -.5 .3 -.5 .2 -.5 .3 -.5 .2 -.5 .2 -.5 .2 -.5 .2 -.5 .2 -.6 .3 -.6 .2 -.5 .2 -.5 .1 -.6 .2 -.7 .2 -.5 .2 -.6 .1 -.6 .2 -.6 .1 -.7 .1 -.7 .1 -.5 .1 -.8 .1 -.7 0 -.8 0 -.7 .1 -.5 0 -.8 .1 -.5 .2 -.5 .4 -.2 .3 -.4 .5 -.4 .5 -.2 .4 -.3 .5 -.2 .5 -.3 .5 -.2 .6 -.2 .5 -.2 .5 -.2 .5 -.2 .5 -.2 .7 -.2 .5 -.2 .5 -.2 .5 -.2 .5 -.2 .5 -.3 .5 -.2 .5 -.3 .5 -.3 .5 -.4 .5 -.3 .5 -.2 .3 -.4 .5 -.4 .4 -.3 .3" fill="none" stroke="#444444" stroke-width="0.5"/><path d="M350.1,187.9l-.5-.2 -.5-.4 -.5-.3 -.4-.3 -.3-.3 -.5-.5 -.3-.3 -.3-.4 -.4-.5 -.3-.4 -.3-.4 -.3-.5 -.2-.5 -.3-.5 -.2-.5 -.2-.5 -.2-.5 -.3-.7 -.1-.5 -.1-.6 -.2-.7 -.1-.6 -.1-.6 0-.8 -.1-.7 0-.8 .1-.7 0-.8 .1-.7 .1-.5 .1-.8 .1-.5 .2-.7 .1-.5 .2-.7 .2-.6 .2-.5 .2-.5 .2-.5 .3-.5 .3-.5 .3-.5 .3-.4 .3-.3 .4-.5 .3-.3 .5-.5 .3-.2 .4-.3 .5-.4 .5-.3 .5-.3 .5-.2 .5-.2 .5-.2 .5-.1 .8-.2 .5-.1 .7-.2 .6 0 .7-.1 .7 0 .8 0 .7 0 .8 0 .7 .1 .6 0 .7 0 .7 0 .8 0 .7 .1 .8 0 .7 0 .8-.1 .7 0 .8 0 .5 0 .7-.1 .8 0 .7 0 .8-.1 .7 0 .8 0 .7 0 .8 0 .7 0 .8 .1 .7 0 .7 .1 .6 0 .7 .2 .5 0 .8 .2 .5 .1 .7 .2 .5 .1 .8 .2 .5 .1 .7 .1 .5 .1 .8 0 .7 0 .8 .1 .7-.1 .8 0 .7 0 .8 0 .7 0 .8 .1 .5 .1 .7 .2 .4 .3 .4 .5 0 .5 -.2 .5 -.3 .5 -.3 .4 -.3 .3 -.4 .5 -.4 .3 -.4 .3 -.5 .4 -.4 .3 -.4 .2 -.4 .3 -.5 .3 -.5 .3 -.5 .3 -.5 .2 -.5 .3 -.5 .2 -.5 .3 -.5 .2 -.5 .2 -.5 .2 -.6 .2 -.7 .2 -.5 .2 -.5 .1 -.7 .2 -.5 .2 -.8 .1 -.5 .1 -.7 0 -.8 0 -.7-.1 -.5-.2 -.5-.3 -.3-.2 -.4-.5 -.3-.5 -.3-.3 -.5-.3 -.6-.2 -.6-.1 -.8 0 -.7 .1 -.5 .1 -.8 .1 -.5 .2 -.5 .2 -.5 .2 -.5 .3 -.5 .4 -.2 .3 -.3 .5 -.2 .5 -.2 .7 0 .8 0 .7 .1 .8 -.1 .7 -.1 .8 -.1 .5 -.1 .6 -.2 .6 -.1 .5 -.2 .6 -.2 .7 -.2 .5 -.2 .5 -.2 .5 -.2 .5 -.3 .5 -.2 .5 -.3 .5 -.3 .5 -.3 .5 -.4 .5 -.2 .3 -.4 .4 -.4 .5 -.3 .3 -.4 .4 -.5 .3 -.3 .3 -.5 .3 -.5 .3" fill="none" stroke="#444444" stroke-width="0.5"/><path d="M354.9,186.4l-.8 .1 -.7 0 -.5-.1 -.8-.2 -.5-.1 -.5-.2 -.5-.3 -.5-.3 -.5-.3 -.4-.3 -.3-.3 -.5-.5 -.3-.3 -.3-.4 -.4-.5 -.3-.5 -.2-.5 -.3-.4 -.2-.6 -.2-.5 -.2-.5 -.2-.5 -.2-.8 -.1-.5 -.1-.7 0-.5 -.1-.8 0-.7 0-.8 .1-.7 0-.5 .1-.8 .1-.6 .2-.6 .1-.5 .2-.8 .2-.5 .1-.5 .2-.5 .3-.5 .2-.5 .3-.5 .3-.5 .4-.5 .3-.3 .4-.4 .3-.3 .5-.5 .4-.2 .4-.3 .5-.3 .5-.2 .5-.3 .5-.2 .7-.2 .5-.1 .7-.2 .6-.1 .7-.1 .6 0 .7-.1 .7 0 .8 0 .7 0 .8 0 .7 0 .8 0 .7 0 .8-.1 .7 0 .8 0 .7 0 .8-.1 .5 0 .7 0 .8-.1 .7 0 .8 0 .7-.1 .8 0 .7 0 .8 .1 .7 0 .8 .1 .5 .1 .7 .1 .5 .1 .8 .2 .5 .2 .5 .2 .5 .2 .5 .3 .5 .2 .7 .2 .5 .1 .8 0 .7 0 .8 0 .7 0 .8-.1 .6 0 .6 0 .8 0 .5 0 .7 .1 .5 .2 .5 .4 -.1 .8 -.4 .5 -.2 .3 -.5 .4 -.3 .3 -.5 .3 -.5 .3 -.5 .3 -.5 .3 -.5 .3 -.5 .2 -.5 .2 -.5 .2 -.5 .2 -.6 .2 -.6 .1 -.5 .1 -.8 .1 -.7 .1 -.8-.2 -.5-.2 -.3-.3 -.3-.5 -.3-.5 -.3-.5 -.3-.2 -.5-.3 -.7-.1 -.8 0 -.7 0 -.8 .1 -.5 0 -.7 .1 -.8 .1 -.5 .1 -.7 .2 -.5 .1 -.8 .1 -.5 .2 -.5 .1 -.7 .3 -.5 .2 -.5 .3 -.5 .2 -.3 .3 -.5 .4 -.3 .3 -.3 .5 -.3 .5 -.1 .5 -.1 .8 -.1 .7 .1 .8 0 .7 0 .8 0 .7 -.1 .8 -.1 .5 -.1 .7 -.1 .5 -.2 .6 -.3 .7 -.2 .5 -.2 .5 -.2 .5 -.3 .5 -.3 .5 -.3 .4 -.2 .4 -.4 .4 -.4 .5 -.3 .3 -.4 .4 -.4 .3 -.4 .3 -.5 .3 -.5 .3 -.5 .2 -.5 .2 -.7 .2 -.5 0z" fill="none" stroke="#444444" stroke-width="0.5"/><path d="M355.1,184l-.7 .1 -.8 0 -.7-.1 -.5-.2 -.5-.2 -.5-.2 -.5-.3 -.5-.4 -.4-.3 -.4-.4 -.3-.3 -.4-.5 -.3-.5 -.2-.4 -.3-.5 -.2-.6 -.2-.5 -.2-.5 -.1-.8 -.1-.5 -.1-.7 0-.8 0-.7 0-.8 .1-.7 .1-.5 .2-.8 .1-.5 .2-.6 .2-.6 .2-.5 .2-.5 .2-.5 .3-.5 .3-.5 .3-.4 .3-.4 .4-.5 .3-.2 .5-.5 .4-.3 .4-.2 .5-.3 .5-.2 .7-.3 .5-.2 .5-.1 .8-.1 .5-.1 .7-.1 .8-.1 .7 0 .5 0 .8-.1 .7 0 .8 0 .7 0 .8 0 .7 0 .8 0 .7 0 .8 0 .7 0 .8 0 .7-.1 .8 .1 .7 0 .8 .1 .5 .1 .5 .1 .3 .5 -.3 .3 -.5 .3 -.5 .2 -.7 .2 -.6 .2 -.5 .1 -.6 .2 -.6 .2 -.5 .1 -.5 .2 -.7 .3 -.6 .2 -.5 .3 -.5 .2 -.4 .3 -.3 .2 -.5 .5 -.3 .3 -.4 .5 -.3 .5 -.2 .5 -.2 .5 -.1 .7 0 .5 0 .8 0 .5 0 .7 .1 .8 0 .7 -.1 .8 0 .6 -.1 .6 -.2 .6 -.2 .7 -.2 .5 -.2 .5 -.3 .5 -.2 .5 -.4 .5 -.2 .3 -.4 .4 -.4 .4 -.4 .4 -.3 .2 -.5 .4 -.5 .2 -.5 .2 -.6 .2z" fill="none" stroke="#444444" stroke-width="0.5"/><path d="M354.9,181.2l-.8 .1 -.7-.1 -.5-.1 -.5-.2 -.5-.3 -.5-.4 -.4-.3 -.4-.5 -.2-.3 -.3-.5 -.2-.5 -.3-.7 -.1-.5 -.1-.7 -.1-.5 0-.8 .1-.6 .1-.6 .1-.8 .2-.5 .1-.5 .2-.5 .3-.6 .2-.5 .3-.4 .3-.5 .3-.5 .4-.4 .3-.3 .4-.4 .5-.4 .4-.2 .5-.3 .6-.2 .5-.2 .5-.1 .8-.1 .7 0 .5 .1 .6 .3 .3 .5 .1 .7 -.2 .8 0 .5 -.1 .7 0 .8 .1 .7 0 .5 .1 .8 .1 .7 .1 .5 0 .8 0 .7 0 .8 -.1 .5 -.2 .7 -.2 .5 -.2 .5 -.2 .5 -.4 .5 -.3 .4 -.4 .4 -.3 .3 -.5 .3 -.5 .2 -.5 .2z" fill="none" stroke="#444444" stroke-width="0.5"/>
<ellipse cx="355.5" cy="164.8" rx="5.5" ry="6.0" fill="#f2f2f2" opacity="0.8"/>
<ellipse cx="355.5" cy="163.8" rx="8.0" ry="7.8" fill="none" stroke="#222" stroke-width="0.6"/>
<ellipse cx="355.5" cy="163.8" rx="6.4" ry="6.3" fill="none" stroke="#555" stroke-width="0.6"/>
<ellipse cx="355.5" cy="163.8" rx="4.8" ry="4.8" fill="none" stroke="#777" stroke-width="0.6"/>
<path d="M348.7,172.8 C347.7,161.8 349.5,156.5 355.5,156.5 C361.5,156.5 363.0,160.8 362.7,168.8" fill="none" stroke="#151515" stroke-width="1.7"/>
<path d="M348.6,160.8 V171.8" stroke="#151515" stroke-width="2.3"/>
</g>
<rect x="340.5" y="133.8" width="31.3" height="31.5" fill="none" stroke="#46587a" stroke-width="1.0"/>
<text x="357.5" y="140.5" font-size="6.3" text-anchor="middle" font-weight="normal" fill="#7a9fc6"  stroke="#7a9fc6" stroke-width="0.08">27%</text>
<rect x="340.0" y="133.3" width="54.0" height="54.79999999999998" fill="none" stroke="#000" stroke-width="1.05"/>
<path d="M340.1,133.3 V188.45 H394.0" fill="none" stroke="#000" stroke-width="1.6"/>
<text x="340.5" y="197.3" font-size="6.3" text-anchor="middle" font-weight="normal" fill="#222"  stroke="#222" stroke-width="0.2">0</text>
<text x="361.5" y="197.3" font-size="6.3" text-anchor="middle" font-weight="normal" fill="#222"  stroke="#222" stroke-width="0.2">100k</text>
<text x="382.5" y="197.3" font-size="6.3" text-anchor="middle" font-weight="normal" fill="#222"  stroke="#222" stroke-width="0.2">200k</text>
<rect x="400.2" y="133.3" width="54.0" height="54.79999999999998" fill="#fff"/>
<rect x="400.7" y="133.8" width="31.3" height="31.5" fill="#eef4fb"/>
<rect x="400.7" y="133.8" width="2" height="31.5" fill="#c9d3e0"/>
<clipPath id="c6"><rect x="400.2" y="133.3" width="54.0" height="54.79999999999998"/></clipPath><g clip-path="url(#c6)">
<path d="M403.2,155.3 L454.2,155.3 L454.2,166.3 L424.2,187.3 L403.2,187.3Z" fill="#999" opacity="0.52" filter="url(#b3)"/>
<path d="M433.1 157.1h0M434.5 157.7h0M405.6 160.9h0M447.8 156.0h0M428.5 156.2h0M415.0 156.1h0M446.3 154.3h0M438.0 151.4h0M421.0 154.3h0M447.5 156.0h0M444.2 153.8h0M452.2 155.2h0M404.5 159.0h0M423.1 158.8h0M422.1 159.6h0M401.8 158.6h0M411.0 158.1h0M411.7 156.6h0M421.8 158.0h0M439.9 159.7h0M402.9 156.9h0M429.2 154.5h0M418.1 155.5h0M442.2 154.0h0M423.4 158.0h0M415.1 157.8h0M449.2 156.0h0M433.6 158.3h0M437.3 158.2h0M416.3 157.3h0M425.6 152.2h0M449.9 156.9h0M443.9 156.8h0M404.6 159.6h0M414.9 157.5h0M429.4 157.6h0M453.1 157.2h0M453.4 157.0h0M430.4 156.6h0M419.0 156.8h0M408.6 159.3h0M444.4 152.4h0M404.1 160.4h0M436.6 158.2h0M443.3 154.4h0M453.1 151.2h0M407.2 159.2h0M433.7 157.3h0M432.5 159.3h0M445.5 158.7h0M409.4 155.7h0M443.7 152.9h0M442.1 157.1h0M405.6 154.9h0M422.9 158.5h0M448.1 156.7h0M412.6 157.8h0M408.9 157.5h0M437.1 155.0h0M432.4 157.8h0M426.0 157.9h0M447.4 157.3h0M425.7 156.4h0M441.2 153.7h0M429.5 157.1h0M443.1 158.4h0M435.1 159.0h0M427.3 156.6h0M415.0 156.2h0M412.0 152.7h0M408.9 158.8h0M437.3 155.2h0M433.2 155.3h0M418.9 154.6h0M431.9 159.4h0M436.1 154.8h0M417.1 156.3h0M416.1 156.0h0M452.2 158.6h0M431.4 157.9h0M420.6 155.7h0M453.3 155.4h0M446.4 157.7h0M434.1 157.5h0M429.7 159.1h0M421.3 154.4h0M447.9 160.2h0M435.9 157.2h0M419.0 158.9h0M434.7 160.4h0M448.6 156.9h0M418.3 156.7h0M450.1 155.3h0M417.1 158.2h0M433.6 155.5h0M426.4 156.4h0M414.5 160.7h0M432.3 157.1h0M428.0 160.3h0M418.1 155.7h0M428.0 154.9h0M415.8 157.4h0M423.9 157.4h0M421.7 161.3h0M441.9 156.8h0M424.3 157.7h0M417.4 158.8h0M421.7 155.7h0M408.3 157.5h0M421.2 158.3h0M426.0 158.3h0M410.3 159.8h0M446.3 157.2h0M441.9 155.8h0M439.1 157.9h0M443.8 155.9h0M402.7 157.6h0M423.9 153.8h0M407.1 157.5h0M446.6 158.4h0M427.5 157.4h0M407.1 156.4h0M449.8 158.4h0M421.1 154.7h0M447.8 156.7h0M423.2 157.6h0M434.9 155.9h0M430.7 160.3h0M422.3 159.7h0M442.0 155.1h0M423.3 157.7h0M436.1 150.9h0M436.0 154.6h0M432.4 153.3h0M422.1 157.3h0M440.0 154.4h0M431.8 155.9h0M406.1 157.5h0M419.7 154.6h0M407.2 155.7h0M422.9 154.3h0M424.2 153.5h0M423.4 155.4h0M444.5 155.0h0M442.7 157.0h0M435.7 159.2h0M437.7 157.1h0M452.3 157.5h0M414.8 161.0h0M404.2 157.1h0M433.7 159.4h0M439.4 158.7h0M411.8 156.5h0M417.0 158.7h0M424.6 158.3h0M416.6 154.5h0M409.4 158.7h0M421.2 156.8h0M409.7 154.2h0M431.4 157.3h0M430.2 155.8h0M408.3 155.7h0M433.8 157.0h0M447.5 155.1h0M442.6 154.1h0M415.1 158.6h0M419.1 153.8h0M442.8 159.3h0M435.3 153.5h0M444.3 156.3h0M404.5 158.6h0M441.9 158.7h0M402.5 158.3h0M443.9 152.4h0M442.4 158.6h0M423.5 155.0h0M413.9 155.7h0M437.4 157.2h0M420.0 159.0h0M452.0 152.9h0M424.0 159.3h0M447.8 154.9h0M430.7 156.2h0M431.9 156.2h0M415.0 155.1h0M443.9 157.4h0M416.4 159.0h0M425.9 159.0h0M401.3 156.8h0M408.3 153.4h0M440.9 156.5h0M417.4 158.1h0M416.1 157.1h0M430.8 155.5h0M446.5 156.4h0M417.1 158.6h0M419.4 155.9h0M437.8 155.7h0M432.8 155.0h0M444.4 157.2h0M437.3 155.6h0M432.9 155.6h0M440.6 154.2h0M419.6 154.8h0M434.0 156.9h0M419.4 161.1h0M428.7 156.2h0M437.1 158.8h0M423.2 158.3h0M441.7 157.0h0M441.1 155.2h0M440.3 155.9h0M452.6 156.2h0M419.1 154.9h0M428.6 155.4h0M448.4 156.7h0M439.0 157.7h0M429.5 157.0h0M441.4 160.1h0M441.2 153.6h0M428.6 160.1h0" stroke="#222" stroke-width="0.80" stroke-linecap="round" opacity="0.7"/>
<path d="M452.8 164.9h0M440.7 165.1h0M434.1 184.8h0M448.4 168.1h0M437.8 174.8h0M423.6 185.7h0M434.3 178.2h0M425.5 186.0h0M439.5 172.5h0M441.6 176.8h0M437.7 182.6h0M433.1 175.8h0M434.4 186.4h0M435.2 179.0h0M440.3 175.2h0M445.5 170.6h0M436.9 182.4h0M431.2 184.8h0M450.5 168.2h0M432.4 174.6h0M441.8 166.3h0M420.0 186.4h0M446.1 176.9h0M426.5 184.6h0M443.0 173.9h0M444.3 168.6h0M426.8 180.8h0M444.2 167.9h0M443.1 176.8h0M425.1 179.9h0M439.6 175.2h0M426.5 179.7h0M431.1 181.8h0M435.0 177.5h0M446.0 166.1h0M443.4 169.4h0M433.0 176.5h0M437.4 169.6h0M440.4 169.4h0M436.7 180.7h0M429.1 181.7h0M425.9 182.7h0M433.9 172.0h0M434.5 177.8h0M449.0 165.3h0M429.2 179.6h0M441.1 184.3h0M450.2 170.3h0M450.1 170.6h0M428.3 185.0h0M440.7 178.4h0M449.4 165.3h0M428.0 184.8h0M432.7 179.5h0M429.0 186.7h0M440.7 178.2h0M434.8 171.5h0M451.8 170.4h0M425.1 187.0h0M434.1 178.0h0M440.2 176.3h0M446.1 171.3h0M449.7 174.0h0M446.4 166.4h0M429.5 185.1h0M433.1 176.8h0M435.1 173.5h0M444.2 171.1h0M436.9 179.9h0M425.7 186.5h0M450.9 162.9h0M434.2 180.7h0M447.8 169.6h0M428.8 184.3h0M440.1 175.2h0M453.4 164.6h0M424.9 182.8h0M434.8 184.8h0M438.0 177.7h0M449.6 171.1h0M445.2 174.6h0M429.0 179.8h0M444.3 165.2h0M452.3 164.4h0M439.2 171.7h0M437.5 176.0h0M439.9 174.9h0M437.2 180.0h0M443.3 172.9h0M444.7 171.2h0M451.3 167.3h0M444.6 174.2h0M444.8 172.6h0M446.1 164.5h0M451.5 162.2h0M450.0 162.0h0M449.8 164.8h0M424.4 182.8h0M435.7 170.4h0M428.6 185.6h0M435.9 173.6h0M421.4 181.8h0M433.5 182.4h0M439.6 175.5h0M435.0 180.3h0M449.3 169.8h0M437.3 175.4h0M431.1 178.6h0M427.5 186.0h0M430.1 181.0h0M440.1 175.5h0M444.3 174.7h0M444.4 167.7h0M436.4 178.5h0M448.4 167.3h0M439.1 179.7h0M441.5 175.4h0M432.8 180.9h0M447.2 171.8h0M421.6 182.5h0M444.7 176.9h0M439.0 168.5h0M452.0 163.3h0M428.0 184.6h0M438.2 175.9h0M430.2 174.3h0M426.9 180.4h0M431.0 176.6h0M444.3 172.6h0M443.4 171.3h0M437.1 176.8h0M442.8 171.7h0M440.2 177.9h0M443.8 168.7h0M445.8 169.6h0M450.5 169.4h0M434.2 179.0h0M452.0 171.6h0M438.5 178.5h0M445.7 174.5h0M452.8 161.7h0M450.4 161.6h0M438.5 172.6h0M429.0 186.7h0M452.9 170.7h0M426.9 182.3h0M451.7 171.3h0M431.2 185.7h0M435.3 180.5h0M446.2 177.0h0M435.1 179.1h0M431.5 184.6h0M442.4 186.9h0M447.0 176.4h0M434.8 187.1h0M431.9 183.5h0M441.0 174.2h0M427.5 175.4h0M440.9 180.3h0M423.5 184.7h0M445.2 173.3h0M437.8 179.6h0M446.2 172.0h0M441.4 170.0h0M436.4 169.7h0M436.2 170.5h0M429.3 180.6h0M438.9 176.5h0M427.6 185.8h0M420.6 186.3h0M440.7 173.9h0M447.2 169.6h0M447.4 167.7h0M442.7 174.8h0M435.2 172.3h0M427.2 186.1h0M447.8 168.8h0M439.7 176.7h0M447.3 173.6h0M429.7 184.2h0M436.1 184.5h0M449.1 178.5h0M440.8 176.1h0M429.8 182.4h0M437.0 176.8h0M445.5 169.3h0M447.4 169.4h0M450.3 171.1h0M436.0 178.2h0M444.4 174.5h0M441.8 176.3h0M421.9 186.1h0M437.7 175.9h0M422.5 186.2h0M446.2 170.6h0M423.3 186.4h0M435.7 171.5h0M433.8 179.9h0" stroke="#222" stroke-width="0.80" stroke-linecap="round" opacity="0.65"/>
<path d="M426.3 180.6h0M426.6 182.5h0M422.1 168.5h0M423.6 179.2h0M435.9 173.1h0M418.3 172.5h0M417.4 183.4h0M413.8 168.5h0M419.4 178.2h0M410.8 173.2h0M409.5 171.9h0M418.2 172.3h0M403.4 166.0h0M431.0 183.2h0M410.7 174.8h0M421.8 164.7h0M423.8 172.3h0M413.3 181.4h0M401.4 185.2h0M403.3 184.7h0M409.4 180.6h0M422.1 181.0h0M416.7 182.3h0M410.2 182.1h0M432.4 180.8h0M432.6 173.8h0M420.7 175.4h0M416.2 173.2h0M420.5 176.4h0M418.8 180.4h0M416.2 172.1h0M407.2 164.5h0M417.5 165.9h0M411.1 177.8h0M429.3 177.5h0M417.1 182.1h0M414.7 173.4h0M427.8 172.9h0M417.3 177.3h0M419.6 182.2h0M411.9 178.9h0M411.8 173.0h0M429.8 175.1h0M413.1 167.0h0M421.0 158.6h0M416.9 172.6h0M426.1 168.2h0M423.3 170.6h0M417.4 169.2h0M421.0 180.6h0M419.7 171.2h0M417.5 171.9h0M411.7 173.0h0M415.3 176.3h0M403.5 176.8h0M401.9 171.6h0M407.1 182.4h0M416.1 169.1h0M416.8 164.8h0M420.9 162.9h0M409.2 169.5h0M424.7 181.1h0M403.1 183.2h0M421.4 166.1h0M414.6 177.6h0M414.2 179.5h0M424.2 173.3h0M407.2 180.1h0M401.4 172.6h0M402.4 179.6h0M430.9 171.1h0M423.2 167.9h0M416.6 163.1h0M417.6 185.8h0M422.7 187.1h0M413.4 179.7h0M408.3 168.8h0M402.0 174.7h0M403.5 176.7h0M414.1 169.7h0" stroke="#222" stroke-width="0.76" stroke-linecap="round" opacity="0.5"/>
<path d="M433.9 158.9h0M430.9 175.5h0M407.8 140.8h0M413.3 150.2h0M409.6 165.8h0M425.4 160.5h0M441.4 144.9h0M449.3 176.1h0M415.2 174.7h0M445.9 139.4h0M419.9 172.7h0M419.2 147.3h0M416.8 152.9h0M439.0 163.0h0M419.9 185.4h0M419.7 165.1h0M448.3 185.5h0M423.7 157.4h0M433.6 164.2h0M429.9 165.1h0M412.0 147.1h0M430.7 150.2h0M425.8 141.1h0M420.5 146.9h0M427.1 181.8h0M410.9 149.2h0M419.3 152.9h0M406.9 143.2h0M436.8 179.4h0M402.7 175.2h0M442.8 174.2h0M440.7 143.8h0M417.3 179.3h0M428.6 175.9h0M415.2 179.2h0M447.8 147.2h0M439.6 186.2h0M404.7 150.4h0M448.4 172.2h0M420.5 147.2h0M448.2 141.4h0M453.0 141.1h0M419.1 162.7h0M432.1 177.8h0M423.3 183.3h0" stroke="#333" stroke-width="0.72" stroke-linecap="round" opacity="0.45"/>
<path d="M421.7,187.9l.1-.7 .3-.5 .2-.5 .3-.3 .3-.5 .4-.5 .3-.3 .3-.4 .4-.5 .3-.3 .5-.5 .2-.2 .5-.5 .3-.3 .5-.5 .2-.2 .5-.5 .3-.3 .5-.4 .3-.3 .4-.4 .5-.4 .3-.2 .5-.5 .3-.3 .4-.3 .5-.4 .3-.3 .5-.4 .4-.3 .3-.3 .5-.4 .5-.3 .3-.3 .5-.4 .4-.3 .4-.3 .4-.3 .5-.4 .4-.3 .4-.3 .5-.3 .4-.4 .4-.2 .4-.4 .5-.3 .5-.3 .3-.3 .5-.3 .5-.3 .5-.4 .3-.2 .4-.3 .5-.3 .5-.4 .5-.3 .4-.2 .4-.3 .5-.3 .5-.3 .5-.3 .5-.3 .4-.3 .4-.2 .5-.3 .4-.2 .5-.3 .5-.3 .5-.3 .5-.2 .5-.3 .5-.2 .5-.3 .5-.2 .5-.2 .5-.2 .7-.3" fill="none" stroke="#515151" stroke-width="0.45"/><path d="M454.1,166.9l-.3 .3 -.5 .5 -.2 .2 -.5 .5 -.3 .3 -.5 .5 -.2 .2 -.5 .5 -.3 .3 -.5 .4 -.3 .3 -.4 .4 -.5 .4 -.3 .2 -.5 .5 -.3 .3 -.4 .3 -.5 .4 -.3 .3 -.5 .4 -.4 .3 -.3 .3 -.5 .4 -.5 .3 -.3 .3 -.5 .4 -.4 .3 -.4 .3 -.4 .3 -.5 .4 -.4 .3 -.4 .3 -.5 .3 -.4 .4 -.4 .2 -.4 .4 -.5 .3 -.5 .3 -.3 .3 -.5 .3 -.5 .3 -.5 .4 -.3 .2 -.4 .3 -.5 .3 -.5 .4 -.5 .3 -.4 .2 -.4 .3 -.5 .3 -.5 .3 -.5 .3 -.5 .3 -.4 .3 -.4 .2 -.5 .3 -.4 .2 -.5 .3 -.5 .3 -.5 .3 -.5 .2 -.5 .3 -.5 .2 -.5 .3 -.5 .2 -.5 .2" fill="none" stroke="#515151" stroke-width="0.45"/><path d="M429.6,183.2l-.7 0 -.2-.5 .2-.5 .3-.5 .4-.5 .2-.3 .4-.5 .4-.4 .3-.3 .4-.4 .4-.4 .4-.4 .4-.3 .3-.3 .5-.5 .3-.2 .5-.4 .4-.4 .3-.3 .5-.4 .4-.3 .4-.3 .5-.4 .4-.3 .3-.2 .5-.4 .5-.4 .3-.2 .5-.3 .5-.4 .4-.3 .4-.3 .4-.3 .5-.3 .5-.3 .5-.3 .4-.3 .4-.2 .5-.3 .5-.3 .5-.3 .5-.3 .5-.3 .5-.2 .5-.3 .5-.2 .5-.2 .5-.2 .6-.2 .6 0 .4 .3 -.1 .5 -.3 .5 -.3 .5 -.4 .5 -.3 .3 -.3 .4 -.4 .4 -.4 .4 -.4 .4 -.3 .3 -.4 .4 -.5 .4 -.3 .3 -.5 .4 -.3 .3 -.4 .3 -.5 .4 -.3 .3 -.5 .4 -.4 .3 -.3 .3 -.5 .4 -.5 .3 -.3 .3 -.5 .3 -.5 .4 -.4 .3 -.3 .2 -.5 .4 -.5 .3 -.5 .3 -.3 .3 -.5 .3 -.5 .3 -.5 .3 -.5 .3 -.4 .3 -.4 .2 -.4 .3 -.5 .3 -.5 .2 -.5 .3 -.5 .3 -.5 .2 -.5 .2 -.5 .2 -.8 .3z" fill="none" stroke="#515151" stroke-width="0.45"/>
<path d="M400.3,167.2l.2-.5 .2-.5 .2-.5 .2-.5 .3-.5 .2-.5 .3-.5 .4-.5 .3-.5 .2-.3 .3-.5 .5-.5 .2-.3 .4-.4 .4-.4 .4-.4 .3-.3 .5-.4 .3-.3 .5-.3 .5-.4 .4-.3 .5-.2 .4-.3 .5-.2 .6-.3 .6-.2 .5-.2 .5-.1 .7-.2 .5-.1 .8-.1 .7-.1 .8 0 .7 .1 .8 0 .7 .1 .5 .1 .8 .2 .5 .1 .6 .2 .6 .1 .5 .2 .7 .2 .6 .1 .5 .1 .7 .2 .5 .1 .8 .1 .7 .1 .5 0 .8 .1 .7 0 .8 0 .7 0 .8 0 .7 0 .8 0 .7 0 .8 0 .7 0 .8 0 .7 0 .8 0 .7 0 .8 0 .7 0 .8 .1 .7 0 .8 .1 .5 0 .7 .1 .8 .1 .5 .1 .7 .1 .8 .1 .5 0 .7 .1 .8 .1 .5 .1 .7 0 .8 0 .7 0 .8 0 .7 0 .8 0 .6-.1 .6 0 .8 0 .7 0 .8 0" fill="none" stroke="#444444" stroke-width="0.5"/><path d="M454.1,166.2l-.4 .2 -.4 .3 -.5 .4 -.4 .3 -.4 .3 -.4 .2 -.5 .4 -.5 .3 -.5 .3 -.5 .3 -.5 .2 -.4 .3 -.5 .2 -.5 .3 -.4 .2 -.5 .3 -.5 .2 -.5 .3 -.6 .2 -.5 .3 -.6 .2 -.5 .3 -.5 .2 -.5 .2 -.5 .2 -.5 .2 -.5 .2 -.7 .2 -.6 .2 -.5 .2 -.5 .2 -.5 .2 -.7 .2 -.5 .2 -.5 .1 -.8 .2 -.5 .2 -.5 .1 -.6 .2 -.6 .3 -.5 .1 -.5 .3 -.5 .2 -.5 .3 -.5 .3 -.3 .3 -.5 .5 -.2 .3 -.3 .4 -.3 .5 -.2 .5 -.3 .5 -.2 .6 -.2 .7 -.2 .5 -.1 .5 -.2 .5 -.3 .7 -.2 .5 -.2 .5 -.2 .5 -.2 .5 -.3 .5 -.2 .5 -.3 .5 -.3 .5 -.3 .5" fill="none" stroke="#444444" stroke-width="0.5"/><path d="M402.8,187.9l-.2-.4 -.3-.4 -.2-.4 -.3-.5 -.3-.5 -.2-.5 -.2-.5 -.3-.6 -.2-.7 -.2-.5" fill="none" stroke="#444444" stroke-width="0.5"/><path d="M406.4,187.9l-.3-.3 -.4-.4 -.4-.5 -.2-.3 -.3-.5 -.4-.5 -.3-.5 -.3-.5 -.2-.5 -.2-.5 -.3-.5 -.2-.5 -.1-.5 -.2-.5 -.2-.7 -.2-.5 -.1-.7 -.1-.6 -.2-.7 0-.5 -.1-.8 0-.7 -.1-.8 0-.7 .1-.8 0-.7 .1-.8 .1-.5 .1-.7 .1-.6 .1-.7 .1-.5 .2-.7 .2-.5 .1-.5 .3-.6 .2-.6 .3-.6 .2-.4 .3-.5 .2-.4 .3-.4 .4-.5 .3-.4 .4-.4 .4-.4 .3-.3 .4-.4 .5-.4 .3-.2 .5-.3 .5-.4 .5-.2 .5-.3 .5-.2 .5-.2 .5-.2 .6-.2 .6-.2 .6-.1 .7-.1 .7 0 .8-.1 .7 0 .8 .1 .7 0 .8 .1 .5 .1 .7 0 .8 .1 .5 .1 .7 .1 .8 0 .7 .1 .5 0 .8 .1 .7 0 .8 0 .7 0 .8 0 .7-.1 .8 0 .5 0 .7 0 .8 0 .7-.1 .8 0 .7 0 .8 0 .7 0 .8 0 .7 .1 .8 0 .5 .1 .7 0 .8 .1 .5 .1 .7 .1 .8 .1 .5 .1 .7 .1 .5 .1 .8 .1 .5 .1 .7 .1 .8 .1 .7 0 .8 0 .7 0 .8 0 .7 0 .8 0 .7-.1 .8 .1 .7 0 .6 .1 .7 .1 .5 .2 .5 .3" fill="none" stroke="#444444" stroke-width="0.5"/><path d="M454.1,163.8l-.3 .4 -.4 .5 -.3 .3 -.5 .4 -.3 .3 -.5 .4 -.3 .3 -.4 .3 -.5 .4 -.5 .3 -.4 .3 -.4 .2 -.5 .3 -.5 .3 -.5 .3 -.5 .3 -.5 .3 -.5 .2 -.5 .3 -.5 .2 -.5 .3 -.5 .2 -.5 .2 -.5 .2 -.5 .2 -.5 .2 -.6 .3 -.6 .2 -.5 .2 -.5 .1 -.6 .2 -.7 .2 -.5 .2 -.6 .1 -.6 .2 -.6 .1 -.7 .1 -.7 .1 -.5 .1 -.8 .1 -.7 0 -.8 0 -.7 .1 -.5 0 -.8 .1 -.5 .2 -.5 .4 -.2 .3 -.4 .5 -.4 .5 -.2 .4 -.3 .5 -.2 .5 -.3 .5 -.2 .6 -.2 .5 -.2 .5 -.2 .5 -.2 .5 -.2 .7 -.2 .5 -.2 .5 -.2 .5 -.2 .5 -.2 .5 -.3 .5 -.2 .5 -.3 .5 -.3 .5 -.4 .5 -.3 .5 -.2 .3 -.4 .5 -.4 .4 -.3 .3" fill="none" stroke="#444444" stroke-width="0.5"/><path d="M410.3,187.9l-.5-.2 -.5-.4 -.5-.3 -.4-.3 -.3-.3 -.5-.5 -.3-.3 -.3-.4 -.4-.5 -.3-.4 -.3-.4 -.3-.5 -.2-.5 -.3-.5 -.2-.5 -.2-.5 -.2-.5 -.3-.7 -.1-.5 -.1-.6 -.2-.7 -.1-.6 -.1-.6 0-.8 -.1-.7 0-.8 .1-.7 0-.8 .1-.7 .1-.5 .1-.8 .1-.5 .2-.7 .1-.5 .2-.7 .2-.6 .2-.5 .2-.5 .2-.5 .3-.5 .3-.5 .3-.5 .3-.4 .3-.3 .4-.5 .3-.3 .5-.5 .3-.2 .4-.3 .5-.4 .5-.3 .5-.3 .5-.2 .5-.2 .5-.2 .5-.1 .8-.2 .5-.1 .7-.2 .6 0 .7-.1 .7 0 .8 0 .7 0 .8 0 .7 .1 .6 0 .7 0 .7 0 .8 0 .7 .1 .8 0 .7 0 .8-.1 .7 0 .8 0 .5 0 .7-.1 .8 0 .7 0 .8-.1 .7 0 .8 0 .7 0 .8 0 .7 0 .8 .1 .7 0 .7 .1 .6 0 .7 .2 .5 0 .8 .2 .5 .1 .7 .2 .5 .1 .8 .2 .5 .1 .7 .1 .5 .1 .8 0 .7 0 .8 .1 .7-.1 .8 0 .7 0 .8 0 .7 0 .8 .1 .5 .1 .7 .2 .4 .3 .4 .5 0 .5 -.2 .5 -.3 .5 -.3 .4 -.3 .3 -.4 .5 -.4 .3 -.4 .3 -.5 .4 -.4 .3 -.4 .2 -.4 .3 -.5 .3 -.5 .3 -.5 .3 -.5 .2 -.5 .3 -.5 .2 -.5 .3 -.5 .2 -.5 .2 -.5 .2 -.6 .2 -.7 .2 -.5 .2 -.5 .1 -.7 .2 -.5 .2 -.8 .1 -.5 .1 -.7 0 -.8 0 -.7-.1 -.5-.2 -.5-.3 -.3-.2 -.4-.5 -.3-.5 -.3-.3 -.5-.3 -.6-.2 -.6-.1 -.8 0 -.7 .1 -.5 .1 -.8 .1 -.5 .2 -.5 .2 -.5 .2 -.5 .3 -.5 .4 -.2 .3 -.3 .5 -.2 .5 -.2 .7 0 .8 0 .7 .1 .8 -.1 .7 -.1 .8 -.1 .5 -.1 .6 -.2 .6 -.1 .5 -.2 .6 -.2 .7 -.2 .5 -.2 .5 -.2 .5 -.2 .5 -.3 .5 -.2 .5 -.3 .5 -.3 .5 -.3 .5 -.4 .5 -.2 .3 -.4 .4 -.4 .5 -.3 .3 -.4 .4 -.5 .3 -.3 .3 -.5 .3 -.5 .3" fill="none" stroke="#444444" stroke-width="0.5"/><path d="M415.1,186.4l-.8 .1 -.7 0 -.5-.1 -.8-.2 -.5-.1 -.5-.2 -.5-.3 -.5-.3 -.5-.3 -.4-.3 -.3-.3 -.5-.5 -.3-.3 -.3-.4 -.4-.5 -.3-.5 -.2-.5 -.3-.4 -.2-.6 -.2-.5 -.2-.5 -.2-.5 -.2-.8 -.1-.5 -.1-.7 0-.5 -.1-.8 0-.7 0-.8 .1-.7 0-.5 .1-.8 .1-.6 .2-.6 .1-.5 .2-.8 .2-.5 .1-.5 .2-.5 .3-.5 .2-.5 .3-.5 .3-.5 .4-.5 .3-.3 .4-.4 .3-.3 .5-.5 .4-.2 .4-.3 .5-.3 .5-.2 .5-.3 .5-.2 .7-.2 .5-.1 .7-.2 .6-.1 .7-.1 .6 0 .7-.1 .7 0 .8 0 .7 0 .8 0 .7 0 .8 0 .7 0 .8-.1 .7 0 .8 0 .7 0 .8-.1 .5 0 .7 0 .8-.1 .7 0 .8 0 .7-.1 .8 0 .7 0 .8 .1 .7 0 .8 .1 .5 .1 .7 .1 .5 .1 .8 .2 .5 .2 .5 .2 .5 .2 .5 .3 .5 .2 .7 .2 .5 .1 .8 0 .7 0 .8 0 .7 0 .8-.1 .6 0 .6 0 .8 0 .5 0 .7 .1 .5 .2 .5 .4 -.1 .8 -.4 .5 -.2 .3 -.5 .4 -.3 .3 -.5 .3 -.5 .3 -.5 .3 -.5 .3 -.5 .3 -.5 .2 -.5 .2 -.5 .2 -.5 .2 -.6 .2 -.6 .1 -.5 .1 -.8 .1 -.7 .1 -.8-.2 -.5-.2 -.3-.3 -.3-.5 -.3-.5 -.3-.5 -.3-.2 -.5-.3 -.7-.1 -.8 0 -.7 0 -.8 .1 -.5 0 -.7 .1 -.8 .1 -.5 .1 -.7 .2 -.5 .1 -.8 .1 -.5 .2 -.5 .1 -.7 .3 -.5 .2 -.5 .3 -.5 .2 -.3 .3 -.5 .4 -.3 .3 -.3 .5 -.3 .5 -.1 .5 -.1 .8 -.1 .7 .1 .8 0 .7 0 .8 0 .7 -.1 .8 -.1 .5 -.1 .7 -.1 .5 -.2 .6 -.3 .7 -.2 .5 -.2 .5 -.2 .5 -.3 .5 -.3 .5 -.3 .4 -.2 .4 -.4 .4 -.4 .5 -.3 .3 -.4 .4 -.4 .3 -.4 .3 -.5 .3 -.5 .3 -.5 .2 -.5 .2 -.7 .2 -.5 0z" fill="none" stroke="#444444" stroke-width="0.5"/><path d="M415.3,184l-.7 .1 -.8 0 -.7-.1 -.5-.2 -.5-.2 -.5-.2 -.5-.3 -.5-.4 -.4-.3 -.4-.4 -.3-.3 -.4-.5 -.3-.5 -.2-.4 -.3-.5 -.2-.6 -.2-.5 -.2-.5 -.1-.8 -.1-.5 -.1-.7 0-.8 0-.7 0-.8 .1-.7 .1-.5 .2-.8 .1-.5 .2-.6 .2-.6 .2-.5 .2-.5 .2-.5 .3-.5 .3-.5 .3-.4 .3-.4 .4-.5 .3-.2 .5-.5 .4-.3 .4-.2 .5-.3 .5-.2 .7-.3 .5-.2 .5-.1 .8-.1 .5-.1 .7-.1 .8-.1 .7 0 .5 0 .8-.1 .7 0 .8 0 .7 0 .8 0 .7 0 .8 0 .7 0 .8 0 .7 0 .8 0 .7-.1 .8 .1 .7 0 .8 .1 .5 .1 .5 .1 .3 .5 -.3 .3 -.5 .3 -.5 .2 -.7 .2 -.6 .2 -.5 .1 -.6 .2 -.6 .2 -.5 .1 -.5 .2 -.7 .3 -.6 .2 -.5 .3 -.5 .2 -.4 .3 -.3 .2 -.5 .5 -.3 .3 -.4 .5 -.3 .5 -.2 .5 -.2 .5 -.1 .7 0 .5 0 .8 0 .5 0 .7 .1 .8 0 .7 -.1 .8 0 .6 -.1 .6 -.2 .6 -.2 .7 -.2 .5 -.2 .5 -.3 .5 -.2 .5 -.4 .5 -.2 .3 -.4 .4 -.4 .4 -.4 .4 -.3 .2 -.5 .4 -.5 .2 -.5 .2 -.6 .2z" fill="none" stroke="#444444" stroke-width="0.5"/><path d="M415.1,181.2l-.8 .1 -.7-.1 -.5-.1 -.5-.2 -.5-.3 -.5-.4 -.4-.3 -.4-.5 -.2-.3 -.3-.5 -.2-.5 -.3-.7 -.1-.5 -.1-.7 -.1-.5 0-.8 .1-.6 .1-.6 .1-.8 .2-.5 .1-.5 .2-.5 .3-.6 .2-.5 .3-.4 .3-.5 .3-.5 .4-.4 .3-.3 .4-.4 .5-.4 .4-.2 .5-.3 .6-.2 .5-.2 .5-.1 .8-.1 .7 0 .5 .1 .6 .3 .3 .5 .1 .7 -.2 .8 0 .5 -.1 .7 0 .8 .1 .7 0 .5 .1 .8 .1 .7 .1 .5 0 .8 0 .7 0 .8 -.1 .5 -.2 .7 -.2 .5 -.2 .5 -.2 .5 -.4 .5 -.3 .4 -.4 .4 -.3 .3 -.5 .3 -.5 .2 -.5 .2z" fill="none" stroke="#444444" stroke-width="0.5"/>
<ellipse cx="414.7" cy="163.8" rx="4.7" ry="5.1" fill="#f2f2f2" opacity="0.8"/>
<ellipse cx="414.7" cy="162.8" rx="6.8" ry="6.6" fill="none" stroke="#222" stroke-width="0.6"/>
<ellipse cx="414.7" cy="162.8" rx="5.4" ry="5.4" fill="none" stroke="#555" stroke-width="0.6"/>
<ellipse cx="414.7" cy="162.8" rx="4.1" ry="4.1" fill="none" stroke="#777" stroke-width="0.6"/>
<path d="M408.9,171.8 C408.1,160.8 409.6,156.6 414.7,156.6 C419.8,156.6 421.1,159.8 420.8,167.8" fill="none" stroke="#444" stroke-width="0.9"/>
<path d="M408.8,159.8 V170.8" stroke="#444" stroke-width="1.5"/>
</g>
<rect x="400.7" y="133.8" width="31.3" height="31.5" fill="none" stroke="#46587a" stroke-width="1.0"/>
<text x="417.7" y="140.5" font-size="6.3" text-anchor="middle" font-weight="normal" fill="#7a9fc6"  stroke="#7a9fc6" stroke-width="0.08">46%</text>
<rect x="400.2" y="133.3" width="54.0" height="54.79999999999998" fill="none" stroke="#000" stroke-width="1.05"/>
<path d="M400.3,133.3 V188.45 H454.2" fill="none" stroke="#000" stroke-width="1.6"/>
<text x="400.7" y="197.3" font-size="6.3" text-anchor="middle" font-weight="normal" fill="#222"  stroke="#222" stroke-width="0.2">0</text>
<text x="421.7" y="197.3" font-size="6.3" text-anchor="middle" font-weight="normal" fill="#222"  stroke="#222" stroke-width="0.2">100k</text>
<text x="442.7" y="197.3" font-size="6.3" text-anchor="middle" font-weight="normal" fill="#222"  stroke="#222" stroke-width="0.2">200k</text>
<text x="277.4" y="141.4" font-size="6.3" text-anchor="end" fill="#222" stroke="#222" stroke-width="0.2">10<tspan font-size="4.4" dy="-2.4">5</tspan></text>
<text x="277.4" y="153.0" font-size="6.3" text-anchor="end" fill="#222" stroke="#222" stroke-width="0.2">10<tspan font-size="4.4" dy="-2.4">4</tspan></text>
<text x="277.4" y="166.0" font-size="6.3" text-anchor="end" fill="#222" stroke="#222" stroke-width="0.2">10<tspan font-size="4.4" dy="-2.4">3</tspan></text>
<text x="277.4" y="178.0" font-size="6.3" text-anchor="end" fill="#222" stroke="#222" stroke-width="0.2">10<tspan font-size="4.4" dy="-2.4">2</tspan></text>
<text x="277.4" y="184.8" font-size="6.3" text-anchor="end" font-weight="normal" fill="#222"  stroke="#222" stroke-width="0.2">0</text>
<line x1="263.6" y1="201.6" x2="263.6" y2="130.8" stroke="#000" stroke-width="1.3"/>
<path d="M260.40000000000003,132.3 L263.6,124.8 L266.8,132.3 Z" fill="#000"/>
<line x1="263.0" y1="201.6" x2="459.6" y2="201.6" stroke="#000" stroke-width="1.3"/>
<path d="M458.1,198.6 L465.6,201.6 L458.1,204.6 Z" fill="#000"/>
<text x="468.6" y="204.8" font-size="10.4" text-anchor="start" font-weight="normal" fill="#111" textLength="23.5" lengthAdjust="spacingAndGlyphs"  stroke="#111" stroke-width="0.2">FSC-A</text>
<text transform="translate(257.6 164) rotate(-90) scale(0.88 1)" font-size="9.43" text-anchor="middle" fill="#111" stroke="#111" stroke-width="0.2">Ter119</text>
<text transform="translate(248.8 242.0) scale(0.9 1)" font-size="12.00" text-anchor="start" font-weight="bold" fill="#111"  stroke="#111" stroke-width="0.2">D</text>
<text transform="translate(306.9 257.4) scale(0.88 1)" font-size="11.02" text-anchor="middle" font-weight="normal" fill="#111"  stroke="#111" stroke-width="0.2">WT</text>
<text transform="translate(367 257.4) scale(0.88 1)" font-size="11.02" text-anchor="middle" font-weight="normal" fill="#111"  stroke="#111" stroke-width="0.2">P1-</text>
<text transform="translate(367.2 268.8) scale(0.88 1)" font-size="11.02" text-anchor="middle" font-weight="normal" fill="#111"  stroke="#111" stroke-width="0.2">MRIPV/+</text>
<text transform="translate(426.6 257.4) scale(0.88 1)" font-size="11.02" text-anchor="middle" font-weight="normal" fill="#111"  stroke="#111" stroke-width="0.2">P1-MRIPV/</text>
<text transform="translate(426.6 268.8) scale(0.88 1)" font-size="11.02" text-anchor="middle" font-weight="normal" fill="#111"  stroke="#111" stroke-width="0.2">MRIPV</text>
<text transform="translate(488.4 257.4) scale(0.89 1)" font-size="10.79" text-anchor="middle" font-weight="normal" fill="#111"  stroke="#111" stroke-width="0.2">Cultured</text>
<text transform="translate(488.4 268.6) scale(0.89 1)" font-size="10.79" text-anchor="middle" font-weight="normal" fill="#111"  stroke="#111" stroke-width="0.2">PreMegEs</text>
<text transform="translate(488.4 279.8) scale(0.89 1)" font-size="10.79" text-anchor="middle" font-weight="normal" fill="#111"  stroke="#111" stroke-width="0.2">(12hrs)</text>
<rect x="279.5" y="275.2" width="54.89999999999998" height="55.10000000000002" fill="#fff"/>
<clipPath id="c7"><rect x="279.5" y="275.2" width="54.89999999999998" height="55.10000000000002"/></clipPath><g clip-path="url(#c7)">
<filter id="b4" x="-50%" y="-50%" width="200%" height="200%"><feGaussianBlur stdDeviation="1.8"/></filter>
<ellipse cx="305.5" cy="304.2" rx="11" ry="6" transform="rotate(0.0 305.5 304.2)" fill="#888" opacity="0.59" filter="url(#b4)"/>
<path d="M301.0 310.7h0M303.2 316.0h0M284.3 284.0h0M330.0 306.9h0M306.3 310.9h0M285.0 294.6h0M295.1 297.6h0M317.8 311.0h0M302.5 294.8h0M289.1 291.3h0M293.7 308.5h0M306.5 302.7h0M301.8 317.2h0M288.7 317.5h0M295.7 307.2h0M283.4 306.5h0M298.1 307.7h0M311.2 304.2h0M307.8 304.9h0M296.9 293.5h0M306.6 297.2h0M302.5 315.3h0M287.9 315.3h0M292.6 307.5h0M289.5 320.7h0M298.5 298.7h0M297.4 282.6h0M295.5 322.6h0M300.3 310.5h0M301.3 318.6h0M299.9 306.1h0M318.4 309.0h0M305.7 301.6h0M313.3 324.2h0M319.6 318.5h0M305.6 321.0h0M307.5 316.8h0M290.3 320.2h0M303.0 294.0h0M295.8 318.1h0M310.0 315.3h0M296.4 305.3h0M297.2 308.7h0M301.2 303.3h0M307.5 318.7h0M296.9 295.8h0M303.8 291.7h0M297.4 321.4h0M303.4 324.2h0M307.9 316.8h0M303.8 323.0h0M306.3 317.5h0M299.7 297.6h0M308.7 290.3h0M306.8 313.9h0M301.1 296.6h0M304.8 306.6h0M309.6 301.5h0M297.3 305.2h0M301.6 306.2h0M295.0 318.3h0M304.0 296.6h0M315.1 314.7h0M300.8 307.6h0M296.3 302.1h0M298.4 299.1h0M299.4 310.2h0M283.5 304.2h0M298.5 304.5h0M294.9 311.7h0M303.0 311.8h0M297.3 310.7h0M316.4 291.5h0M292.4 298.3h0M294.4 316.6h0M297.0 312.3h0M316.1 286.4h0M302.2 316.1h0M299.0 303.1h0M310.8 296.0h0M302.8 294.0h0M296.5 303.4h0M305.6 306.3h0M313.9 294.3h0M303.7 309.0h0M306.7 312.5h0M306.5 290.0h0M315.1 293.7h0M309.9 308.1h0M303.1 300.9h0M291.3 297.3h0M300.8 301.3h0M296.6 288.0h0M298.4 306.5h0M303.6 316.6h0M293.5 308.3h0M303.4 310.2h0M290.9 302.1h0M295.2 300.1h0M301.9 309.0h0M292.8 316.3h0M306.1 310.4h0M291.6 309.9h0M298.6 315.5h0M298.2 310.2h0M300.8 317.0h0M292.8 319.9h0M297.4 311.0h0M303.9 303.9h0M290.3 292.0h0M306.4 290.9h0M292.0 316.0h0M281.2 323.4h0M289.1 319.1h0M294.2 313.2h0M303.8 325.6h0M304.7 311.6h0M293.6 290.2h0M311.0 300.7h0" stroke="#222" stroke-width="0.72" stroke-linecap="round" opacity="0.5"/>
<path d="M303.5 319.5h0M304.3 319.7h0M304.6 320.7h0M299.0 316.8h0M302.0 322.0h0M309.0 319.7h0M305.8 309.8h0M312.1 318.5h0M305.7 313.6h0M299.4 307.2h0M311.8 321.3h0M311.5 310.7h0M307.4 323.8h0M320.6 311.6h0M304.0 321.4h0M308.7 319.0h0M305.3 314.2h0M317.0 322.3h0M306.1 319.3h0M301.6 309.2h0M312.3 319.3h0M304.9 316.0h0M319.5 318.6h0M304.6 325.9h0M312.5 307.2h0M309.3 316.1h0M299.6 312.2h0M298.5 327.2h0M314.5 325.2h0" stroke="#222" stroke-width="0.72" stroke-linecap="round" opacity="0.5"/>
<path d="M293.9,321.9l-.8 0 -.7 0 -.5-.1 -.7-.2 -.5-.3 -.4-.2 -.4-.4 -.3-.4 -.4-.5 -.3-.5 -.2-.5 -.2-.5 -.1-.5 -.2-.7 -.1-.5 0-.8 -.1-.7 .1-.8 0-.7 .1-.5 .1-.8 .1-.5 .2-.7 .1-.5 .2-.6 .2-.7 .2-.5 .2-.5 .2-.5 .2-.5 .3-.5 .2-.5 .3-.5 .3-.5 .3-.5 .3-.5 .3-.3 .3-.4 .3-.5 .4-.4 .3-.4 .4-.4 .3-.3 .5-.5 .3-.3 .4-.3 .5-.4 .4-.3 .5-.2 .4-.3 .5-.2 .7-.3 .5-.1 .5-.2 .8 0 .7 0 .5 .1 .7 .2 .5 .3 .4 .2 .4 .4 .3 .4 .4 .5 .3 .5 .2 .5 .2 .5 .1 .5 .2 .7 .1 .5 0 .8 .1 .7 -.1 .8 0 .7 -.1 .5 -.1 .8 -.1 .5 -.2 .7 -.1 .5 -.2 .6 -.2 .7 -.2 .5 -.2 .5 -.2 .5 -.2 .5 -.3 .5 -.2 .5 -.3 .5 -.3 .5 -.3 .5 -.3 .5 -.3 .3 -.3 .4 -.3 .5 -.4 .4 -.3 .4 -.4 .4 -.3 .3 -.5 .5 -.3 .3 -.4 .3 -.5 .4 -.4 .3 -.5 .2 -.4 .3 -.5 .2 -.7 .3 -.5 .1 -.5 .2z" fill="none" stroke="#7a7a7a" stroke-width="0.45"/><path d="M294.9,318.4l-.8 .1 -.7-.1 -.5-.1 -.5-.3 -.5-.4 -.3-.3 -.3-.5 -.3-.5 -.2-.5 -.1-.7 -.1-.5 -.1-.8 .1-.7 0-.8 .1-.5 .2-.7 .1-.5 .1-.5 .3-.8 .2-.5 .2-.5 .2-.5 .3-.5 .3-.5 .3-.5 .2-.3 .3-.4 .4-.5 .3-.4 .4-.4 .4-.4 .4-.3 .3-.3 .5-.4 .5-.3 .5-.2 .5-.2 .5-.2 .8-.1 .7 .1 .5 .1 .5 .3 .5 .4 .3 .3 .3 .5 .3 .5 .2 .5 .1 .7 .1 .5 .1 .8 -.1 .7 0 .8 -.1 .5 -.2 .7 -.1 .5 -.1 .5 -.3 .8 -.2 .5 -.2 .5 -.2 .5 -.3 .5 -.3 .5 -.3 .5 -.2 .3 -.3 .4 -.4 .5 -.3 .4 -.4 .4 -.4 .4 -.4 .3 -.3 .3 -.5 .4 -.5 .3 -.5 .2 -.5 .2 -.5 .2z" fill="none" stroke="#7a7a7a" stroke-width="0.45"/>
<path d="M298.6,313.9l-.7 .1 -.8 .1 -.7 0 -.8-.1 -.5-.2 -.6-.2 -.5-.3 -.4-.3 -.4-.4 -.3-.4 -.3-.4 -.3-.5 -.2-.5 -.2-.5 -.3-.7 -.1-.5 -.1-.5 -.2-.8 0-.7 0-.8 .1-.7 .1-.5 .2-.8 .2-.5 .2-.5 .3-.5 .3-.4 .3-.3 .5-.5 .3-.3 .4-.4 .5-.3 .4-.3 .4-.2 .5-.3 .6-.2 .6-.3 .5-.1 .5-.2 .8-.1 .5-.1 .7-.1 .8-.1 .7 0 .8 0 .7 0 .8 .1 .7 0 .8 0 .7 .1 .8 0 .6 0 .6 0 .8 .1 .7 0 .8 .1 .6 .1 .6 .1 .8 .1 .5 .1 .5 .2 .7 .2 .5 .3 .5 .2 .5 .3 .3 .2 .5 .4 .3 .4 .4 .5 .3 .4 .2 .5 .2 .6 .1 .5 0 .7 0 .5 -.1 .8 -.2 .5 -.2 .6 -.3 .5 -.2 .4 -.3 .5 -.5 .5 -.2 .2 -.5 .5 -.4 .3 -.4 .2 -.5 .3 -.5 .2 -.7 .3 -.5 .1 -.5 .2 -.8 .1 -.7 .1 -.5 0 -.8 0 -.7 .1 -.8 0 -.7 .1 -.5 0 -.8 .2 -.5 .2 -.5 .1 -.7 .2 -.5 .2 -.5 .1 -.8 .3 -.5 .1 -.5 .1 -.7 .2 -.5 .1 -.8 .2 -.5 .1z" fill="none" stroke="#1b1b1b" stroke-width="0.5"/><path d="M299.6,312.4l-.7 .1 -.8 0 -.7 0 -.8-.1 -.5-.1 -.7-.2 -.4-.3 -.4-.2 -.5-.5 -.2-.3 -.3-.5 -.3-.5 -.2-.5 -.2-.6 -.2-.6 -.1-.8 0-.5 0-.5 .1-.7 .2-.6 .2-.7 .3-.5 .2-.4 .3-.4 .4-.4 .3-.4 .5-.4 .3-.2 .5-.3 .5-.3 .5-.3 .5-.2 .6-.2 .6-.1 .5-.2 .8-.1 .7 0 .8-.1 .7 0 .8 .1 .7 0 .8 .1 .7 .1 .5 0 .8 .1 .7 0 .8 0 .7 .1 .8 0 .5 .1 .7 0 .7 .2 .6 .1 .5 .1 .6 .3 .6 .2 .4 .3 .4 .2 .5 .4 .3 .4 .4 .5 .3 .4 .2 .6 .1 .5 .1 .7 -.1 .8 -.1 .5 -.2 .6 -.3 .5 -.2 .4 -.5 .5 -.3 .3 -.5 .4 -.5 .3 -.5 .2 -.5 .2 -.5 .2 -.5 .1 -.7 .1 -.8 .1 -.7 0 -.8 0 -.7 0 -.8 .1 -.5 0 -.7 .1 -.5 .1 -.8 .2 -.5 .2 -.5 .2 -.6 .2 -.6 .2 -.5 .1 -.8 .2 -.5 .1 -.7 .1z" fill="none" stroke="#1b1b1b" stroke-width="0.5"/><path d="M299.6,311.3l-.7 .1 -.8 0 -.6-.1 -.6-.1 -.5-.2 -.5-.2 -.5-.4 -.4-.3 -.4-.5 -.2-.4 -.3-.5 -.2-.6 -.1-.5 0-.8 0-.7 .1-.5 .2-.8 .2-.5 .3-.5 .3-.3 .3-.4 .4-.4 .5-.4 .4-.2 .4-.3 .5-.2 .6-.3 .6-.2 .5-.1 .8-.1 .7-.1 .5 0 .7 0 .6 .1 .7 0 .8 .1 .5 .1 .7 .1 .8 .1 .6 0 .6 .1 .8 0 .7 0 .8 0 .7 .1 .5 .1 .8 .1 .5 .2 .5 .2 .5 .2 .5 .3 .5 .4 .3 .3 .3 .5 .3 .5 .2 .5 0 .8 0 .7 -.2 .5 -.2 .5 -.4 .5 -.3 .4 -.5 .4 -.4 .2 -.5 .3 -.6 .2 -.5 .1 -.8 .2 -.5 0 -.7 0 -.8 0 -.7 0 -.5 0 -.5 0 -.8 0 -.7 .2 -.5 .1 -.5 .2 -.8 .2 -.5 .2 -.5 .2 -.5 .1 -.7 .2 -.5 .1 -.8 .2 -.5 0z" fill="none" stroke="#1b1b1b" stroke-width="0.5"/><path d="M300.1,310.3l-.7 .1 -.8 0 -.6-.1 -.6-.1 -.5-.2 -.5-.3 -.5-.4 -.3-.3 -.2-.4 -.3-.5 -.2-.8 -.1-.5 .1-.7 .1-.5 .1-.5 .3-.5 .3-.5 .4-.5 .3-.3 .5-.4 .5-.3 .5-.2 .5-.2 .5-.2 .7-.2 .5 0 .8-.1 .7 0 .8 .1 .5 .1 .7 .1 .5 .1 .8 .1 .5 .1 .7 .1 .8 .1 .7 0 .8 0 .7 0 .8 0 .5 .1 .7 .2 .5 .1 .5 .3 .5 .3 .4 .3 .4 .4 .2 .5 .2 .6 0 .8 -.2 .6 -.2 .5 -.4 .4 -.4 .3 -.5 .3 -.5 .2 -.5 .2 -.7 .1 -.8 .1 -.7-.1 -.8 0 -.7-.1 -.8 0 -.7 .1 -.8 .1 -.5 .2 -.5 .1 -.5 .2 -.6 .3 -.6 .2 -.5 .2 -.5 .1 -.8 .2 -.5 0z" fill="none" stroke="#1b1b1b" stroke-width="0.5"/><path d="M300.6,309.3l-.7 .1 -.8 0 -.7-.1 -.5-.1 -.5-.3 -.5-.3 -.3-.3 -.3-.5 -.2-.5 -.1-.7 0-.8 .2-.5 .2-.5 .4-.5 .3-.3 .5-.4 .4-.3 .6-.2 .5-.2 .5-.1 .8-.1 .7-.1 .8 .1 .6 .1 .6 .2 .5 .1 .7 .2 .6 .2 .5 .1 .7 .2 .8 0 .7-.1 .8 0 .7-.1 .8 .1 .7 .1 .5 .2 .5 .3 .4 .3 .4 .5 .1 .5 -.1 .7 -.3 .5 -.2 .3 -.5 .3 -.5 .2 -.8 .1 -.7 .1 -.8-.1 -.6-.1 -.6-.1 -.8-.1 -.7 0 -.7 .2 -.6 .2 -.5 .2 -.5 .3 -.5 .2 -.5 .2 -.5 .2 -.5 .2 -.7 .2z" fill="none" stroke="#1b1b1b" stroke-width="0.5"/><path d="M299.9,308.3l-.5 0 -.8-.2 -.5-.2 -.3-.3 -.4-.5 -.1-.5 0-.8 .2-.5 .4-.4 .3-.3 .4-.4 .5-.2 .6-.2 .7-.1 .7 0 .6 .1 .7 .2 .5 .3 .5 .3 .3 .2 .3 .5 0 .8 -.3 .5 -.3 .3 -.5 .4 -.5 .3 -.5 .2 -.5 .3 -.5 .1 -.8 .1z" fill="none" stroke="#1b1b1b" stroke-width="0.5"/>
<filter id="b5" x="-50%" y="-50%" width="200%" height="200%"><feGaussianBlur stdDeviation="0.7"/></filter>
<ellipse cx="300.3" cy="306.2" rx="3.8" ry="3.4" transform="rotate(0.0 300.3 306.2)" fill="#000" opacity="1.00" filter="url(#b5)"/>
<filter id="b6" x="-50%" y="-50%" width="200%" height="200%"><feGaussianBlur stdDeviation="0.6"/></filter>
<ellipse cx="310.5" cy="306.2" rx="2.8" ry="2.3" transform="rotate(0.0 310.5 306.2)" fill="#111" opacity="0.98" filter="url(#b6)"/>
<ellipse cx="300.3" cy="306.2" rx="1.4" ry="1.5" transform="rotate(0.0 300.3 306.2)" fill="#fff" stroke="#fff" stroke-width="0"/>
<ellipse cx="310.7" cy="306.4" rx="1.2" ry="0.9" transform="rotate(0.0 310.7 306.4)" fill="#a9cba3" stroke="#9c9" stroke-width="0"/>
</g>
<line x1="279.5" y1="288.0" x2="334.4" y2="288.0" stroke="#1c2a4c" stroke-width="1.3"/>
<line x1="305.9" y1="288" x2="305.9" y2="330.3" stroke="#1c2a4c" stroke-width="1.1"/>
<rect x="305.9" y="288" width="27.9" height="24.1" fill="none" stroke="#2a4680" stroke-width="1.5"/>
<text x="295.5" y="294.2" font-size="6.2" text-anchor="middle" font-weight="normal" fill="#7a9fc6"  stroke="#7a9fc6" stroke-width="0.08">59%</text>
<text x="322.9" y="294.2" font-size="6.2" text-anchor="middle" font-weight="normal" fill="#7a9fc6"  stroke="#7a9fc6" stroke-width="0.08">41%</text>
<rect x="279.5" y="275.2" width="54.89999999999998" height="55.10000000000002" fill="none" stroke="#000" stroke-width="1.05"/>
<path d="M279.6,275.2 V330.65000000000003 H334.4" fill="none" stroke="#000" stroke-width="1.6"/>
<text x="283.4" y="341.6" font-size="6.4" fill="#222" stroke="#222" stroke-width="0.2">010<tspan font-size="4.5" dy="-2.5">2</tspan></text>
<text x="299.5" y="341.6" font-size="6.4" fill="#222" stroke="#222" stroke-width="0.2">10<tspan font-size="4.5" dy="-2.5">3</tspan></text>
<text x="312.6" y="341.6" font-size="6.4" fill="#222" stroke="#222" stroke-width="0.2">10<tspan font-size="4.5" dy="-2.5">4</tspan></text>
<text x="325.1" y="341.6" font-size="6.4" fill="#222" stroke="#222" stroke-width="0.2">10<tspan font-size="4.5" dy="-2.5">5</tspan></text>
<rect x="340.0" y="275.2" width="54.19999999999999" height="55.10000000000002" fill="#fff"/>
<clipPath id="c8"><rect x="340.0" y="275.2" width="54.19999999999999" height="55.10000000000002"/></clipPath><g clip-path="url(#c8)">
<ellipse cx="361.0" cy="304.2" rx="8" ry="9" transform="rotate(0.0 361.0 304.2)" fill="#888" opacity="0.59" filter="url(#b4)"/>
<filter id="b7" x="-50%" y="-50%" width="200%" height="200%"><feGaussianBlur stdDeviation="1.6"/></filter>
<ellipse cx="374.0" cy="303.2" rx="6" ry="6" transform="rotate(0.0 374.0 303.2)" fill="#aaa" opacity="0.45" filter="url(#b7)"/>
<path d="M367.9 313.8h0M363.9 310.6h0M361.2 299.6h0M358.4 300.8h0M352.1 310.1h0M362.5 307.5h0M356.0 310.7h0M346.0 328.1h0M363.5 321.4h0M377.7 299.8h0M366.0 327.5h0M375.6 309.8h0M357.3 299.5h0M360.2 298.6h0M361.5 309.5h0M356.4 316.3h0M373.0 280.6h0M377.1 305.4h0M366.7 320.8h0M359.2 301.6h0M371.9 298.6h0M368.6 312.9h0M344.4 277.0h0M345.3 312.1h0M363.8 291.6h0M382.1 325.6h0M363.8 316.1h0M367.3 295.6h0M362.8 297.0h0M351.2 295.4h0M364.8 310.3h0M352.4 276.7h0M360.5 326.1h0M360.2 307.6h0M359.9 313.3h0M373.9 322.7h0M356.3 301.0h0M364.3 297.3h0M347.5 311.2h0M366.9 297.1h0M358.9 293.5h0M356.2 307.5h0M364.1 287.3h0M356.6 291.9h0M363.8 301.5h0M366.7 315.1h0M348.2 314.5h0M361.7 326.5h0M362.1 303.5h0M366.6 300.7h0M364.4 296.0h0M364.7 295.7h0M362.9 316.7h0M350.4 321.0h0M361.1 322.6h0M362.0 309.0h0M358.0 318.9h0M369.9 306.2h0M348.0 317.8h0M347.1 292.3h0M359.3 311.0h0M364.4 316.7h0M373.7 299.9h0M365.9 298.4h0M355.9 292.9h0M346.7 317.8h0M360.2 302.7h0M357.8 296.7h0M361.9 302.2h0M368.5 309.2h0M351.5 314.1h0M362.2 308.2h0M351.3 311.1h0M353.3 283.1h0M359.8 295.7h0M376.2 318.6h0M342.9 295.4h0M353.7 314.0h0M354.0 285.7h0M359.8 293.5h0M367.0 288.8h0M359.6 280.6h0M346.0 299.1h0M368.9 318.0h0M364.2 301.8h0M362.1 316.8h0M354.1 311.0h0M348.4 312.6h0M363.5 313.9h0M365.6 302.2h0M373.4 319.1h0M362.8 294.0h0M374.5 317.9h0M352.6 307.2h0M357.8 306.7h0M354.1 327.1h0M361.7 300.3h0M347.4 291.6h0M349.4 301.2h0M360.0 320.8h0M351.6 298.0h0M368.0 304.8h0M357.1 301.9h0M349.9 308.5h0M364.4 301.5h0M365.3 318.0h0M367.1 298.5h0M374.6 293.1h0M347.6 306.2h0M372.8 323.6h0M357.1 287.7h0M350.8 325.2h0M378.5 317.0h0M359.6 313.1h0M367.6 285.2h0M362.5 310.3h0M360.1 309.9h0M362.4 302.3h0M355.6 305.6h0M365.5 309.1h0M370.2 292.2h0M357.9 314.1h0M344.8 289.8h0M348.6 315.9h0M364.6 314.1h0M341.8 296.5h0M369.3 320.6h0M376.9 322.1h0M352.7 306.8h0M352.5 308.4h0M352.9 292.5h0M371.0 303.6h0" stroke="#222" stroke-width="0.72" stroke-linecap="round" opacity="0.5"/>
<path d="M373.6,311.4l-.7 0 -.8 0 -.7-.1 -.5-.1 -.5-.1 -.5-.3 -.5-.3 -.5-.4 -.3-.3 -.4-.5 -.3-.4 -.3-.5 -.2-.5 -.2-.6 -.1-.5 -.2-.7 0-.5 -.1-.8 0-.7 .1-.5 .1-.8 .1-.7 .2-.5 .1-.5 .2-.7 .3-.6 .2-.5 .3-.4 .2-.4 .3-.4 .4-.5 .3-.3 .5-.5 .3-.2 .5-.3 .5-.3 .5-.2 .6-.2 .6-.2 .8 0 .7 0 .8 .1 .5 .2 .5 .2 .5 .2 .5 .3 .5 .4 .3 .3 .4 .4 .3 .3 .3 .5 .4 .5 .2 .5 .2 .5 .2 .5 .2 .5 .2 .8 0 .5 .1 .7 0 .8 -.1 .7 0 .5 -.2 .8 -.2 .5 -.2 .5 -.2 .5 -.2 .5 -.4 .5 -.3 .5 -.3 .3 -.4 .4 -.3 .3 -.5 .4 -.5 .3 -.5 .3 -.5 .2 -.5 .2 -.5 .1 -.8 .2 -.5 .1z" fill="none" stroke="#5f5f5f" stroke-width="0.45"/><path d="M372.4,310.1l-.8 0 -.5-.1 -.5-.2 -.5-.2 -.5-.3 -.4-.5 -.3-.3 -.3-.4 -.2-.5 -.3-.8 -.1-.5 -.1-.7 0-.8 .1-.7 .1-.8 .1-.5 .2-.5 .2-.7 .3-.5 .2-.5 .3-.5 .2-.4 .3-.4 .4-.5 .3-.3 .5-.4 .5-.3 .4-.2 .6-.2 .5-.2 .8-.1 .7 .1 .7 .1 .6 .2 .5 .3 .4 .3 .3 .3 .5 .4 .3 .4 .3 .4 .3 .5 .2 .5 .2 .5 .2 .7 0 .5 .1 .8 0 .7 -.1 .5 -.2 .8 -.1 .5 -.2 .5 -.3 .5 -.3 .5 -.4 .5 -.2 .2 -.5 .5 -.4 .3 -.4 .2 -.5 .3 -.5 .2 -.5 .3 -.7 .2 -.5 .1 -.8 .2z" fill="none" stroke="#5f5f5f" stroke-width="0.45"/><path d="M372.4,308.9l-.8 0 -.5-.1 -.5-.2 -.5-.3 -.4-.5 -.3-.4 -.3-.6 -.1-.5 -.1-.7 0-.8 .1-.7 .1-.5 .3-.7 .2-.6 .3-.4 .2-.4 .3-.4 .4-.5 .3-.4 .4-.4 .4-.3 .5-.2 .5-.3 .7-.1 .8 0 .7 .2 .5 .2 .4 .3 .4 .3 .4 .4 .3 .5 .2 .5 .2 .5 .1 .5 .1 .8 0 .7 -.1 .5 -.2 .7 -.3 .6 -.2 .4 -.3 .3 -.4 .5 -.3 .3 -.5 .4 -.5 .3 -.4 .3 -.5 .2 -.6 .3 -.5 .2 -.5 .1z" fill="none" stroke="#5f5f5f" stroke-width="0.45"/><path d="M371.9,307.8l-.5 0 -.6-.2 -.4-.4 -.3-.4 -.2-.5 -.1-.7 0-.8 .1-.5 .2-.7 .3-.5 .2-.4 .3-.4 .4-.5 .3-.3 .5-.4 .5-.3 .5-.2 .5-.1 .8 0 .5 .2 .5 .4 .2 .2 .3 .5 .2 .5 .2 .8 -.1 .7 -.1 .5 -.2 .6 -.3 .5 -.3 .4 -.4 .4 -.4 .4 -.4 .3 -.5 .3 -.5 .3 -.5 .2 -.6 .1z" fill="none" stroke="#5f5f5f" stroke-width="0.45"/>
<path d="M359.1,316.6l-.7 0 -.6 0 -.7-.2 -.5-.3 -.4-.3 -.3-.2 -.5-.5 -.3-.4 -.2-.4 -.3-.5 -.2-.5 -.3-.6 -.2-.6 -.1-.5 -.2-.8 -.1-.5 -.1-.7 0-.8 -.1-.5 0-.7 0-.8 0-.7 .1-.6 0-.7 .1-.7 .1-.7 .1-.6 .2-.6 .1-.6 .2-.5 .2-.5 .2-.7 .3-.5 .2-.5 .3-.5 .2-.4 .3-.4 .4-.5 .3-.4 .4-.4 .4-.3 .5-.4 .4-.3 .5-.2 .6-.2 .5-.2 .7-.1 .8 0 .7 .2 .5 .1 .5 .2 .5 .3 .5 .2 .5 .3 .5 .4 .4 .3 .4 .3 .5 .4 .2 .3 .5 .5 .3 .3 .2 .4 .4 .5 .2 .5 .2 .5 .2 .8 .1 .5 0 .7 0 .8 -.1 .5 -.2 .7 -.2 .5 -.2 .5 -.2 .5 -.3 .5 -.3 .5 -.3 .5 -.3 .5 -.2 .5 -.3 .5 -.2 .4 -.3 .5 -.2 .5 -.3 .5 -.2 .5 -.3 .5 -.2 .4 -.3 .5 -.3 .5 -.4 .5 -.3 .3 -.3 .4 -.4 .4 -.4 .4 -.4 .3 -.5 .3 -.5 .3 -.5 .3 -.5 .2 -.5 .1z" fill="none" stroke="#101010" stroke-width="0.5"/><path d="M359.6,314.9l-.7 .1 -.8 0 -.6-.2 -.5-.2 -.4-.3 -.4-.5 -.3-.3 -.3-.4 -.2-.5 -.3-.6 -.2-.7 -.1-.5 -.2-.7 -.1-.5 0-.8 -.1-.7 0-.8 0-.7 0-.8 .1-.7 .1-.8 .1-.5 .2-.7 .1-.5 .1-.5 .3-.7 .2-.6 .2-.5 .3-.5 .3-.5 .2-.4 .3-.3 .4-.5 .3-.3 .5-.5 .4-.2 .4-.3 .6-.2 .6-.2 .7-.1 .4 0 .7 .1 .7 .2 .5 .2 .5 .2 .5 .3 .5 .3 .3 .2 .5 .4 .4 .4 .3 .4 .3 .3 .3 .5 .3 .5 .2 .5 .2 .8 0 .5 0 .7 -.1 .5 -.2 .8 -.1 .5 -.2 .5 -.3 .5 -.3 .5 -.2 .5 -.3 .5 -.3 .5 -.2 .5 -.3 .5 -.2 .5 -.3 .5 -.2 .5 -.3 .5 -.3 .5 -.2 .4 -.3 .4 -.3 .4 -.4 .5 -.3 .4 -.4 .4 -.3 .3 -.5 .4 -.5 .3 -.5 .2z" fill="none" stroke="#101010" stroke-width="0.5"/><path d="M359.6,313.6l-.7 .1 -.8 0 -.5-.2 -.5-.4 -.3-.3 -.4-.5 -.3-.5 -.2-.5 -.2-.5 -.1-.5 -.2-.7 0-.5 -.1-.8 0-.7 0-.8 0-.7 .1-.7 0-.6 .2-.7 .1-.5 .2-.7 .2-.6 .1-.5 .3-.5 .2-.5 .3-.5 .3-.5 .3-.4 .4-.3 .4-.4 .5-.4 .4-.2 .6-.3 .5-.1 .7-.1 .8 .1 .5 .1 .7 .3 .5 .2 .4 .3 .4 .2 .5 .5 .3 .3 .3 .5 .3 .5 .3 .5 .1 .5 .1 .7 0 .8 -.2 .6 -.2 .6 -.2 .5 -.2 .5 -.2 .5 -.3 .5 -.2 .5 -.3 .5 -.2 .5 -.3 .5 -.2 .5 -.3 .5 -.2 .5 -.3 .5 -.3 .5 -.3 .5 -.3 .3 -.3 .5 -.4 .4 -.4 .3 -.4 .3 -.5 .3 -.5 .2z" fill="none" stroke="#101010" stroke-width="0.5"/><path d="M359.6,312.4l-.7 .1 -.8-.2 -.4-.2 -.3-.3 -.4-.5 -.3-.5 -.2-.5 -.1-.5 -.2-.7 -.1-.6 0-.7 0-.7 0-.8 0-.5 .1-.7 .2-.8 .1-.5 .1-.5 .3-.6 .2-.6 .3-.5 .2-.5 .3-.3 .3-.5 .4-.4 .5-.3 .4-.3 .5-.2 .6-.2 .8 0 .7 .1 .5 .1 .5 .3 .5 .3 .5 .4 .3 .3 .3 .4 .2 .5 .2 .6 .1 .7 -.1 .7 -.1 .5 -.1 .6 -.3 .6 -.2 .6 -.3 .5 -.2 .5 -.2 .5 -.3 .5 -.2 .5 -.2 .5 -.3 .5 -.3 .5 -.3 .5 -.2 .4 -.3 .3 -.4 .5 -.3 .3 -.5 .4 -.5 .3z" fill="none" stroke="#101010" stroke-width="0.5"/><path d="M359.6,311.1l-.7 .1 -.5-.2 -.5-.4 -.3-.3 -.2-.5 -.3-.6 -.1-.6 -.1-.8 0-.6 0-.4 0-.7 .1-.8 .1-.5 .2-.7 .2-.5 .2-.5 .2-.5 .3-.5 .3-.5 .4-.4 .4-.4 .3-.2 .5-.3 .8-.2 .7 0 .7 .2 .5 .3 .3 .2 .5 .5 .2 .5 .2 .5 0 .8 0 .7 -.2 .5 -.2 .6 -.2 .7 -.2 .5 -.2 .5 -.3 .5 -.2 .5 -.2 .5 -.3 .5 -.3 .5 -.3 .5 -.3 .4 -.3 .3 -.4 .4 -.5 .3z" fill="none" stroke="#101010" stroke-width="0.5"/><path d="M359.9,309.4l-.8 .2 -.5-.3 -.4-.5 -.2-.5 -.1-.7 -.1-.5 .1-.8 0-.5 .2-.7 .1-.5 .2-.5 .2-.6 .3-.4 .4-.5 .3-.4 .5-.3 .5-.2 .8 0 .5 .2 .5 .4 .2 .5 .1 .5 0 .8 -.1 .5 -.2 .7 -.2 .5 -.2 .5 -.2 .5 -.2 .5 -.3 .5 -.3 .5 -.4 .5 -.2 .3 -.5 .3z" fill="none" stroke="#101010" stroke-width="0.5"/>
<ellipse cx="360.2" cy="304.7" rx="3.0" ry="5.2" transform="rotate(5.7 360.2 304.7)" fill="#000" opacity="0.72" filter="url(#b2)"/>
<ellipse cx="360.3" cy="303.2" rx="0.9" ry="1.6" transform="rotate(0.0 360.3 303.2)" fill="#fff" stroke="#fff" stroke-width="0"/>
</g>
<line x1="340.0" y1="288.0" x2="394.2" y2="288.0" stroke="#1c2a4c" stroke-width="1.3"/>
<line x1="366.1" y1="288" x2="366.1" y2="330.3" stroke="#1c2a4c" stroke-width="1.1"/>
<rect x="366.1" y="288" width="27.499999999999964" height="24.1" fill="none" stroke="#2a4680" stroke-width="1.5"/>
<text x="356.0" y="294.2" font-size="6.2" text-anchor="middle" font-weight="normal" fill="#7a9fc6"  stroke="#7a9fc6" stroke-width="0.08">79%</text>
<text x="382.7" y="294.2" font-size="6.2" text-anchor="middle" font-weight="normal" fill="#7a9fc6"  stroke="#7a9fc6" stroke-width="0.08">21%</text>
<rect x="340.0" y="275.2" width="54.19999999999999" height="55.10000000000002" fill="none" stroke="#000" stroke-width="1.05"/>
<path d="M340.1,275.2 V330.65000000000003 H394.2" fill="none" stroke="#000" stroke-width="1.6"/>
<text x="343.9" y="341.6" font-size="6.4" fill="#222" stroke="#222" stroke-width="0.2">010<tspan font-size="4.5" dy="-2.5">2</tspan></text>
<text x="360.0" y="341.6" font-size="6.4" fill="#222" stroke="#222" stroke-width="0.2">10<tspan font-size="4.5" dy="-2.5">3</tspan></text>
<text x="373.1" y="341.6" font-size="6.4" fill="#222" stroke="#222" stroke-width="0.2">10<tspan font-size="4.5" dy="-2.5">4</tspan></text>
<text x="385.6" y="341.6" font-size="6.4" fill="#222" stroke="#222" stroke-width="0.2">10<tspan font-size="4.5" dy="-2.5">5</tspan></text>
<rect x="400.2" y="275.2" width="54.19999999999999" height="55.10000000000002" fill="#fff"/>
<clipPath id="c9"><rect x="400.2" y="275.2" width="54.19999999999999" height="55.10000000000002"/></clipPath><g clip-path="url(#c9)">
<ellipse cx="418.2" cy="303.2" rx="8" ry="10" transform="rotate(0.0 418.2 303.2)" fill="#888" opacity="0.59" filter="url(#b4)"/>
<ellipse cx="433.2" cy="301.2" rx="6" ry="6" transform="rotate(0.0 433.2 301.2)" fill="#aaa" opacity="0.39" filter="url(#b7)"/>
<path d="M416.7 318.0h0M402.8 307.7h0M430.4 298.1h0M428.3 307.3h0M427.8 308.4h0M425.2 279.7h0M418.6 310.4h0M418.7 312.2h0M417.3 308.3h0M418.7 316.8h0M422.3 327.9h0M405.9 300.1h0M410.4 302.3h0M415.5 320.3h0M412.5 309.4h0M418.5 294.2h0M417.6 309.7h0M421.5 310.5h0M415.9 310.5h0M426.6 301.3h0M408.2 296.5h0M416.4 319.7h0M403.7 292.5h0M419.0 314.7h0M434.1 312.7h0M428.5 302.8h0M432.5 301.2h0M421.1 312.9h0M413.1 311.2h0M420.5 306.1h0M407.5 299.6h0M404.8 324.0h0M420.0 305.4h0M424.4 293.1h0M416.0 294.6h0M416.3 321.1h0M415.9 306.4h0M415.0 323.6h0M429.2 320.8h0M430.6 302.6h0M424.5 315.0h0M412.3 307.1h0M436.5 304.5h0M410.0 325.9h0M414.1 309.3h0M415.3 299.1h0M412.4 278.3h0M404.3 310.3h0M419.5 314.7h0M416.3 312.5h0M429.1 301.8h0M421.0 321.2h0M411.3 305.7h0M415.7 293.1h0M421.0 302.1h0M415.0 306.4h0M423.3 325.6h0M431.7 323.6h0M407.3 296.7h0M421.8 306.0h0M406.4 308.1h0M422.3 297.8h0M425.1 287.4h0M421.2 300.6h0M409.1 321.6h0M414.1 289.0h0M410.1 292.5h0M409.2 304.2h0M403.8 291.0h0M409.9 291.2h0M423.5 292.8h0M409.8 299.1h0M413.0 300.0h0M418.1 305.2h0M413.1 294.4h0M419.3 310.9h0M411.8 301.7h0M405.9 312.6h0M419.5 324.2h0M421.7 289.1h0M424.6 322.0h0M412.8 313.0h0M411.7 296.4h0M418.6 311.5h0M415.4 300.6h0M410.0 309.2h0M414.7 297.7h0M423.3 315.1h0M410.4 309.9h0M413.9 320.4h0M406.9 314.1h0M405.2 279.3h0M401.2 314.9h0M433.4 297.3h0M427.6 299.5h0M421.2 318.4h0M414.3 319.4h0M421.0 309.8h0M419.3 309.9h0M420.6 305.4h0M422.0 310.8h0M413.9 303.1h0M420.7 312.0h0M417.8 314.5h0M410.2 297.9h0M430.8 309.2h0M426.8 300.7h0M412.8 314.8h0M411.2 287.2h0M413.5 304.7h0M404.7 305.2h0M416.4 298.3h0M415.4 305.3h0M424.2 316.3h0M418.3 310.2h0M415.0 305.4h0M418.9 285.6h0M426.0 308.1h0M405.9 315.4h0M405.4 309.1h0M417.1 284.4h0M416.4 297.7h0M416.6 318.1h0M411.7 309.0h0M407.8 310.6h0M424.3 314.2h0M414.5 290.6h0M411.7 312.8h0M415.4 317.6h0M410.4 306.7h0M414.1 288.5h0M414.8 296.6h0M427.1 289.0h0M418.8 315.0h0M420.1 288.9h0M417.9 319.8h0M431.3 312.7h0M430.2 287.7h0M412.8 319.3h0M410.3 300.8h0M402.4 305.5h0M424.4 296.3h0M401.5 299.1h0M413.7 312.2h0M420.8 310.9h0M404.5 329.5h0M417.9 299.6h0M425.3 284.6h0M410.7 306.3h0M423.5 303.3h0M405.8 291.4h0M412.6 301.3h0M409.8 304.8h0M413.6 312.1h0M414.2 288.8h0M404.8 316.9h0M419.2 312.6h0M416.2 315.2h0M416.5 310.0h0M405.2 314.1h0M423.5 301.8h0M409.0 297.7h0M427.0 297.6h0M420.2 286.7h0M414.1 285.7h0M424.6 304.1h0M411.4 301.7h0M407.9 305.5h0M412.5 289.9h0M414.0 307.0h0M425.6 309.8h0M415.5 310.3h0M412.8 309.1h0M419.5 291.3h0M407.8 306.1h0M416.7 298.7h0M417.0 299.0h0M405.1 299.4h0M405.0 302.8h0M421.0 314.1h0M419.2 295.7h0M426.8 318.6h0M414.6 298.1h0M420.4 300.2h0M420.4 306.3h0M416.9 290.6h0M410.6 307.2h0M411.5 321.4h0M420.5 291.2h0M412.8 304.3h0M423.9 321.8h0M422.5 282.7h0M412.1 299.1h0M401.3 308.3h0M417.5 309.2h0M409.8 300.1h0M416.0 282.7h0M404.8 293.0h0M414.0 326.8h0" stroke="#222" stroke-width="0.72" stroke-linecap="round" opacity="0.55"/>
<path d="M433.1,308.9l-.8 .1 -.7 0 -.8-.1 -.5-.2 -.5-.2 -.5-.3 -.4-.4 -.3-.3 -.3-.4 -.4-.5 -.2-.5 -.3-.5 -.1-.5 -.2-.7 -.1-.6 -.1-.7 -.1-.5 0-.8 0-.7 0-.8 0-.5 .1-.7 .2-.7 .1-.6 .2-.5 .2-.5 .2-.6 .3-.4 .2-.5 .4-.5 .4-.4 .3-.3 .4-.4 .5-.4 .4-.2 .5-.3 .6-.2 .5-.1 .8-.2 .7 0 .8 .1 .5 .2 .7 .2 .5 .3 .4 .2 .4 .3 .5 .4 .3 .3 .4 .5 .3 .4 .2 .4 .3 .5 .2 .5 .3 .6 .2 .6 .1 .5 .1 .8 0 .7 0 .8 0 .7 -.1 .8 -.1 .5 -.2 .6 -.3 .6 -.2 .5 -.3 .5 -.2 .4 -.3 .4 -.4 .5 -.3 .3 -.5 .4 -.3 .3 -.5 .3 -.5 .3 -.5 .3 -.5 .3 -.5 .2 -.5 .2 -.5 .1z" fill="none" stroke="#5f5f5f" stroke-width="0.45"/><path d="M432.8,307.6l-.7 .2 -.8 0 -.7-.2 -.5-.3 -.3-.2 -.5-.4 -.3-.4 -.3-.5 -.2-.5 -.2-.5 -.2-.7 -.1-.5 -.1-.8 0-.7 .1-.8 0-.7 .1-.5 .2-.8 .1-.5 .2-.5 .2-.7 .3-.5 .2-.5 .3-.3 .3-.5 .4-.4 .4-.3 .4-.3 .5-.3 .5-.2 .7-.2 .8 0 .7 .1 .6 .1 .6 .3 .4 .2 .4 .3 .5 .5 .3 .2 .3 .5 .4 .5 .2 .5 .2 .5 .2 .5 .1 .8 .1 .5 0 .7 0 .5 -.1 .8 -.2 .6 -.2 .6 -.2 .5 -.3 .5 -.3 .5 -.2 .3 -.4 .5 -.4 .4 -.4 .3 -.3 .3 -.5 .4 -.5 .3 -.5 .3 -.5 .2 -.5 .2z" fill="none" stroke="#5f5f5f" stroke-width="0.45"/><path d="M432.1,306.6l-.8 0 -.5-.2 -.5-.2 -.3-.4 -.4-.5 -.3-.4 -.2-.6 -.1-.5 -.1-.7 0-.8 .1-.7 .1-.5 .2-.8 .1-.5 .2-.5 .2-.6 .3-.5 .2-.4 .3-.5 .5-.5 .3-.2 .4-.3 .5-.3 .7-.2 .6 0 .5 0 .7 .3 .4 .2 .4 .3 .5 .5 .2 .3 .3 .4 .2 .5 .3 .8 0 .5 .1 .7 -.1 .8 -.1 .5 -.2 .6 -.2 .5 -.3 .5 -.2 .4 -.4 .5 -.4 .4 -.3 .3 -.4 .4 -.4 .4 -.4 .2 -.5 .3 -.5 .3 -.6 .2z" fill="none" stroke="#5f5f5f" stroke-width="0.45"/><path d="M432.6,305.4l-.8 .1 -.7-.1 -.5-.3 -.3-.3 -.2-.5 -.2-.7 -.1-.5 0-.7 .1-.6 .2-.6 .2-.6 .2-.5 .2-.5 .3-.5 .3-.5 .3-.3 .5-.4 .5-.3 .5-.2 .7 0 .5 .2 .5 .3 .4 .4 .3 .5 .2 .5 .1 .6 0 .7 0 .5 -.2 .7 -.2 .5 -.3 .5 -.3 .4 -.2 .4 -.4 .5 -.4 .3 -.4 .4 -.3 .3 -.5 .3z" fill="none" stroke="#5f5f5f" stroke-width="0.45"/>
<path d="M421.3,322.8l-.5 0 -.5-.4 -.3-.3 -.3-.5 -.3-.5 -.2-.5 -.2-.5 -.3-.5 -.3-.5 -.3-.5 -.3-.3 -.4-.5 -.3-.2 -.5-.4 -.4-.4 -.4-.4 -.2-.3 -.4-.5 -.3-.5 -.3-.5 -.3-.5 -.2-.4 -.3-.4 -.2-.5 -.4-.5 -.3-.5 -.3-.5 -.3-.3 -.3-.4 -.3-.5 -.3-.5 -.3-.5 -.3-.5 -.2-.5 -.3-.5 -.2-.5 -.2-.5 -.2-.5 -.2-.5 -.2-.5 -.2-.6 -.3-.6 -.2-.5 -.3-.5 -.2-.5 -.3-.4 -.2-.5 -.3-.4 -.2-.6 -.3-.6 -.1-.6 -.1-.7 0-.3 .1-.7 .1-.6 .3-.6 .2-.4 .3-.4 .5-.5 .3-.3 .4-.3 .5-.3 .5-.3 .5-.2 .5-.2 .5-.2 .8-.2 .5-.1 .6-.2 .6-.1 .8-.1 .5-.1 .7-.1 .8-.1 .5 0 .7-.1 .8-.1 .7 0 .8 0 .7 .1 .6 .1 .7 .2 .5 .2 .5 .3 .5 .2 .5 .3 .4 .3 .3 .3 .5 .4 .4 .3 .4 .4 .3 .4 .4 .5 .3 .4 .2 .6 .1 .5 .1 .7 -.1 .8 -.2 .5 -.2 .5 -.3 .5 -.4 .5 -.2 .3 -.3 .4 -.4 .5 -.3 .4 -.3 .4 -.2 .5 -.3 .5 -.2 .7 -.1 .5 -.1 .8 -.1 .5 -.1 .7 0 .8 -.1 .7 0 .8 0 .5 -.1 .7 0 .8 0 .7 0 .8 .1 .7 0 .8 -.1 .7 0 .8 0 .7 -.1 .8 -.1 .7 0 .5 -.2 .8 -.1 .5 -.2 .6 -.2 .6 -.2 .5 -.3 .5 -.3 .3 -.5 .2z" fill="none" stroke="#141414" stroke-width="0.5"/><path d="M421.1,320.4l-.5-.3 -.3-.3 -.3-.5 -.2-.5 -.3-.5 -.2-.5 -.2-.5 -.3-.5 -.3-.5 -.4-.4 -.4-.3 -.4-.4 -.4-.4 -.3-.3 -.4-.4 -.4-.5 -.2-.4 -.3-.4 -.2-.5 -.3-.5 -.3-.5 -.3-.5 -.2-.5 -.3-.5 -.4-.5 -.2-.4 -.3-.4 -.2-.4 -.3-.5 -.3-.5 -.3-.5 -.2-.5 -.2-.5 -.3-.5 -.2-.5 -.2-.5 -.3-.5 -.3-.5 -.2-.5 -.3-.5 -.3-.5 -.3-.5 -.2-.5 -.2-.5 -.2-.5 -.1-.8 0-.7 .1-.5 .3-.7 .2-.4 .4-.4 .4-.4 .4-.4 .4-.2 .4-.3 .5-.2 .7-.3 .6-.2 .5-.1 .7-.2 .5-.1 .8-.1 .5-.1 .7-.1 .7-.1 .6 0 .7-.1 .8 0 .7 0 .7 .1 .6 .1 .5 .2 .5 .2 .6 .3 .4 .2 .5 .4 .5 .4 .3 .2 .4 .5 .3 .4 .2 .4 .3 .5 .2 .7 0 .8 -.2 .7 -.2 .5 -.2 .5 -.3 .5 -.3 .5 -.3 .4 -.2 .5 -.3 .4 -.2 .5 -.3 .7 -.1 .5 -.1 .5 -.1 .8 -.1 .7 -.1 .5 0 .8 -.1 .7 0 .8 0 .7 0 .8 0 .7 0 .8 0 .7 0 .8 0 .7 0 .8 0 .7 0 .8 -.1 .7 -.1 .5 -.2 .8 -.1 .5 -.2 .5 -.4 .5 -.3 .2z" fill="none" stroke="#141414" stroke-width="0.5"/><path d="M421.1,317.5l-.5-.3 -.3-.4 -.2-.5 -.3-.5 -.2-.5 -.3-.5 -.4-.5 -.3-.3 -.5-.4 -.3-.3 -.5-.3 -.3-.4 -.4-.5 -.3-.4 -.2-.5 -.3-.5 -.2-.6 -.2-.5 -.2-.5 -.2-.5 -.2-.8 -.1-.5 -.1-.7 -.1-.5 -.2-.6 -.2-.5 -.4-.4 -.4-.3 -.5-.4 -.3-.3 -.4-.4 -.4-.4 -.4-.4 -.3-.3 -.3-.5 -.4-.5 -.2-.5 -.3-.5 -.1-.5 -.1-.5 0-.8 .1-.5 .2-.5 .3-.5 .4-.4 .3-.3 .4-.3 .5-.3 .5-.2 .5-.2 .7-.3 .6-.1 .5-.1 .7-.2 .6-.1 .7-.1 .7-.1 .8 0 .5 0 .5 0 .7 0 .8 .2 .5 .1 .5 .2 .5 .2 .5 .3 .5 .4 .3 .3 .4 .5 .3 .4 .2 .5 .2 .6 0 .8 -.1 .7 -.2 .5 -.2 .5 -.2 .5 -.3 .5 -.3 .5 -.2 .5 -.3 .5 -.2 .5 -.2 .8 -.1 .5 -.1 .7 0 .5 -.1 .8 -.1 .7 0 .8 0 .7 -.1 .8 0 .5 0 .7 0 .8 0 .5 0 .7 .1 .8 0 .7 -.1 .8 0 .5 -.1 .7 -.2 .5 -.2 .5z" fill="none" stroke="#141414" stroke-width="0.5"/><path d="M420.1,311.6l-.8 .1 -.5-.1 -.5-.3 -.5-.4 -.2-.3 -.4-.5 -.2-.5 -.2-.6 -.1-.7 -.1-.7 0-.8 .1-.7 0-.8 0-.7 -.1-.7 -.3-.5 -.2-.3 -.5-.4 -.5-.3 -.5-.2 -.5-.1 -.7-.3 -.6-.2 -.4-.3 -.3-.2 -.5-.5 -.3-.5 -.2-.5 -.2-.5 0-.8 .2-.5 .3-.5 .4-.5 .3-.2 .5-.3 .5-.3 .5-.2 .5-.2 .7-.2 .5-.1 .8-.2 .5-.1 .7-.1 .8 0 .7 0 .8 0 .7 .2 .5 .1 .5 .2 .5 .3 .5 .4 .3 .3 .3 .4 .3 .5 .2 .5 .1 .8 -.1 .7 -.2 .5 -.2 .5 -.2 .5 -.3 .5 -.3 .5 -.2 .5 -.2 .5 -.2 .6 -.2 .7 -.1 .5 -.1 .7 -.1 .8 0 .5 -.1 .7 -.1 .8 -.1 .7 0 .5 -.1 .8 -.1 .5 -.3 .7 -.2 .3z" fill="none" stroke="#141414" stroke-width="0.5"/><path d="M419.1,306.2l-.2-.6 -.1-.5 -.2-.8 -.2-.5 -.2-.5 -.4-.4 -.2-.3 -.5-.5 -.4-.3 -.4-.3 -.5-.2 -.5-.3 -.5-.2 -.6-.2 -.5-.3 -.4-.2 -.4-.5 -.3-.5 -.1-.5 .2-.5 .2-.5 .4-.4 .5-.4 .5-.2 .5-.2 .5-.2 .5-.2 .8-.1 .5-.1 .7-.1 .8 0 .7 0 .6 .1 .7 .3 .5 .2 .3 .3 .4 .4 .3 .3 .2 .6 .1 .7 0 .7 -.2 .5 -.2 .5 -.3 .5 -.2 .5 -.3 .5 -.3 .5 -.3 .5 -.3 .4 -.2 .5 -.3 .5 -.2 .6 -.2 .5 -.2 .5z" fill="none" stroke="#141414" stroke-width="0.5"/><path d="M419.6,301.4l-.8 0 -.5-.1 -.5-.3 -.5-.3 -.5-.3 -.5-.3 -.4-.3 -.4-.2 -.4-.5 -.3-.5 0-.3 .3-.5 .5-.4 .5-.3 .5-.2 .5-.1 .7-.1 .8-.1 .7 .1 .5 .1 .5 .3 .5 .4 .3 .4 .2 .7 -.1 .7 -.1 .5 -.3 .5 -.4 .5 -.3 .3 -.5 .3z" fill="none" stroke="#141414" stroke-width="0.5"/>
<filter id="b8" x="-50%" y="-50%" width="200%" height="200%"><feGaussianBlur stdDeviation="1.0"/></filter>
<ellipse cx="418.7" cy="301.2" rx="4" ry="4.5" transform="rotate(0.0 418.7 301.2)" fill="#222" opacity="0.52" filter="url(#b8)"/>
<filter id="b9" x="-50%" y="-50%" width="200%" height="200%"><feGaussianBlur stdDeviation="0.5"/></filter>
<ellipse cx="420.0" cy="300.2" rx="1.2" ry="4.5" transform="rotate(0.0 420.0 300.2)" fill="#000" opacity="1.00" filter="url(#b9)"/>
<path d="M421.8 322.0h0M422.2 322.9h0M420.2 320.8h0M420.8 324.1h0M416.8 322.7h0M423.0 320.3h0M421.7 322.0h0M419.7 320.8h0M420.4 316.0h0M421.5 320.6h0M419.7 319.3h0M415.6 320.0h0M422.9 323.3h0M424.6 322.6h0M422.5 320.5h0M416.2 324.8h0M418.5 317.5h0M419.1 329.1h0M421.1 323.7h0M422.2 315.8h0M422.0 325.5h0M420.8 317.4h0M423.8 316.7h0M420.2 323.7h0M420.6 321.5h0M420.9 317.0h0M417.6 322.7h0M422.7 328.8h0M417.3 321.1h0M419.1 319.7h0M421.4 324.8h0M421.8 318.1h0M422.5 328.1h0M421.5 322.4h0M417.9 319.3h0M421.8 313.8h0M423.1 320.7h0M422.8 329.0h0M422.2 327.3h0M422.0 318.1h0M418.5 317.7h0M419.7 319.4h0M420.8 325.9h0M418.9 321.3h0M418.4 322.5h0" stroke="#222" stroke-width="0.80" stroke-linecap="round" opacity="0.7"/>
</g>
<line x1="400.2" y1="288.0" x2="454.4" y2="288.0" stroke="#1c2a4c" stroke-width="1.3"/>
<line x1="426.9" y1="288" x2="426.9" y2="330.3" stroke="#1c2a4c" stroke-width="1.1"/>
<rect x="426.9" y="288" width="26.9" height="24.1" fill="none" stroke="#2a4680" stroke-width="1.5"/>
<text x="416.2" y="294.2" font-size="6.2" text-anchor="middle" font-weight="normal" fill="#7a9fc6"  stroke="#7a9fc6" stroke-width="0.08">91%</text>
<text x="442.9" y="294.2" font-size="6.2" text-anchor="middle" font-weight="normal" fill="#7a9fc6"  stroke="#7a9fc6" stroke-width="0.08">9%</text>
<rect x="400.2" y="275.2" width="54.19999999999999" height="55.10000000000002" fill="none" stroke="#000" stroke-width="1.05"/>
<path d="M400.3,275.2 V330.65000000000003 H454.4" fill="none" stroke="#000" stroke-width="1.6"/>
<text x="404.1" y="341.6" font-size="6.4" fill="#222" stroke="#222" stroke-width="0.2">010<tspan font-size="4.5" dy="-2.5">2</tspan></text>
<text x="420.2" y="341.6" font-size="6.4" fill="#222" stroke="#222" stroke-width="0.2">10<tspan font-size="4.5" dy="-2.5">3</tspan></text>
<text x="433.3" y="341.6" font-size="6.4" fill="#222" stroke="#222" stroke-width="0.2">10<tspan font-size="4.5" dy="-2.5">4</tspan></text>
<text x="445.8" y="341.6" font-size="6.4" fill="#222" stroke="#222" stroke-width="0.2">10<tspan font-size="4.5" dy="-2.5">5</tspan></text>
<text x="320.0" y="284.6" font-size="6.4" text-anchor="middle" font-weight="bold" fill="#2c4a85"  stroke="#2c4a85" stroke-width="0.22">MkP</text>
<text x="277.2" y="282.5" font-size="6.2" text-anchor="end" fill="#222" stroke="#222" stroke-width="0.2">10<tspan font-size="4.3" dy="-2.4">5</tspan></text>
<text x="277.2" y="294.3" font-size="6.2" text-anchor="end" fill="#222" stroke="#222" stroke-width="0.2">10<tspan font-size="4.3" dy="-2.4">4</tspan></text>
<text x="277.2" y="306.6" font-size="6.2" text-anchor="end" fill="#222" stroke="#222" stroke-width="0.2">10<tspan font-size="4.3" dy="-2.4">3</tspan></text>
<text x="277.2" y="319.2" font-size="6.2" text-anchor="end" fill="#222" stroke="#222" stroke-width="0.2">10<tspan font-size="4.3" dy="-2.4">2</tspan></text>
<text x="277.2" y="324.6" font-size="6.2" text-anchor="end" font-weight="normal" fill="#222"  stroke="#222" stroke-width="0.2">0</text>
<line x1="263.6" y1="346.0" x2="263.6" y2="272.9" stroke="#000" stroke-width="1.3"/>
<path d="M260.40000000000003,274.4 L263.6,266.9 L266.8,274.4 Z" fill="#000"/>
<line x1="263.0" y1="346.0" x2="462.2" y2="346.0" stroke="#000" stroke-width="1.3"/>
<path d="M460.7,343.0 L468.2,346.0 L460.7,349.0 Z" fill="#000"/>
<text x="470.0" y="349.1" font-size="9.6" text-anchor="start" font-weight="normal" fill="#111" textLength="19.0" lengthAdjust="spacingAndGlyphs"  stroke="#111" stroke-width="0.2">CD41</text>
<text transform="translate(257.6 305.8) rotate(-90) scale(0.88 1)" font-size="9.43" text-anchor="middle" fill="#111" stroke="#111" stroke-width="0.2">CD150</text>
<text x="458.4" y="310.6" font-size="8.2" text-anchor="start" font-weight="normal" fill="#111"  stroke="#111" stroke-width="0.2">LK</text>
<text x="458.4" y="322.0" font-size="8.2" text-anchor="start" font-weight="normal" fill="#111"  stroke="#111" stroke-width="0.2">16/32-</text>
<rect x="279.5" y="359.9" width="54.89999999999998" height="54.30000000000001" fill="#fff"/>
<clipPath id="c10"><rect x="279.5" y="359.9" width="54.89999999999998" height="54.30000000000001"/></clipPath><g clip-path="url(#c10)">
<ellipse cx="306.5" cy="396.9" rx="9" ry="12" transform="rotate(0.0 306.5 396.9)" fill="#888" opacity="0.52" filter="url(#b3)"/>
<path d="M307.1 396.1h0M325.0 394.2h0M291.9 386.7h0M313.2 396.4h0M328.5 410.2h0M309.3 403.0h0M311.8 387.6h0M312.2 393.5h0M321.9 403.3h0M299.2 395.6h0M325.4 410.8h0M286.3 395.1h0M308.1 399.1h0M285.4 410.2h0M322.6 408.5h0M320.7 399.3h0M317.3 391.7h0M307.4 403.7h0M300.3 392.3h0M305.2 394.4h0M308.0 390.7h0M289.8 402.9h0M308.4 396.9h0M311.9 390.7h0M299.8 407.7h0M288.9 403.6h0M316.7 386.5h0M284.3 400.2h0M317.7 400.4h0M319.0 406.9h0M301.5 396.8h0M312.9 396.5h0M302.0 397.1h0M305.6 388.5h0M282.8 399.5h0M310.8 398.7h0M315.7 397.2h0M306.8 411.9h0M329.0 389.8h0M313.3 406.1h0M310.1 373.7h0M283.7 381.7h0M303.6 392.7h0M294.4 409.5h0M309.2 411.5h0M317.8 408.7h0M308.4 400.5h0M333.2 411.6h0M320.9 398.9h0M287.5 403.6h0M315.0 409.6h0M294.7 400.7h0M285.3 395.8h0M288.4 398.4h0M291.4 390.3h0M295.6 401.6h0M306.5 398.6h0M297.7 383.7h0M310.2 391.3h0M301.3 391.4h0M297.6 413.2h0M284.2 405.4h0M318.6 394.8h0M308.4 406.7h0M317.8 394.5h0M302.0 393.9h0M323.6 403.0h0M320.7 409.8h0M287.9 403.6h0M292.8 394.4h0M312.0 393.3h0M304.6 407.4h0M309.6 386.9h0M310.6 387.6h0M297.7 394.9h0M301.1 387.8h0M298.1 401.5h0M301.0 404.4h0M310.1 392.8h0M310.5 404.9h0M306.5 398.6h0M296.2 405.2h0M322.9 384.7h0M314.1 394.5h0M288.2 407.1h0M306.3 405.6h0M305.7 394.6h0M314.7 388.2h0M317.5 383.8h0M284.1 394.7h0M294.1 399.7h0M315.4 386.8h0M301.9 395.1h0M308.1 411.3h0M309.1 385.2h0M309.2 413.3h0M288.6 393.6h0M311.7 402.2h0M293.8 394.1h0M301.6 402.9h0M318.7 402.9h0M285.6 383.2h0M304.0 398.1h0M282.1 401.2h0M308.5 401.6h0M316.4 389.1h0M302.2 403.1h0M292.2 403.9h0M308.9 386.6h0M305.3 402.6h0M293.6 390.3h0M308.5 392.5h0M312.0 392.7h0M293.8 404.8h0M295.5 393.5h0M295.8 391.4h0M296.2 410.7h0" stroke="#222" stroke-width="0.72" stroke-linecap="round" opacity="0.45"/>
<path d="M293.6,403.5l-.7 0 -.5 0 -.7-.2 -.6-.3 -.4-.2 -.4-.3 -.4-.4 -.4-.3 -.4-.5 -.2-.3 -.3-.5 -.3-.5 -.2-.5 -.2-.5 -.3-.7 -.1-.5 -.1-.7 -.1-.6 -.1-.7 0-.8 0-.7 0-.8 .1-.7 .1-.8 .1-.5 .1-.7 .2-.5 .1-.5 .2-.7 .3-.6 .2-.5 .2-.5 .3-.5 .3-.4 .2-.4 .3-.4 .4-.5 .3-.4 .3-.4 .5-.4 .4-.3 .3-.3 .5-.3 .5-.3 .5-.2 .5-.2 .8-.2 .5 0 .7 0 .5 0 .7 .2 .6 .3 .4 .2 .4 .3 .4 .4 .4 .3 .4 .5 .2 .3 .3 .5 .3 .5 .2 .5 .2 .5 .3 .7 .1 .5 .1 .7 .1 .6 .1 .7 0 .8 0 .7 0 .8 -.1 .7 -.1 .8 -.1 .5 -.1 .7 -.2 .5 -.1 .5 -.2 .7 -.3 .6 -.2 .5 -.2 .5 -.3 .5 -.3 .4 -.2 .4 -.3 .4 -.4 .5 -.3 .4 -.3 .4 -.5 .4 -.4 .3 -.3 .3 -.5 .3 -.5 .3 -.5 .2 -.5 .2 -.8 .2 -.5 0z" fill="none" stroke="#7b847b" stroke-width="0.45"/><path d="M294.4,400.3l-.8 .1 -.7-.1 -.5-.2 -.5-.2 -.5-.4 -.3-.2 -.4-.5 -.3-.5 -.3-.4 -.2-.6 -.2-.5 -.1-.5 -.2-.8 0-.5 -.1-.7 0-.8 .1-.5 .1-.7 .1-.8 .2-.5 .1-.5 .2-.5 .3-.6 .2-.5 .3-.4 .3-.5 .3-.5 .4-.4 .3-.3 .4-.4 .5-.3 .5-.3 .5-.2 .5-.1 .8-.1 .7 .1 .5 .2 .5 .2 .5 .4 .3 .2 .4 .5 .3 .5 .3 .4 .2 .6 .2 .5 .1 .5 .2 .8 0 .5 .1 .7 0 .8 -.1 .5 -.1 .7 -.1 .8 -.2 .5 -.1 .5 -.2 .5 -.3 .6 -.2 .5 -.3 .4 -.3 .5 -.3 .5 -.4 .4 -.3 .3 -.4 .4 -.5 .3 -.5 .3 -.5 .2 -.5 .1z" fill="none" stroke="#7b847b" stroke-width="0.45"/><path d="M294.6,397.8l-.7 .1 -.7-.1 -.5-.3 -.4-.2 -.4-.5 -.3-.5 -.2-.5 -.2-.5 -.1-.5 -.1-.8 0-.7 .1-.7 .1-.6 .2-.5 .2-.7 .3-.5 .2-.5 .3-.3 .4-.5 .3-.3 .5-.4 .5-.2 .5-.2 .8 0 .5 .1 .5 .3 .5 .4 .2 .4 .3 .4 .2 .5 .2 .8 .1 .5 .1 .7 -.1 .8 0 .5 -.2 .7 -.1 .5 -.2 .5 -.3 .5 -.3 .5 -.3 .5 -.4 .4 -.4 .4 -.4 .2 -.5 .3z" fill="none" stroke="#7b847b" stroke-width="0.45"/>
<path d="M307.9,412l-.8 .2 -.7 0 -.8 0 -.6-.2 -.6-.2 -.5-.2 -.5-.3 -.5-.3 -.3-.2 -.5-.4 -.4-.4 -.3-.3 -.4-.4 -.4-.5 -.2-.4 -.3-.4 -.4-.5 -.3-.5 -.3-.5 -.2-.5 -.3-.4 -.2-.5 -.3-.5 -.2-.6 -.3-.5 -.2-.5 -.2-.5 -.2-.5 -.2-.5 -.2-.5 -.2-.7 -.2-.5 -.1-.5 -.2-.7 -.2-.6 -.1-.5 -.1-.7 -.1-.5 -.2-.8 -.1-.7 0-.5 -.1-.8 -.1-.7 0-.8 .1-.7 0-.8 .1-.5 .2-.7 .2-.5 .2-.5 .2-.5 .3-.5 .3-.5 .3-.5 .3-.5 .3-.3 .3-.5 .4-.4 .4-.3 .4-.4 .5-.4 .3-.2 .4-.3 .5-.2 .5-.3 .6-.2 .7-.3 .5-.1 .5-.1 .7-.2 .6-.1 .7 0 .7-.1 .8 .1 .5 .1 .7 .2 .5 .2 .5 .2 .5 .2 .5 .4 .4 .2 .4 .3 .5 .5 .3 .2 .4 .5 .3 .3 .5 .5 .2 .2 .5 .5 .3 .4 .3 .4 .4 .5 .3 .3 .3 .4 .3 .5 .3 .5 .2 .5 .2 .5 .1 .8 .1 .5 0 .7 -.1 .5 -.1 .8 -.1 .6 -.1 .6 -.1 .8 0 .5 -.1 .7 -.1 .8 0 .7 -.1 .8 0 .5 -.1 .7 -.1 .8 -.1 .5 -.1 .7 -.2 .5 -.1 .7 -.2 .6 -.1 .5 -.2 .5 -.3 .7 -.2 .5 -.3 .5 -.2 .5 -.3 .5 -.2 .4 -.3 .4 -.3 .5 -.4 .5 -.3 .3 -.4 .4 -.3 .4 -.5 .4 -.3 .2 -.5 .3 -.5 .3 -.5 .2 -.7 .2z" fill="none" stroke="#363636" stroke-width="0.45"/><path d="M307.6,408.8l-.7 .2 -.8 0 -.7-.2 -.5-.1 -.5-.2 -.5-.3 -.5-.3 -.4-.4 -.4-.3 -.4-.4 -.3-.4 -.3-.4 -.4-.5 -.3-.4 -.3-.4 -.2-.4 -.3-.5 -.3-.5 -.3-.5 -.3-.5 -.2-.5 -.3-.5 -.2-.5 -.2-.5 -.2-.5 -.2-.5 -.3-.7 -.2-.6 -.1-.5 -.2-.6 -.1-.6 -.1-.5 -.2-.8 -.1-.6 -.1-.6 0-.8 -.1-.7 .1-.8 .1-.7 .1-.5 .2-.7 .2-.6 .3-.5 .2-.4 .3-.4 .3-.4 .4-.5 .3-.3 .5-.4 .4-.3 .5-.3 .4-.2 .6-.3 .6-.2 .5-.1 .7-.2 .5-.1 .8 0 .7-.1 .8 0 .7 .1 .8 .1 .5 .1 .5 .2 .5 .2 .5 .3 .5 .2 .5 .4 .5 .3 .4 .3 .3 .3 .5 .4 .3 .3 .5 .5 .2 .3 .4 .5 .3 .5 .2 .5 .2 .5 .2 .6 0 .6 0 .8 0 .5 -.1 .7 -.2 .8 0 .5 -.1 .7 -.1 .8 -.1 .5 0 .7 -.1 .8 -.1 .7 0 .5 -.1 .8 -.1 .5 -.2 .7 -.1 .5 -.2 .6 -.2 .7 -.2 .5 -.3 .5 -.2 .5 -.3 .5 -.3 .5 -.3 .4 -.2 .3 -.4 .5 -.4 .4 -.4 .4 -.4 .2 -.4 .3 -.5 .3 -.6 .2z" fill="none" stroke="#363636" stroke-width="0.45"/><path d="M307.4,406.3l-.8 .1 -.7 0 -.5-.1 -.6-.3 -.5-.2 -.4-.3 -.5-.4 -.3-.3 -.5-.5 -.2-.3 -.4-.5 -.4-.5 -.2-.4 -.3-.3 -.3-.5 -.3-.5 -.3-.5 -.2-.5 -.3-.5 -.2-.5 -.3-.5 -.2-.5 -.2-.5 -.2-.6 -.2-.7 -.1-.5 -.2-.5 -.1-.7 -.1-.5 -.1-.8 -.1-.7 0-.8 0-.7 .2-.7 .2-.6 .2-.5 .3-.5 .3-.4 .2-.3 .5-.5 .3-.3 .5-.3 .5-.2 .5-.3 .6-.2 .6-.1 .5-.1 .8-.1 .7-.1 .8 0 .7 0 .8 .1 .5 .1 .7 .2 .5 .2 .5 .2 .5 .3 .5 .3 .5 .3 .3 .2 .5 .4 .3 .4 .4 .5 .3 .4 .2 .5 .2 .6 .1 .5 0 .7 0 .8 -.1 .5 -.1 .7 -.1 .5 -.1 .8 -.1 .7 -.1 .5 0 .8 -.1 .7 -.1 .6 -.1 .7 -.1 .7 -.1 .5 -.2 .6 -.2 .7 -.2 .5 -.2 .5 -.3 .5 -.3 .5 -.3 .5 -.2 .3 -.4 .4 -.4 .4 -.5 .3 -.5 .3 -.5 .2z" fill="none" stroke="#363636" stroke-width="0.45"/><path d="M307.4,404.1l-.8 .2 -.7-.1 -.7-.2 -.5-.2 -.4-.3 -.4-.3 -.4-.4 -.4-.4 -.3-.4 -.4-.5 -.3-.4 -.2-.3 -.3-.5 -.4-.5 -.2-.5 -.3-.5 -.3-.5 -.2-.5 -.2-.5 -.3-.5 -.1-.5 -.2-.6 -.2-.7 -.2-.5 -.1-.7 -.1-.5 -.1-.8 0-.7 .2-.8 .1-.5 .2-.5 .4-.5 .3-.4 .3-.3 .4-.3 .5-.3 .5-.3 .5-.2 .8-.2 .5-.1 .7-.1 .8 0 .7 0 .8 0 .7 .2 .5 .1 .7 .2 .6 .2 .5 .3 .4 .2 .3 .3 .5 .5 .3 .2 .3 .5 .3 .5 .1 .5 .1 .8 0 .7 -.1 .6 -.1 .7 -.1 .6 -.2 .6 -.1 .8 0 .5 -.1 .7 -.1 .8 -.1 .5 -.1 .7 -.1 .5 -.2 .8 -.2 .5 -.2 .5 -.2 .5 -.3 .5 -.4 .5 -.2 .3 -.5 .4 -.4 .3 -.4 .2z" fill="none" stroke="#363636" stroke-width="0.45"/><path d="M307.1,401.8l-.7 .2 -.8-.1 -.5-.3 -.5-.3 -.3-.3 -.4-.3 -.4-.4 -.4-.5 -.2-.4 -.3-.4 -.3-.5 -.4-.5 -.2-.5 -.3-.5 -.3-.5 -.2-.5 -.2-.5 -.2-.5 -.2-.5 -.2-.5 -.2-.7 0-.5 0-.8 0-.5 .2-.6 .3-.5 .2-.4 .5-.5 .4-.2 .4-.3 .7-.2 .5-.2 .5-.1 .8-.1 .7-.1 .8 .1 .7 0 .5 .1 .8 .2 .5 .3 .5 .2 .4 .3 .3 .3 .4 .5 .3 .5 .1 .5 .1 .7 -.1 .8 0 .5 -.2 .7 -.2 .5 -.1 .8 -.1 .5 -.1 .7 -.1 .5 -.1 .8 -.1 .5 -.2 .7 -.2 .5 -.2 .5 -.3 .5 -.3 .5 -.3 .3 -.5 .4z" fill="none" stroke="#363636" stroke-width="0.45"/><path d="M306.6,398.8l-.7 .2 -.6-.2 -.4-.3 -.5-.5 -.3-.3 -.3-.4 -.4-.5 -.3-.4 -.3-.4 -.3-.5 -.3-.5 -.3-.5 -.3-.5 -.2-.5 -.1-.5 -.1-.7 .1-.8 .2-.5 .4-.4 .3-.3 .4-.3 .5-.2 .8-.2 .5-.1 .7-.1 .8 0 .7 .1 .5 .1 .5 .2 .5 .3 .5 .4 .3 .4 .2 .6 .1 .5 -.1 .8 -.1 .5 -.2 .5 -.2 .6 -.2 .6 -.2 .5 -.1 .5 -.2 .7 -.2 .6 -.2 .5 -.3 .5 -.3 .4z" fill="none" stroke="#363636" stroke-width="0.45"/>
<ellipse cx="306.5" cy="397.9" rx="3.5" ry="6" transform="rotate(0.0 306.5 397.9)" fill="#222" opacity="0.78" filter="url(#b8)"/>
<ellipse cx="305.3" cy="396.4" rx="1.2" ry="3.0" transform="rotate(0.0 305.3 396.4)" fill="#fff" stroke="#fff" stroke-width="0"/>
<path d="M307.0,391.4 C309.5,393.9 309.5,399.9 307.0,403.9" fill="none" stroke="#000" stroke-width="1.6"/>
</g>
<rect x="300.7" y="392.1" width="33.09999999999999" height="21.499999999999964" fill="none" stroke="#7ea65a" stroke-width="1.2"/>
<rect x="280.1" y="360.5" width="20.599999999999987" height="31.600000000000044" fill="none" stroke="#9b1d50" stroke-width="1.5"/>
<rect x="300.7" y="360.5" width="33.09999999999999" height="31.600000000000044" fill="none" stroke="#9b1d50" stroke-width="1.5"/>
<text x="290.7" y="376.2" font-size="6.2" text-anchor="middle" font-weight="normal" fill="#7a9fc6"  stroke="#7a9fc6" stroke-width="0.08">13%</text>
<text x="325.4" y="376.2" font-size="6.2" text-anchor="middle" font-weight="normal" fill="#7a9fc6"  stroke="#7a9fc6" stroke-width="0.08">26%</text>
<rect x="279.5" y="359.9" width="54.89999999999998" height="54.30000000000001" fill="none" stroke="#000" stroke-width="1.05"/>
<path d="M279.6,359.9 V414.55 H334.4" fill="none" stroke="#000" stroke-width="1.6"/>
<text x="283.4" y="425.8" font-size="6.4" fill="#222" stroke="#222" stroke-width="0.2">010<tspan font-size="4.5" dy="-2.5">2</tspan></text>
<text x="299.5" y="425.8" font-size="6.4" fill="#222" stroke="#222" stroke-width="0.2">10<tspan font-size="4.5" dy="-2.5">3</tspan></text>
<text x="312.6" y="425.8" font-size="6.4" fill="#222" stroke="#222" stroke-width="0.2">10<tspan font-size="4.5" dy="-2.5">4</tspan></text>
<text x="325.1" y="425.8" font-size="6.4" fill="#222" stroke="#222" stroke-width="0.2">10<tspan font-size="4.5" dy="-2.5">5</tspan></text>
<rect x="340.0" y="359.9" width="54.19999999999999" height="54.30000000000001" fill="#fff"/>
<clipPath id="c11"><rect x="340.0" y="359.9" width="54.19999999999999" height="54.30000000000001"/></clipPath><g clip-path="url(#c11)">
<ellipse cx="367.0" cy="394.9" rx="9" ry="11" transform="rotate(0.0 367.0 394.9)" fill="#888" opacity="0.52" filter="url(#b3)"/>
<path d="M366.0 401.9h0M345.7 386.5h0M347.7 407.6h0M369.1 378.0h0M357.3 397.4h0M363.5 387.9h0M361.4 392.1h0M393.1 399.7h0M369.9 413.3h0M380.1 407.2h0M383.7 385.6h0M376.8 398.3h0M357.9 390.2h0M371.9 386.8h0M357.8 384.5h0M350.7 395.4h0M375.5 404.6h0M343.9 403.6h0M380.2 383.2h0M368.4 398.2h0M383.9 376.8h0M381.3 405.8h0M381.0 383.9h0M353.5 387.2h0M375.3 392.8h0M362.8 377.3h0M370.2 412.2h0M375.2 388.7h0M343.3 411.6h0M363.9 386.8h0M373.9 396.3h0M374.7 398.3h0M372.2 403.6h0M361.8 389.6h0M346.6 384.2h0M366.5 392.3h0M384.0 388.9h0M359.7 389.0h0M366.2 390.5h0M354.0 388.8h0M392.4 382.9h0M378.8 374.2h0M354.6 389.7h0M361.2 386.8h0M356.4 390.1h0M359.5 395.6h0M389.9 386.8h0M375.4 378.4h0M388.8 398.2h0M369.1 385.1h0M377.0 384.8h0M355.1 383.0h0M370.1 386.6h0M367.4 376.1h0M371.8 408.1h0M358.8 382.3h0M363.3 387.4h0M341.2 396.8h0M374.3 384.9h0M376.1 402.1h0M365.2 383.6h0M376.8 400.6h0M370.8 389.5h0M388.3 406.9h0M375.2 389.1h0M380.8 382.5h0M379.6 378.4h0M364.7 412.7h0M361.9 412.7h0M355.7 393.8h0M362.9 403.6h0M364.2 400.0h0M377.2 394.6h0M342.0 389.5h0M358.8 388.1h0M362.8 392.2h0M361.1 405.7h0M359.6 397.3h0M392.5 389.6h0M387.9 392.7h0M359.3 396.2h0M385.5 382.1h0M378.8 367.6h0M365.3 392.8h0M350.7 389.6h0M364.5 398.0h0M360.5 391.6h0M388.5 381.6h0M352.9 403.6h0M348.0 393.2h0M362.8 402.1h0M363.6 404.1h0M379.8 402.4h0M367.8 390.6h0M373.5 392.9h0M373.0 403.6h0M359.1 395.1h0M387.8 386.6h0M372.6 392.8h0M387.4 388.6h0M347.8 398.8h0M366.2 399.7h0M353.5 400.4h0M356.9 404.4h0M368.8 399.1h0M361.0 407.8h0M389.9 387.8h0M366.6 405.6h0M362.3 403.7h0M379.1 386.5h0M355.8 381.2h0M350.9 387.2h0M377.3 402.1h0M355.0 398.1h0M384.1 369.1h0M357.9 370.9h0M352.9 402.4h0M356.5 379.9h0M380.1 399.5h0M350.3 397.2h0M357.6 383.8h0M366.3 386.3h0M365.4 389.8h0M385.2 400.4h0M354.5 381.1h0M354.5 404.7h0M365.0 406.2h0M381.8 401.4h0M351.8 399.7h0M360.7 382.4h0M359.5 376.7h0M381.6 394.1h0M358.4 393.7h0M379.4 407.7h0M361.4 388.0h0M378.6 411.8h0M368.6 394.5h0M360.3 397.6h0M375.0 391.1h0M349.5 412.4h0M379.5 390.3h0M364.3 395.1h0M346.0 397.4h0M352.2 393.5h0" stroke="#222" stroke-width="0.72" stroke-linecap="round" opacity="0.5"/>
<path d="M354.6,392.3l-.5 0 -.7-.1 -.6-.2 -.6-.2 -.5-.3 -.3-.2 -.5-.4 -.4-.4 -.4-.5 -.2-.3 -.3-.5 -.2-.6 -.2-.6 -.1-.7 0-.5 0-.5 .2-.8 .1-.5 .3-.5 .2-.5 .4-.5 .3-.3 .4-.4 .4-.3 .5-.3 .5-.3 .5-.1 .7-.2 .6-.1 .6 0 .6 .1 .7 .2 .5 .1 .5 .3 .5 .3 .4 .3 .4 .4 .3 .3 .4 .5 .2 .5 .3 .5 .1 .5 .2 .8 0 .5 0 .5 -.1 .7 -.2 .6 -.2 .6 -.3 .5 -.2 .3 -.4 .5 -.4 .4 -.5 .4 -.3 .2 -.5 .3 -.6 .2 -.6 .2 -.7 .1z" fill="none" stroke="#7a7a7a" stroke-width="0.45"/><path d="M355.4,390.6l-.8 .1 -.7-.1 -.5-.1 -.6-.2 -.5-.3 -.4-.4 -.4-.3 -.3-.5 -.2-.5 -.2-.5 -.1-.8 .1-.7 .1-.5 .2-.6 .3-.5 .4-.4 .3-.4 .5-.3 .5-.2 .5-.2 .8-.1 .7 .1 .5 .1 .6 .2 .5 .3 .4 .4 .4 .3 .3 .5 .2 .5 .2 .5 .1 .8 -.1 .7 -.1 .5 -.2 .6 -.3 .5 -.4 .4 -.3 .4 -.5 .3 -.5 .2 -.5 .2z" fill="none" stroke="#7a7a7a" stroke-width="0.45"/><path d="M355.4,389.3l-.8 .1 -.7 0 -.5-.2 -.5-.3 -.4-.4 -.3-.5 -.2-.5 0-.7 .1-.8 .3-.5 .2-.3 .5-.4 .5-.3 .5-.1 .8 0 .5 .1 .5 .3 .5 .4 .2 .3 .3 .5 .1 .8 0 .7 -.2 .5 -.3 .5 -.4 .4 -.5 .3z" fill="none" stroke="#7a7a7a" stroke-width="0.45"/>
<path d="M368.6,411.1l-.7 0 -.8 0 -.6-.1 -.6-.1 -.5-.2 -.5-.3 -.5-.3 -.5-.3 -.3-.3 -.5-.4 -.3-.3 -.4-.5 -.3-.3 -.3-.5 -.3-.5 -.3-.5 -.3-.5 -.2-.5 -.2-.5 -.3-.5 -.1-.5 -.2-.5 -.2-.7 -.2-.5 -.1-.6 -.2-.7 -.1-.5 -.1-.7 -.1-.8 -.1-.5 0-.7 -.1-.8 0-.7 0-.8 0-.7 .1-.8 .1-.7 0-.5 .1-.8 .1-.7 .1-.5 0-.8 -.1-.7 -.1-.5 -.1-.6 -.3-.7 -.1-.5 -.2-.5 -.2-.5 -.2-.7 -.1-.5 0-.8 .1-.6 .2-.5 .3-.4 .5-.3 .5-.3 .5-.1 .7-.2 .8-.1 .5 0 .7 0 .8-.1 .7 0 .8 0 .7-.1 .8 0 .7 0 .8 .1 .5 .2 .5 .2 .5 .2 .5 .3 .5 .3 .4 .4 .3 .3 .5 .5 .3 .4 .3 .3 .3 .5 .3 .5 .3 .5 .3 .5 .2 .5 .2 .5 .2 .5 .2 .5 .2 .6 .2 .7 .1 .5 .2 .7 .1 .5 .1 .8 .1 .5 .1 .7 .1 .8 0 .5 .1 .7 0 .8 .1 .7 0 .8 0 .7 0 .8 0 .7 -.1 .8 0 .7 -.1 .6 -.1 .7 -.2 .6 -.1 .6 -.2 .5 -.2 .7 -.2 .6 -.2 .5 -.3 .5 -.3 .5 -.2 .4 -.3 .3 -.4 .5 -.3 .4 -.4 .4 -.4 .3 -.5 .4 -.4 .3 -.5 .2 -.6 .3 -.5 .1 -.5 .2z" fill="none" stroke="#212121" stroke-width="0.5"/><path d="M368.6,408.8l-.7 .1 -.8-.1 -.5-.1 -.5-.2 -.5-.2 -.5-.3 -.5-.4 -.3-.3 -.4-.4 -.3-.4 -.4-.5 -.3-.4 -.3-.4 -.2-.5 -.3-.5 -.2-.5 -.3-.6 -.2-.6 -.1-.5 -.2-.5 -.2-.7 -.1-.5 -.1-.8 -.1-.5 -.1-.7 -.1-.8 0-.7 0-.8 0-.7 0-.8 .1-.7 .1-.8 .1-.5 .1-.7 0-.8 0-.7 -.1-.8 -.1-.5 -.2-.7 -.2-.5 -.2-.5 -.2-.5 -.2-.5 -.2-.8 0-.7 .2-.7 .3-.4 .5-.4 .5-.2 .5-.1 .7-.1 .8 0 .7 .1 .5 0 .8 .1 .7 .2 .5 .1 .6 .1 .7 .2 .5 .2 .5 .3 .5 .2 .5 .4 .3 .2 .4 .4 .4 .4 .4 .4 .2 .3 .4 .5 .3 .5 .3 .5 .2 .5 .2 .5 .2 .5 .2 .5 .2 .8 .1 .5 .2 .6 .1 .6 .1 .8 .1 .5 .1 .7 .1 .8 0 .5 .1 .7 0 .8 .1 .7 0 .8 0 .7 0 .8 -.1 .7 0 .8 -.1 .5 -.2 .7 -.1 .5 -.2 .6 -.3 .7 -.2 .5 -.3 .5 -.2 .4 -.3 .3 -.4 .5 -.3 .4 -.5 .4 -.3 .2 -.5 .3 -.5 .2 -.7 .3z" fill="none" stroke="#212121" stroke-width="0.5"/><path d="M368.9,407.1l-.8 .1 -.7-.1 -.5-.1 -.6-.2 -.4-.3 -.5-.3 -.5-.4 -.3-.3 -.3-.5 -.4-.5 -.3-.4 -.2-.5 -.3-.5 -.2-.5 -.2-.6 -.2-.5 -.2-.5 -.1-.7 -.2-.5 -.1-.8 -.1-.5 0-.7 -.1-.8 0-.7 0-.8 .1-.7 0-.8 .1-.5 .1-.7 .1-.8 .1-.5 0-.7 -.1-.5 -.2-.8 -.1-.5 -.2-.5 -.2-.5 -.3-.6 -.2-.6 -.1-.5 0-.8 .1-.5 .4-.5 .4-.2 .7-.2 .7-.1 .8 .1 .7 .1 .5 .1 .7 .2 .6 .2 .5 .2 .5 .3 .5 .3 .5 .3 .3 .2 .4 .4 .4 .4 .4 .3 .3 .4 .3 .5 .3 .5 .3 .5 .2 .5 .2 .5 .2 .5 .2 .6 .1 .7 .1 .5 .2 .7 .1 .6 .1 .7 .1 .7 .1 .5 .1 .8 .1 .7 0 .5 .1 .8 0 .7 0 .8 0 .7 -.1 .8 -.1 .5 -.1 .7 -.2 .5 -.1 .5 -.3 .6 -.2 .5 -.3 .4 -.4 .5 -.3 .4 -.4 .4 -.4 .2 -.5 .3 -.5 .2z" fill="none" stroke="#212121" stroke-width="0.5"/><path d="M368.6,405.8l-.7 0 -.5 0 -.7-.3 -.4-.2 -.4-.3 -.5-.5 -.3-.3 -.3-.4 -.4-.5 -.2-.5 -.3-.5 -.2-.5 -.2-.5 -.1-.5 -.2-.8 -.1-.5 -.2-.7 0-.5 -.1-.8 0-.7 0-.8 0-.7 .1-.8 0-.5 .2-.7 .1-.5 .1-.8 0-.7 -.1-.8 -.1-.5 -.2-.7 -.2-.5 -.3-.5 -.2-.5 -.1-.5 -.2-.8 .1-.7 .4-.4 .5-.3 .7-.1 .3 0 .7 .1 .6 .2 .7 .2 .5 .2 .5 .3 .5 .3 .3 .2 .4 .3 .5 .5 .3 .2 .4 .5 .3 .5 .3 .4 .2 .5 .3 .6 .2 .5 .1 .5 .2 .6 .1 .7 .1 .5 .2 .7 .1 .5 .1 .8 .1 .5 .1 .7 .2 .8 0 .5 .1 .7 .1 .8 0 .7 0 .8 -.1 .7 -.1 .8 -.1 .5 -.2 .5 -.2 .5 -.3 .5 -.3 .5 -.4 .5 -.3 .3 -.5 .3 -.5 .3 -.5 .1z" fill="none" stroke="#212121" stroke-width="0.5"/><path d="M368.9,404.4l-.8 .1 -.7-.1 -.5-.2 -.5-.4 -.4-.3 -.4-.4 -.2-.4 -.3-.4 -.2-.5 -.3-.6 -.2-.7 -.2-.5 -.1-.5 -.1-.7 -.1-.8 -.1-.5 0-.7 0-.8 .1-.5 .1-.7 .1-.8 .1-.5 .2-.7 .1-.5 0-.8 -.1-.7 -.1-.5 -.2-.5 -.2-.6 -.3-.6 -.2-.6 -.1-.5 0-.7 .3-.5 .5-.1 .8 0 .5 .1 .5 .2 .5 .3 .5 .3 .5 .3 .4 .4 .3 .4 .3 .3 .3 .5 .3 .5 .2 .5 .2 .5 .2 .8 .1 .5 .2 .6 .1 .6 .1 .5 .2 .8 .1 .5 .2 .7 .1 .5 .2 .7 .1 .6 .1 .7 0 .5 .1 .8 0 .7 -.1 .7 -.1 .6 -.1 .6 -.3 .6 -.2 .5 -.3 .4 -.3 .4 -.4 .3 -.5 .3z" fill="none" stroke="#212121" stroke-width="0.5"/><path d="M368.1,403l-.5 0 -.5-.2 -.5-.4 -.3-.4 -.3-.5 -.3-.5 -.2-.5 -.2-.5 -.2-.7 -.1-.5 0-.8 -.1-.7 .1-.8 0-.7 .1-.5 .2-.8 .2-.5 .2-.5 .2-.5 .2-.5 .2-.7 -.1-.8 -.2-.5 -.2-.5 -.3-.5 -.2-.5 -.2-.7 .5-.4 .5 .2 .5 .4 .3 .3 .4 .5 .2 .5 .2 .5 .1 .7 .1 .5 .2 .7 .3 .6 .2 .5 .2 .5 .2 .5 .2 .5 .2 .5 .2 .7 .2 .5 .1 .5 .2 .8 .1 .5 0 .7 0 .8 0 .7 -.1 .5 -.2 .6 -.3 .5 -.3 .4 -.4 .3 -.6 .2z" fill="none" stroke="#212121" stroke-width="0.5"/>
<ellipse cx="367.0" cy="395.9" rx="3.6" ry="6" transform="rotate(0.0 367.0 395.9)" fill="#000" opacity="0.98" filter="url(#b8)"/>
<ellipse cx="366.5" cy="394.4" rx="1.0" ry="1.8" transform="rotate(0.0 366.5 394.4)" fill="#fff" stroke="#fff" stroke-width="0"/>
<path d="M361.0,384.4 L368.0,390.4" stroke="#111" stroke-width="1.4"/>
</g>
<rect x="360.8" y="391.3" width="32.799999999999976" height="22.299999999999976" fill="none" stroke="#7ea65a" stroke-width="1.2"/>
<rect x="340.6" y="360.5" width="20.20000000000001" height="30.800000000000033" fill="none" stroke="#9b1d50" stroke-width="1.5"/>
<rect x="360.8" y="360.5" width="32.799999999999976" height="30.800000000000033" fill="none" stroke="#9b1d50" stroke-width="1.5"/>
<text x="351.2" y="376.2" font-size="6.2" text-anchor="middle" font-weight="normal" fill="#7a9fc6"  stroke="#7a9fc6" stroke-width="0.08">12%</text>
<text x="385.2" y="376.2" font-size="6.2" text-anchor="middle" font-weight="normal" fill="#7a9fc6"  stroke="#7a9fc6" stroke-width="0.08">41%</text>
<text x="385.2" y="402.2" font-size="6.2" text-anchor="middle" font-weight="normal" fill="#7a9fc6"  stroke="#7a9fc6" stroke-width="0.08">44%</text>
<rect x="340.0" y="359.9" width="54.19999999999999" height="54.30000000000001" fill="none" stroke="#000" stroke-width="1.05"/>
<path d="M340.1,359.9 V414.55 H394.2" fill="none" stroke="#000" stroke-width="1.6"/>
<text x="343.9" y="425.8" font-size="6.4" fill="#222" stroke="#222" stroke-width="0.2">010<tspan font-size="4.5" dy="-2.5">2</tspan></text>
<text x="360.0" y="425.8" font-size="6.4" fill="#222" stroke="#222" stroke-width="0.2">10<tspan font-size="4.5" dy="-2.5">3</tspan></text>
<text x="373.1" y="425.8" font-size="6.4" fill="#222" stroke="#222" stroke-width="0.2">10<tspan font-size="4.5" dy="-2.5">4</tspan></text>
<text x="385.6" y="425.8" font-size="6.4" fill="#222" stroke="#222" stroke-width="0.2">10<tspan font-size="4.5" dy="-2.5">5</tspan></text>
<rect x="400.2" y="359.9" width="54.19999999999999" height="54.30000000000001" fill="#fff"/>
<clipPath id="c12"><rect x="400.2" y="359.9" width="54.19999999999999" height="54.30000000000001"/></clipPath><g clip-path="url(#c12)">
<ellipse cx="419.2" cy="389.9" rx="14" ry="5" transform="rotate(0.0 419.2 389.9)" fill="#888" opacity="0.59" filter="url(#b3)"/>
<ellipse cx="429.2" cy="399.9" rx="6" ry="9" transform="rotate(11.5 429.2 399.9)" fill="#888" opacity="0.59" filter="url(#b3)"/>
<path d="M432.6 394.2h0M418.2 377.3h0M434.2 398.6h0M423.8 405.0h0M427.3 407.2h0M424.0 406.5h0M448.4 393.7h0M415.3 398.0h0M416.6 396.8h0M432.4 381.3h0M417.7 380.1h0M405.9 402.0h0M418.9 389.8h0M418.6 397.0h0M430.3 397.9h0M410.3 400.4h0M412.8 388.9h0M428.1 401.6h0M407.5 382.7h0M435.1 377.9h0M433.5 394.7h0M411.2 406.8h0M435.1 387.0h0M420.6 406.2h0M424.3 394.6h0M434.3 396.9h0M445.1 394.1h0M408.2 391.0h0M432.9 400.1h0M450.7 386.8h0M410.4 392.9h0M429.2 386.5h0M413.2 389.1h0M434.0 392.9h0M449.1 383.7h0M418.3 396.3h0M426.4 391.5h0M444.1 400.3h0M432.5 401.4h0M424.8 405.5h0M424.3 401.5h0M410.3 383.9h0M428.3 398.0h0M410.6 388.9h0M440.1 399.2h0M445.8 381.4h0M421.9 408.3h0M444.8 410.9h0M422.8 397.3h0M404.7 398.3h0M408.6 398.3h0M420.3 399.7h0M409.1 396.9h0M435.2 387.7h0M415.4 391.9h0M441.4 369.4h0M425.7 387.8h0M423.8 403.2h0M423.9 381.7h0M418.4 387.0h0M440.3 390.2h0M420.1 389.3h0M426.4 391.9h0M444.1 407.9h0M402.2 384.8h0M403.8 386.6h0M427.2 408.7h0M401.7 402.4h0M409.7 408.8h0M429.9 396.1h0M449.6 384.2h0M414.0 397.4h0M414.0 379.2h0M419.1 391.8h0M413.2 407.5h0M425.3 396.7h0M408.4 390.2h0M418.1 386.0h0M418.6 404.9h0M424.1 389.1h0M420.0 393.8h0M412.3 386.7h0M404.6 389.4h0M449.0 402.7h0M425.1 397.3h0M442.6 381.9h0M428.8 388.7h0M441.9 403.8h0M402.1 400.9h0M448.4 384.0h0M432.2 373.0h0M419.0 383.6h0M430.2 373.2h0M417.3 411.1h0M441.6 378.1h0M427.2 382.3h0M423.4 385.7h0M425.1 401.6h0M432.5 391.2h0M427.4 391.0h0M433.1 399.9h0M411.9 406.0h0M404.8 401.9h0M420.0 392.3h0M413.1 384.2h0M413.0 384.9h0M434.6 379.4h0M414.4 402.8h0M417.9 398.1h0M442.0 387.2h0M410.3 387.1h0M433.0 392.9h0M410.1 395.5h0M442.8 382.1h0M436.4 399.3h0M405.5 409.4h0M415.0 386.3h0M431.8 394.1h0M423.8 389.6h0M413.2 387.9h0M408.5 393.2h0M446.2 393.5h0M433.1 399.7h0M438.4 389.6h0M420.4 413.1h0M427.6 378.3h0M401.3 382.1h0M429.7 381.4h0M419.5 381.1h0M420.6 407.7h0M431.5 396.9h0M412.0 404.6h0M423.0 408.8h0M434.9 397.1h0M411.0 396.5h0M437.3 385.1h0M436.7 379.0h0M434.7 393.3h0M443.6 372.4h0M419.9 379.8h0M422.2 400.1h0M434.1 394.6h0" stroke="#222" stroke-width="0.72" stroke-linecap="round" opacity="0.5"/>
<path d="M412.8,408.1l-.7 0 -.7-.1 -.6-.2 -.5-.2 -.4-.3 -.3-.3 -.5-.5 -.3-.3 -.2-.4 -.3-.5 -.2-.5 -.3-.8 -.1-.5 -.1-.7 -.1-.5 0-.8 .1-.5 .1-.7 .1-.5 .3-.8 .2-.5 .3-.5 .2-.4 .3-.3 .5-.5 .3-.3 .4-.3 .5-.2 .6-.2 .7-.1 .7 0 .5 .2 .5 .2 .5 .3 .5 .4 .3 .2 .4 .5 .3 .5 .3 .5 .2 .5 .2 .5 .1 .5 .2 .8 0 .5 .1 .7 -.1 .6 -.1 .7 -.1 .7 -.2 .5 -.2 .5 -.2 .5 -.3 .5 -.4 .5 -.2 .3 -.5 .4 -.4 .3 -.5 .3 -.6 .2z" fill="none" stroke="#888888" stroke-width="0.45"/><path d="M413.1,405.8l-.8 .1 -.7 0 -.5-.2 -.5-.4 -.3-.3 -.4-.5 -.3-.5 -.2-.5 -.1-.5 -.1-.7 0-.8 .1-.7 .1-.5 .2-.5 .3-.5 .4-.5 .3-.3 .5-.4 .5-.2 .7 0 .8 .1 .5 .3 .3 .2 .4 .5 .3 .4 .2 .5 .3 .6 .1 .5 0 .8 0 .7 -.1 .7 -.2 .6 -.2 .5 -.4 .5 -.2 .3 -.5 .4 -.5 .3z" fill="none" stroke="#888888" stroke-width="0.45"/>
<path d="M400.3,386.4l.5-.2 .5-.2 .5-.2 .8-.3 .5-.1 .5-.2 .7-.1 .5-.2 .8-.1 .5-.1 .7-.1 .5-.1 .8-.1 .6-.1 .6-.1 .8-.1 .7-.1 .5 0 .8-.1 .7 0 .8-.1 .7 0 .8 0 .5 0 .7 0 .8-.1 .7 0 .8 .1 .6 0 .6 0 .8 0 .7 .1 .8 0 .7 .1 .8 0 .5 .1 .7 0 .8 .1 .7 .1 .5 0 .8 0 .7 .1 .8 0 .7 0 .8 .1 .6 0 .6 .1 .8 .2 .5 .1 .5 .2 .5 .2 .5 .2 .5 .3 .5 .3 .5 .4 .3 .3 .4 .5 .3 .3 .2 .4 .3 .8 0 .5 -.1 .5 -.2 .6 -.2 .6 -.2 .5 -.2 .5 -.2 .5 -.2 .8 0 .5 -.1 .7 -.1 .8 -.1 .5 0 .7 -.1 .8 -.1 .5 -.1 .7 -.1 .7 -.1 .6 -.2 .5 -.2 .7 -.1 .5 -.2 .6 -.2 .7 -.2 .5 -.2 .5 -.2 .5 -.2 .5 -.3 .5 -.3 .5 -.2 .5 -.3 .5 -.4 .5 -.2 .4 -.3 .3 -.4 .5 -.3 .4 -.4 .4 -.4 .3 -.5 .4 -.3 .3 -.4 .2 -.5 .3 -.6 .2 -.7 .2 -.7 0 -.7-.2 -.6-.2 -.4-.3 -.3-.3 -.4-.4 -.4-.5 -.2-.4 -.3-.5 -.2-.6 -.2-.5 -.1-.5 -.2-.8 -.1-.5 -.1-.7 0-.8 0-.7 0-.8 0-.7 .1-.8 0-.7 .1-.5 .1-.8 .1-.5 .2-.7 .1-.5 .1-.8 .1-.5 0-.7 -.1-.5 -.4-.4 -.5-.2 -.7-.1 -.8-.1 -.7 0 -.8 0 -.7 0 -.8 .1 -.7 0 -.8-.1 -.7 0 -.5 0 -.8 0 -.7 0 -.8-.1 -.7 0 -.8-.1 -.5 0 -.7-.1 -.8-.1 -.6-.1 -.6-.1 -.8-.1 -.5-.1 -.7-.1 -.5-.1 -.8-.1 -.5-.2 -.7-.1 -.5-.2 -.5-.1 -.8-.3 -.5-.2 -.5-.2 -.5-.2" fill="none" stroke="#1b1b1b" stroke-width="0.5"/><path d="M428.3,408.6l-.7 .1 -.8 0 -.5-.2 -.5-.3 -.5-.4 -.2-.3 -.3-.5 -.3-.5 -.2-.5 -.2-.7 -.1-.5 -.2-.8 0-.5 -.1-.7 0-.8 0-.7 .1-.8 .1-.5 .1-.7 .1-.6 .1-.7 .1-.5 .2-.7 .2-.5 .1-.7 .1-.6 0-.7 -.1-.5 -.5-.4 -.5-.2 -.6-.2 -.6 0 -.8 0 -.7 0 -.8 0 -.5 0 -.7 .1 -.8 0 -.7 0 -.8 0 -.7 0 -.8-.1 -.6 0 -.6 0 -.8 0 -.7-.1 -.8-.1 -.5 0 -.7-.1 -.8-.1 -.5-.1 -.7-.1 -.6-.1 -.7-.2 -.5-.1 -.7-.2 -.5-.1 -.6-.2 -.7-.2 -.5-.2 -.5-.3 -.5-.2 -.4-.3 -.3-.3 -.4-.5 -.2-.5 .1-.5 .3-.5 .4-.4 .5-.3 .4-.3 .5-.2 .6-.3 .5-.2 .5-.1 .5-.2 .8-.2 .5-.1 .7-.1 .5-.1 .8-.2 .5-.1 .7-.1 .8 0 .5-.1 .7-.1 .8 0 .7-.1 .8 0 .5 0 .7-.1 .8 0 .7 0 .8 0 .7 0 .8 .1 .5 0 .7 0 .8 .1 .7 0 .8 .1 .5 .1 .7 .1 .8 0 .5 .1 .7 .1 .8 .1 .5 0 .7 .1 .8 .1 .7 .1 .5 0 .8 .1 .5 .2 .7 .2 .5 .2 .5 .2 .5 .3 .3 .3 .5 .4 .2 .3 .3 .5 .2 .8 0 .7 -.1 .8 -.1 .6 -.2 .6 -.1 .8 0 .5 0 .7 -.1 .8 0 .7 0 .8 -.1 .7 0 .5 -.1 .8 -.2 .7 -.1 .5 -.1 .7 -.2 .6 -.1 .5 -.2 .5 -.3 .7 -.2 .5 -.2 .5 -.3 .5 -.2 .5 -.3 .5 -.3 .4 -.2 .4 -.4 .5 -.4 .5 -.2 .2 -.5 .5 -.3 .3 -.5 .3 -.5 .3 -.5 .2z" fill="none" stroke="#1b1b1b" stroke-width="0.5"/><path d="M428.1,406.8l-.8 0 -.5-.2 -.5-.3 -.3-.3 -.3-.5 -.3-.5 -.2-.5 -.1-.5 -.2-.7 -.1-.7 0-.6 0-.7 0-.8 .1-.5 .1-.7 .1-.6 .1-.7 .2-.5 .2-.7 .1-.5 .2-.5 .2-.6 .2-.7 0-.5 0-.5 -.2-.6 -.4-.4 -.5-.2 -.6-.1 -.8-.1 -.7 0 -.8 0 -.7 .1 -.8 0 -.7 .1 -.5 0 -.8 0 -.7 0 -.8 0 -.7 0 -.8 0 -.7 0 -.5 0 -.8-.1 -.7 0 -.8-.1 -.5-.1 -.7-.1 -.8-.1 -.5-.1 -.7-.1 -.5-.2 -.7-.1 -.6-.2 -.5-.2 -.5-.2 -.5-.2 -.5-.3 -.5-.4 -.3-.3 -.2-.7 .3-.6 .4-.4 .4-.3 .5-.2 .5-.3 .7-.2 .5-.2 .5-.1 .7-.2 .5-.1 .8-.2 .5 0 .7-.2 .6 0 .7-.1 .7-.1 .8 0 .7-.1 .5 0 .8 0 .7 0 .8 0 .7 0 .8 0 .5 0 .7 .1 .8 0 .7 .1 .8 .1 .5 0 .7 .1 .6 .1 .7 .1 .7 .2 .5 0 .8 .2 .5 0 .7 .2 .8 .1 .5 0 .7 .2 .5 .1 .5 .2 .6 .2 .4 .3 .5 .4 .3 .3 .3 .5 .2 .5 0 .8 0 .7 0 .5 -.1 .8 0 .7 0 .8 .1 .5 0 .7 0 .8 0 .7 0 .8 -.1 .5 -.1 .7 -.1 .6 -.1 .7 -.2 .5 -.2 .7 -.2 .5 -.2 .5 -.2 .5 -.2 .5 -.3 .5 -.3 .5 -.3 .5 -.3 .4 -.3 .4 -.4 .4 -.4 .3 -.4 .3 -.5 .3 -.6 .2z" fill="none" stroke="#1b1b1b" stroke-width="0.5"/><path d="M428.8,405.1l-.7 .2 -.8-.2 -.5-.3 -.2-.3 -.3-.5 -.3-.5 -.2-.7 -.1-.5 0-.8 0-.7 0-.8 .1-.7 .1-.5 .2-.8 .1-.5 .2-.5 .2-.6 .2-.6 .2-.5 .2-.5 .2-.5 .2-.5 .1-.8 -.1-.7 -.3-.4 -.5-.3 -.5-.2 -.5-.1 -.7-.1 -.8 0 -.5 .1 -.7 0 -.8 .1 -.7 .1 -.5 0 -.8 .1 -.7 .1 -.8 0 -.7 0 -.8 0 -.7 0 -.8 0 -.7 0 -.8-.1 -.7 0 -.5-.1 -.8-.1 -.7-.1 -.5-.1 -.8-.1 -.5-.2 -.5-.1 -.7-.3 -.5-.2 -.5-.2 -.5-.3 -.3-.3 -.2-.7 .3-.5 .4-.4 .5-.3 .5-.2 .5-.2 .5-.2 .8-.2 .5-.1 .7-.2 .5 0 .8-.1 .6-.1 .6-.1 .8 0 .7-.1 .8 0 .7 0 .8 0 .7 0 .8 0 .7 .1 .8 0 .6 .1 .6 .1 .8 .1 .5 0 .7 .2 .6 .1 .7 .1 .5 .1 .7 .2 .5 .1 .8 .2 .5 .1 .6 .2 .6 .1 .5 .2 .6 .2 .5 .2 .4 .4 .4 .4 .2 .5 .2 .7 0 .5 0 .8 .1 .7 .1 .8 .1 .5 .2 .7 0 .5 .1 .8 0 .7 0 .8 0 .7 -.1 .7 -.1 .6 -.2 .5 -.2 .7 -.2 .5 -.2 .5 -.2 .5 -.2 .5 -.3 .5 -.4 .5 -.3 .4 -.3 .4 -.4 .3 -.5 .4z" fill="none" stroke="#1b1b1b" stroke-width="0.5"/><path d="M419.6,391l-.8 .1 -.7 0 -.8 0 -.7 0 -.8 0 -.7 0 -.5-.1 -.8-.1 -.7-.1 -.5 0 -.8-.2 -.5-.1 -.7-.2 -.5-.2 -.5-.3 -.4-.3 -.4-.5 .3-.6 .4-.4 .5-.2 .6-.3 .5-.1 .5-.2 .7-.1 .5-.1 .8-.1 .7-.1 .5 0 .8-.1 .7 0 .8 0 .7 0 .8 0 .7 0 .5 .1 .8 .1 .7 .1 .5 0 .8 .2 .5 .1 .7 .2 .5 .2 .5 .1 .5 .2 .5 .3 .5 .3 .5 .4 0 .3 -.5 .4 -.5 .2 -.5 .2 -.7 .1 -.5 .2 -.8 .1 -.5 .1 -.7 .1 -.5 .1 -.8 .1 -.7 .1 -.5 0z" fill="none" stroke="#1b1b1b" stroke-width="0.5"/><path d="M428.8,403.5l-.7 .1 -.5-.2 -.4-.4 -.3-.5 -.2-.5 -.1-.7 0-.5 0-.8 0-.5 .1-.7 .2-.5 .2-.8 .2-.5 .2-.5 .2-.5 .3-.5 .3-.5 .3-.3 .3-.4 .4-.4 .5-.3 .8 .1 .3 .3 .3 .5 .3 .5 .1 .5 .2 .8 0 .5 0 .7 0 .5 -.1 .8 -.1 .6 -.2 .6 -.2 .5 -.2 .5 -.2 .5 -.3 .5 -.4 .5 -.3 .4 -.5 .4 -.4 .2z" fill="none" stroke="#1b1b1b" stroke-width="0.5"/><path d="M420.3,390.3l-.7 .1 -.8 0 -.7 .1 -.8 0 -.7 0 -.8 0 -.7-.1 -.8-.1 -.5-.1 -.7-.1 -.5-.2 -.5-.2 -.5-.2 -.4-.5 .1-.5 .5-.3 .5-.2 .6-.2 .7-.2 .5-.1 .7-.1 .8 0 .7-.1 .8 0 .7 0 .8 0 .7 .1 .8 .1 .5 .1 .7 .1 .5 .2 .5 .1 .5 .3 .5 .4 0 .4 -.4 .4 -.5 .3 -.6 .2 -.5 .1 -.7 .1z" fill="none" stroke="#1b1b1b" stroke-width="0.5"/><path d="M429.1,401.7l-.8 0 -.4-.4 -.2-.5 -.1-.8 0-.7 .2-.8 .1-.5 .2-.5 .3-.5 .4-.5 .3-.3 .5-.2 .5 0 .4 .5 .2 .5 .1 .8 0 .7 -.2 .8 -.1 .5 -.2 .5 -.3 .5 -.4 .5 -.3 .2z" fill="none" stroke="#1b1b1b" stroke-width="0.5"/>
<ellipse cx="422.2" cy="388.9" rx="8" ry="2.2" transform="rotate(0.0 422.2 388.9)" fill="#000" opacity="0.78" filter="url(#b8)"/>
<ellipse cx="430.2" cy="399.9" rx="2.5" ry="5" transform="rotate(14.3 430.2 399.9)" fill="#000" opacity="0.65" filter="url(#b8)"/>
</g>
<rect x="421.2" y="392.2" width="32.59999999999999" height="21.4" fill="none" stroke="#7ea65a" stroke-width="1.2"/>
<rect x="400.8" y="360.5" width="20.4" height="31.70000000000001" fill="none" stroke="#9b1d50" stroke-width="1.5"/>
<rect x="421.2" y="360.5" width="32.59999999999999" height="31.70000000000001" fill="none" stroke="#9b1d50" stroke-width="1.5"/>
<text x="411.4" y="376.2" font-size="6.2" text-anchor="middle" font-weight="normal" fill="#7a9fc6"  stroke="#7a9fc6" stroke-width="0.08">21%</text>
<text x="445.4" y="376.2" font-size="6.2" text-anchor="middle" font-weight="normal" fill="#7a9fc6"  stroke="#7a9fc6" stroke-width="0.08">50%</text>
<text x="445.4" y="402.2" font-size="6.2" text-anchor="middle" font-weight="normal" fill="#7a9fc6"  stroke="#7a9fc6" stroke-width="0.08">29%</text>
<rect x="400.2" y="359.9" width="54.19999999999999" height="54.30000000000001" fill="none" stroke="#000" stroke-width="1.05"/>
<path d="M400.3,359.9 V414.55 H454.4" fill="none" stroke="#000" stroke-width="1.6"/>
<text x="404.1" y="425.8" font-size="6.4" fill="#222" stroke="#222" stroke-width="0.2">010<tspan font-size="4.5" dy="-2.5">2</tspan></text>
<text x="420.2" y="425.8" font-size="6.4" fill="#222" stroke="#222" stroke-width="0.2">10<tspan font-size="4.5" dy="-2.5">3</tspan></text>
<text x="433.3" y="425.8" font-size="6.4" fill="#222" stroke="#222" stroke-width="0.2">10<tspan font-size="4.5" dy="-2.5">4</tspan></text>
<text x="445.8" y="425.8" font-size="6.4" fill="#222" stroke="#222" stroke-width="0.2">10<tspan font-size="4.5" dy="-2.5">5</tspan></text>
<text x="281.0" y="367.3" font-size="6.4" text-anchor="start" font-weight="normal" fill="#9b1d50"  stroke="#9b1d50" stroke-width="0.22">CFUe</text>
<text x="302.0" y="367.3" font-size="6.4" text-anchor="start" font-weight="normal" fill="#9b1d50"  stroke="#9b1d50" stroke-width="0.22">PreCFUE</text>
<text x="331.5" y="397.8" font-size="6.4" text-anchor="end" font-weight="normal" fill="#7ea65a"  stroke="#7ea65a" stroke-width="0.22">Pre</text>
<text x="331.5" y="407.4" font-size="6.4" text-anchor="end" font-weight="normal" fill="#7ea65a"  stroke="#7ea65a" stroke-width="0.22">MegE</text>
<text x="324.5" y="413.4" font-size="6.2" text-anchor="middle" font-weight="normal" fill="#7a9fc6"  stroke="#7a9fc6" stroke-width="0.08">50%</text>
<text x="277.2" y="367.8" font-size="6.2" text-anchor="end" fill="#222" stroke="#222" stroke-width="0.2">10<tspan font-size="4.3" dy="-2.4">5</tspan></text>
<text x="277.2" y="380.0" font-size="6.2" text-anchor="end" fill="#222" stroke="#222" stroke-width="0.2">10<tspan font-size="4.3" dy="-2.4">4</tspan></text>
<text x="277.2" y="392.9" font-size="6.2" text-anchor="end" fill="#222" stroke="#222" stroke-width="0.2">10<tspan font-size="4.3" dy="-2.4">3</tspan></text>
<text x="277.2" y="405.6" font-size="6.2" text-anchor="end" fill="#222" stroke="#222" stroke-width="0.2">10<tspan font-size="4.3" dy="-2.4">2</tspan></text>
<text x="277.2" y="410.8" font-size="6.2" text-anchor="end" font-weight="normal" fill="#222"  stroke="#222" stroke-width="0.2">0</text>
<line x1="263.6" y1="431.0" x2="263.6" y2="360.3" stroke="#000" stroke-width="1.3"/>
<path d="M260.40000000000003,361.8 L263.6,354.3 L266.8,361.8 Z" fill="#000"/>
<line x1="263.0" y1="431.0" x2="459.4" y2="431.0" stroke="#000" stroke-width="1.3"/>
<path d="M457.9,428.0 L465.4,431.0 L457.9,434.0 Z" fill="#000"/>
<text x="469.6" y="433.8" font-size="9.6" text-anchor="start" font-weight="normal" fill="#111" textLength="25.0" lengthAdjust="spacingAndGlyphs"  stroke="#111" stroke-width="0.2">CD150</text>
<text transform="translate(256.6 391.6) rotate(-90) scale(0.88 1)" font-size="9.66" text-anchor="middle" fill="#111" stroke="#111" stroke-width="0.2">Endoglin</text>
<text x="459.0" y="389.8" font-size="8.2" text-anchor="start" font-weight="normal" fill="#111"  stroke="#111" stroke-width="0.2">LK41-</text>
<text x="459.0" y="401.4" font-size="8.2" text-anchor="start" font-weight="normal" fill="#111"  stroke="#111" stroke-width="0.2">16/32-</text>
<path d="M0,0H520V489H0Z M1.2,1.15V487.2H518.4V1.15Z" fill="#000" fill-rule="evenodd"/>
</svg>
</body></html>
